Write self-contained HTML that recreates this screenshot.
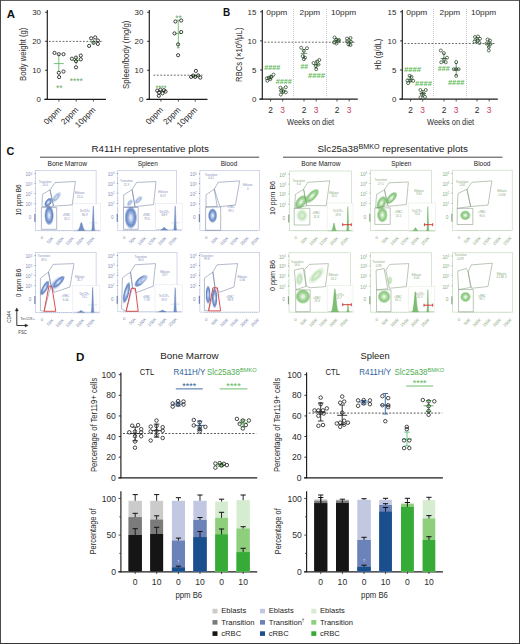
<!DOCTYPE html><html><head><meta charset="utf-8"><style>html,body{margin:0;padding:0;background:#fff;}body{width:520px;height:644px;overflow:hidden;}svg{display:block;font-family:"Liberation Sans", sans-serif;}</style></head><body>
<svg width="520" height="644" viewBox="0 0 520 644">
<defs>
<radialGradient id="gb"><stop offset="0" stop-color="#eef3fb"/><stop offset="0.35" stop-color="#aec2e6"/><stop offset="0.7" stop-color="#6a8bc9"/><stop offset="0.88" stop-color="#b5c7e7" stop-opacity="0.7"/><stop offset="1" stop-color="#ffffff" stop-opacity="0"/></radialGradient>
<radialGradient id="gbl"><stop offset="0" stop-color="#dbe5f4"/><stop offset="0.5" stop-color="#a5bce2"/><stop offset="1" stop-color="#ffffff" stop-opacity="0"/></radialGradient>
<radialGradient id="gg"><stop offset="0" stop-color="#f2faf0"/><stop offset="0.35" stop-color="#c4e4bc"/><stop offset="0.7" stop-color="#8ccb82"/><stop offset="0.88" stop-color="#c6e6bf" stop-opacity="0.7"/><stop offset="1" stop-color="#ffffff" stop-opacity="0"/></radialGradient>
<radialGradient id="ggl"><stop offset="0" stop-color="#e3f2df"/><stop offset="0.5" stop-color="#c4e5bc"/><stop offset="1" stop-color="#ffffff" stop-opacity="0"/></radialGradient>
</defs>
<rect x="0" y="0" width="520" height="644" fill="#ffffff"/>
<text x="6.7" y="17.8" font-size="11.2" fill="#111" font-weight="bold" textLength="8.3" lengthAdjust="spacingAndGlyphs">A</text>
<line x1="47.3" y1="10" x2="47.3" y2="99.8" stroke="#1c1c1c" stroke-width="1.15" />
<line x1="45.1" y1="12.3" x2="47.3" y2="12.3" stroke="#1c1c1c" stroke-width="0.9" />
<text x="41" y="15.14" font-size="7.9" fill="#2b2b2b" text-anchor="end">30</text>
<line x1="45.1" y1="41.3" x2="47.3" y2="41.3" stroke="#1c1c1c" stroke-width="0.9" />
<text x="41" y="44.14" font-size="7.9" fill="#2b2b2b" text-anchor="end">20</text>
<line x1="45.1" y1="70.3" x2="47.3" y2="70.3" stroke="#1c1c1c" stroke-width="0.9" />
<text x="41" y="73.14" font-size="7.9" fill="#2b2b2b" text-anchor="end">10</text>
<line x1="45.1" y1="99.3" x2="47.3" y2="99.3" stroke="#1c1c1c" stroke-width="0.9" />
<text x="41" y="102.14" font-size="7.9" fill="#2b2b2b" text-anchor="end">0</text>
<line x1="44.3" y1="99.3" x2="106" y2="99.3" stroke="#1c1c1c" stroke-width="1.15" />
<line x1="58.9" y1="99.3" x2="58.9" y2="101.6" stroke="#2b2b2b" stroke-width="0.8" />
<line x1="76.2" y1="99.3" x2="76.2" y2="101.6" stroke="#2b2b2b" stroke-width="0.8" />
<line x1="93.4" y1="99.3" x2="93.4" y2="101.6" stroke="#2b2b2b" stroke-width="0.8" />
<line x1="49" y1="41.4" x2="103.5" y2="41.4" stroke="#2b2b2b" stroke-width="0.7" stroke-dasharray="1.8,1.6"/>
<text x="61.5" y="110.5" font-size="8.2" fill="#2b2b2b" text-anchor="end" transform="rotate(-45 61.5 110.5)">0ppm</text>
<text x="78.8" y="110.5" font-size="8.2" fill="#2b2b2b" text-anchor="end" transform="rotate(-45 78.8 110.5)">2ppm</text>
<text x="96" y="110.5" font-size="8.2" fill="#2b2b2b" text-anchor="end" transform="rotate(-45 96 110.5)">10ppm</text>
<text x="26.3" y="54.3" font-size="8.8" fill="#2b2b2b" text-anchor="middle" textLength="53.3" lengthAdjust="spacingAndGlyphs" transform="rotate(-90 26.3 54.3)">Body weight (g)</text>
<line x1="53.8" y1="63.6" x2="63.8" y2="63.6" stroke="#4fae4f" stroke-width="0.75" />
<line x1="58.8" y1="54.2" x2="58.8" y2="71.7" stroke="#4fae4f" stroke-width="0.75" />
<line x1="58.8" y1="54.2" x2="58.8" y2="54.2" stroke="#4fae4f" stroke-width="0.75" />
<line x1="58.8" y1="71.7" x2="58.8" y2="71.7" stroke="#4fae4f" stroke-width="0.75" />
<line x1="72.7" y1="60.5" x2="79.7" y2="60.5" stroke="#4fae4f" stroke-width="0.75" />
<line x1="76.2" y1="57" x2="76.2" y2="64.5" stroke="#4fae4f" stroke-width="0.75" />
<line x1="76.2" y1="57" x2="76.2" y2="57" stroke="#4fae4f" stroke-width="0.75" />
<line x1="76.2" y1="64.5" x2="76.2" y2="64.5" stroke="#4fae4f" stroke-width="0.75" />
<line x1="90.1" y1="41.8" x2="97.1" y2="41.8" stroke="#4fae4f" stroke-width="0.75" />
<line x1="93.6" y1="39" x2="93.6" y2="44.5" stroke="#4fae4f" stroke-width="0.75" />
<line x1="93.6" y1="39" x2="93.6" y2="39" stroke="#4fae4f" stroke-width="0.75" />
<line x1="93.6" y1="44.5" x2="93.6" y2="44.5" stroke="#4fae4f" stroke-width="0.75" />
<circle cx="54.5" cy="52.9" r="1.6" fill="none" stroke="#1f1f1f" stroke-width="0.85"/>
<circle cx="58.8" cy="54.2" r="1.6" fill="none" stroke="#1f1f1f" stroke-width="0.85"/>
<circle cx="63.5" cy="54.2" r="1.6" fill="none" stroke="#1f1f1f" stroke-width="0.85"/>
<circle cx="58.8" cy="72.8" r="1.6" fill="none" stroke="#1f1f1f" stroke-width="0.85"/>
<circle cx="63.5" cy="71.5" r="1.6" fill="none" stroke="#1f1f1f" stroke-width="0.85"/>
<circle cx="59.1" cy="77.1" r="1.6" fill="none" stroke="#1f1f1f" stroke-width="0.85"/>
<circle cx="71.9" cy="58.7" r="1.6" fill="none" stroke="#1f1f1f" stroke-width="0.85"/>
<circle cx="76" cy="57.6" r="1.6" fill="none" stroke="#1f1f1f" stroke-width="0.85"/>
<circle cx="80.8" cy="55.6" r="1.6" fill="none" stroke="#1f1f1f" stroke-width="0.85"/>
<circle cx="80.8" cy="59.3" r="1.6" fill="none" stroke="#1f1f1f" stroke-width="0.85"/>
<circle cx="76" cy="61.2" r="1.6" fill="none" stroke="#1f1f1f" stroke-width="0.85"/>
<circle cx="76" cy="67.3" r="1.6" fill="none" stroke="#1f1f1f" stroke-width="0.85"/>
<circle cx="91.1" cy="38.3" r="1.6" fill="none" stroke="#1f1f1f" stroke-width="0.85"/>
<circle cx="95.2" cy="37.4" r="1.6" fill="none" stroke="#1f1f1f" stroke-width="0.85"/>
<circle cx="97.9" cy="40.5" r="1.6" fill="none" stroke="#1f1f1f" stroke-width="0.85"/>
<circle cx="89.1" cy="45.9" r="1.6" fill="none" stroke="#1f1f1f" stroke-width="0.85"/>
<circle cx="93.6" cy="42.8" r="1.6" fill="none" stroke="#1f1f1f" stroke-width="0.85"/>
<circle cx="97.9" cy="43.9" r="1.6" fill="none" stroke="#1f1f1f" stroke-width="0.85"/>
<text x="59.2" y="91" font-size="8.4" fill="#68a863" text-anchor="middle">**</text>
<text x="76.2" y="84.1" font-size="8.4" fill="#68a863" text-anchor="middle" textLength="13" lengthAdjust="spacingAndGlyphs">****</text>
<line x1="149.3" y1="10" x2="149.3" y2="99.8" stroke="#1c1c1c" stroke-width="1.15" />
<line x1="147.1" y1="12.3" x2="149.3" y2="12.3" stroke="#1c1c1c" stroke-width="0.9" />
<text x="143.3" y="15.14" font-size="7.9" fill="#2b2b2b" text-anchor="end">30</text>
<line x1="147.1" y1="41.3" x2="149.3" y2="41.3" stroke="#1c1c1c" stroke-width="0.9" />
<text x="143.3" y="44.14" font-size="7.9" fill="#2b2b2b" text-anchor="end">20</text>
<line x1="147.1" y1="70.3" x2="149.3" y2="70.3" stroke="#1c1c1c" stroke-width="0.9" />
<text x="143.3" y="73.14" font-size="7.9" fill="#2b2b2b" text-anchor="end">10</text>
<line x1="147.1" y1="99.3" x2="149.3" y2="99.3" stroke="#1c1c1c" stroke-width="0.9" />
<text x="143.3" y="102.14" font-size="7.9" fill="#2b2b2b" text-anchor="end">0</text>
<line x1="146.3" y1="99.3" x2="207.5" y2="99.3" stroke="#1c1c1c" stroke-width="1.15" />
<line x1="160.9" y1="99.3" x2="160.9" y2="101.6" stroke="#2b2b2b" stroke-width="0.8" />
<line x1="178.4" y1="99.3" x2="178.4" y2="101.6" stroke="#2b2b2b" stroke-width="0.8" />
<line x1="195.2" y1="99.3" x2="195.2" y2="101.6" stroke="#2b2b2b" stroke-width="0.8" />
<line x1="153.5" y1="75.2" x2="202.5" y2="75.2" stroke="#2b2b2b" stroke-width="0.7" stroke-dasharray="1.8,1.6"/>
<text x="163.5" y="110.5" font-size="8.2" fill="#2b2b2b" text-anchor="end" transform="rotate(-45 163.5 110.5)">0ppm</text>
<text x="181" y="110.5" font-size="8.2" fill="#2b2b2b" text-anchor="end" transform="rotate(-45 181 110.5)">2ppm</text>
<text x="197.8" y="110.5" font-size="8.2" fill="#2b2b2b" text-anchor="end" transform="rotate(-45 197.8 110.5)">10ppm</text>
<text x="128.6" y="54.7" font-size="8.8" fill="#2b2b2b" text-anchor="middle" textLength="68.4" lengthAdjust="spacingAndGlyphs" transform="rotate(-90 128.6 54.7)">Spleen/body (mg/g)</text>
<line x1="157.5" y1="91.5" x2="164.5" y2="91.5" stroke="#4fae4f" stroke-width="0.75" />
<line x1="161" y1="89.5" x2="161" y2="93.5" stroke="#4fae4f" stroke-width="0.75" />
<line x1="161" y1="89.5" x2="161" y2="89.5" stroke="#4fae4f" stroke-width="0.75" />
<line x1="161" y1="93.5" x2="161" y2="93.5" stroke="#4fae4f" stroke-width="0.75" />
<line x1="174.8" y1="33.6" x2="181.8" y2="33.6" stroke="#4fae4f" stroke-width="0.75" />
<line x1="178.3" y1="20.2" x2="178.3" y2="47.8" stroke="#4fae4f" stroke-width="0.75" />
<line x1="176.8" y1="20.2" x2="179.8" y2="20.2" stroke="#4fae4f" stroke-width="0.75" />
<line x1="176.8" y1="47.8" x2="179.8" y2="47.8" stroke="#4fae4f" stroke-width="0.75" />
<line x1="191.7" y1="75.8" x2="198.7" y2="75.8" stroke="#4fae4f" stroke-width="0.75" />
<line x1="195.2" y1="74.5" x2="195.2" y2="77.3" stroke="#4fae4f" stroke-width="0.75" />
<line x1="195.2" y1="74.5" x2="195.2" y2="74.5" stroke="#4fae4f" stroke-width="0.75" />
<line x1="195.2" y1="77.3" x2="195.2" y2="77.3" stroke="#4fae4f" stroke-width="0.75" />
<circle cx="157.2" cy="90.6" r="1.6" fill="none" stroke="#1f1f1f" stroke-width="0.85"/>
<circle cx="160.5" cy="89.6" r="1.6" fill="none" stroke="#1f1f1f" stroke-width="0.85"/>
<circle cx="164" cy="90.2" r="1.6" fill="none" stroke="#1f1f1f" stroke-width="0.85"/>
<circle cx="165.5" cy="91.5" r="1.6" fill="none" stroke="#1f1f1f" stroke-width="0.85"/>
<circle cx="159" cy="92.6" r="1.6" fill="none" stroke="#1f1f1f" stroke-width="0.85"/>
<circle cx="158.8" cy="95.8" r="1.6" fill="none" stroke="#1f1f1f" stroke-width="0.85"/>
<circle cx="162.5" cy="93.3" r="1.6" fill="none" stroke="#1f1f1f" stroke-width="0.85"/>
<circle cx="175.4" cy="21.5" r="1.6" fill="none" stroke="#1f1f1f" stroke-width="0.85"/>
<circle cx="181.2" cy="20.5" r="1.6" fill="none" stroke="#1f1f1f" stroke-width="0.85"/>
<circle cx="174.5" cy="33.4" r="1.6" fill="none" stroke="#1f1f1f" stroke-width="0.85"/>
<circle cx="181.2" cy="32" r="1.6" fill="none" stroke="#1f1f1f" stroke-width="0.85"/>
<circle cx="178.1" cy="44.4" r="1.6" fill="none" stroke="#1f1f1f" stroke-width="0.85"/>
<circle cx="178.1" cy="55.2" r="1.6" fill="none" stroke="#1f1f1f" stroke-width="0.85"/>
<circle cx="195.9" cy="70.9" r="1.6" fill="none" stroke="#1f1f1f" stroke-width="0.85"/>
<circle cx="191.1" cy="76.9" r="1.6" fill="none" stroke="#1f1f1f" stroke-width="0.85"/>
<circle cx="195.2" cy="76.9" r="1.6" fill="none" stroke="#1f1f1f" stroke-width="0.85"/>
<circle cx="200.3" cy="77.6" r="1.6" fill="none" stroke="#1f1f1f" stroke-width="0.85"/>
<circle cx="193.2" cy="75.6" r="1.6" fill="none" stroke="#1f1f1f" stroke-width="0.85"/>
<circle cx="198.2" cy="75.4" r="1.6" fill="none" stroke="#1f1f1f" stroke-width="0.85"/>
<text x="161" y="90.5" font-size="8.4" fill="#68a863" text-anchor="middle" textLength="11" lengthAdjust="spacingAndGlyphs">****</text>
<text x="178.4" y="21.2" font-size="8.4" fill="#68a863" text-anchor="middle">**</text>
<text x="223" y="15.9" font-size="11.2" fill="#111" font-weight="bold" textLength="7.2" lengthAdjust="spacingAndGlyphs">B</text>
<line x1="262.3" y1="10" x2="262.3" y2="99.6" stroke="#1c1c1c" stroke-width="1.15" />
<line x1="260.1" y1="11.8" x2="262.3" y2="11.8" stroke="#1c1c1c" stroke-width="0.9" />
<text x="256.3" y="14.64" font-size="7.9" fill="#2b2b2b" text-anchor="end">15</text>
<line x1="260.1" y1="40.9" x2="262.3" y2="40.9" stroke="#1c1c1c" stroke-width="0.9" />
<text x="256.3" y="43.74" font-size="7.9" fill="#2b2b2b" text-anchor="end">10</text>
<line x1="260.1" y1="70" x2="262.3" y2="70" stroke="#1c1c1c" stroke-width="0.9" />
<text x="256.3" y="72.84" font-size="7.9" fill="#2b2b2b" text-anchor="end">5</text>
<line x1="260.1" y1="99.1" x2="262.3" y2="99.1" stroke="#1c1c1c" stroke-width="0.9" />
<text x="256.3" y="101.94" font-size="7.9" fill="#2b2b2b" text-anchor="end">0</text>
<line x1="259.3" y1="99.1" x2="357.8" y2="99.1" stroke="#1c1c1c" stroke-width="1.15" />
<line x1="293.5" y1="9" x2="293.5" y2="97.5" stroke="#9a9a9a" stroke-width="0.6" stroke-dasharray="0.9,1.1"/>
<line x1="326.5" y1="9" x2="326.5" y2="97.5" stroke="#9a9a9a" stroke-width="0.6" stroke-dasharray="0.9,1.1"/>
<line x1="264.3" y1="42.2" x2="355" y2="42.2" stroke="#2b2b2b" stroke-width="0.7" stroke-dasharray="1.8,1.6"/>
<text x="266.3" y="14.6" font-size="8" fill="#2b2b2b" textLength="21" lengthAdjust="spacingAndGlyphs">0ppm</text>
<text x="299.6" y="14.6" font-size="8" fill="#2b2b2b" textLength="20.6" lengthAdjust="spacingAndGlyphs">2ppm</text>
<text x="330.9" y="14.6" font-size="8" fill="#2b2b2b" textLength="25.3" lengthAdjust="spacingAndGlyphs">10ppm</text>
<line x1="270.6" y1="99.1" x2="270.6" y2="101.5" stroke="#2b2b2b" stroke-width="0.8" />
<text x="270.6" y="112.6" font-size="8.4" fill="#2b2b2b" text-anchor="middle">2</text>
<line x1="282.7" y1="99.1" x2="282.7" y2="101.5" stroke="#2b2b2b" stroke-width="0.8" />
<text x="282.7" y="112.6" font-size="8.4" fill="#c63a5e" text-anchor="middle">3</text>
<line x1="304" y1="99.1" x2="304" y2="101.5" stroke="#2b2b2b" stroke-width="0.8" />
<text x="304" y="112.6" font-size="8.4" fill="#2b2b2b" text-anchor="middle">2</text>
<line x1="316.2" y1="99.1" x2="316.2" y2="101.5" stroke="#2b2b2b" stroke-width="0.8" />
<text x="316.2" y="112.6" font-size="8.4" fill="#c63a5e" text-anchor="middle">3</text>
<line x1="337" y1="99.1" x2="337" y2="101.5" stroke="#2b2b2b" stroke-width="0.8" />
<text x="337" y="112.6" font-size="8.4" fill="#2b2b2b" text-anchor="middle">2</text>
<line x1="349.2" y1="99.1" x2="349.2" y2="101.5" stroke="#2b2b2b" stroke-width="0.8" />
<text x="349.2" y="112.6" font-size="8.4" fill="#c63a5e" text-anchor="middle">3</text>
<text x="310.6" y="125.1" font-size="9.7" fill="#2b2b2b" text-anchor="middle" textLength="47" lengthAdjust="spacingAndGlyphs">Weeks on diet</text>
<text x="0" y="0" font-size="8.8" fill="#2b2b2b" text-anchor="middle" transform="translate(241.6 54.8) rotate(-90) scale(0.8812 1)">RBCs (×10<tspan font-size="6" dy="-3">6</tspan><tspan dy="3">/µL)</tspan></text>
<line x1="267.35" y1="77" x2="273.85" y2="77" stroke="#2f6b2f" stroke-width="0.7" />
<line x1="270.6" y1="75.2" x2="270.6" y2="79" stroke="#2f6b2f" stroke-width="0.7" />
<line x1="269.4" y1="75.2" x2="271.8" y2="75.2" stroke="#2f6b2f" stroke-width="0.7" />
<line x1="269.4" y1="79" x2="271.8" y2="79" stroke="#2f6b2f" stroke-width="0.7" />
<circle cx="267.3" cy="80.8" r="1.5" fill="none" stroke="#1e3a1e" stroke-width="0.7"/>
<circle cx="268.8" cy="77.7" r="1.5" fill="none" stroke="#1e3a1e" stroke-width="0.7"/>
<circle cx="271.2" cy="77" r="1.5" fill="none" stroke="#1e3a1e" stroke-width="0.7"/>
<circle cx="273.5" cy="74.6" r="1.5" fill="none" stroke="#1e3a1e" stroke-width="0.7"/>
<circle cx="270.3" cy="79.2" r="1.5" fill="none" stroke="#1e3a1e" stroke-width="0.7"/>
<circle cx="266.9" cy="78.3" r="1.5" fill="none" stroke="#1e3a1e" stroke-width="0.7"/>
<line x1="279.45" y1="91" x2="285.95" y2="91" stroke="#2f6b2f" stroke-width="0.7" />
<line x1="282.7" y1="88" x2="282.7" y2="93.5" stroke="#2f6b2f" stroke-width="0.7" />
<line x1="281.5" y1="88" x2="283.9" y2="88" stroke="#2f6b2f" stroke-width="0.7" />
<line x1="281.5" y1="93.5" x2="283.9" y2="93.5" stroke="#2f6b2f" stroke-width="0.7" />
<circle cx="280.4" cy="87.7" r="1.5" fill="none" stroke="#1e3a1e" stroke-width="0.7"/>
<circle cx="285.8" cy="87.2" r="1.5" fill="none" stroke="#1e3a1e" stroke-width="0.7"/>
<circle cx="281.2" cy="90.8" r="1.5" fill="none" stroke="#1e3a1e" stroke-width="0.7"/>
<circle cx="285.8" cy="92.3" r="1.5" fill="none" stroke="#1e3a1e" stroke-width="0.7"/>
<circle cx="280.8" cy="94.6" r="1.5" fill="none" stroke="#1e3a1e" stroke-width="0.7"/>
<circle cx="283.5" cy="91.2" r="1.5" fill="none" stroke="#1e3a1e" stroke-width="0.7"/>
<line x1="300.65" y1="53.4" x2="307.15" y2="53.4" stroke="#2f6b2f" stroke-width="0.7" />
<line x1="303.9" y1="49.5" x2="303.9" y2="57.5" stroke="#2f6b2f" stroke-width="0.7" />
<line x1="302.7" y1="49.5" x2="305.1" y2="49.5" stroke="#2f6b2f" stroke-width="0.7" />
<line x1="302.7" y1="57.5" x2="305.1" y2="57.5" stroke="#2f6b2f" stroke-width="0.7" />
<circle cx="301.2" cy="47.7" r="1.5" fill="none" stroke="#1e3a1e" stroke-width="0.7"/>
<circle cx="307" cy="48.2" r="1.5" fill="none" stroke="#1e3a1e" stroke-width="0.7"/>
<circle cx="303.9" cy="50.8" r="1.5" fill="none" stroke="#1e3a1e" stroke-width="0.7"/>
<circle cx="302.7" cy="56.2" r="1.5" fill="none" stroke="#1e3a1e" stroke-width="0.7"/>
<circle cx="305" cy="57.7" r="1.5" fill="none" stroke="#1e3a1e" stroke-width="0.7"/>
<circle cx="303.9" cy="59.2" r="1.5" fill="none" stroke="#1e3a1e" stroke-width="0.7"/>
<line x1="312.95" y1="64.5" x2="319.45" y2="64.5" stroke="#2f6b2f" stroke-width="0.7" />
<line x1="316.2" y1="61" x2="316.2" y2="68" stroke="#2f6b2f" stroke-width="0.7" />
<line x1="315" y1="61" x2="317.4" y2="61" stroke="#2f6b2f" stroke-width="0.7" />
<line x1="315" y1="68" x2="317.4" y2="68" stroke="#2f6b2f" stroke-width="0.7" />
<circle cx="313.5" cy="63" r="1.5" fill="none" stroke="#1e3a1e" stroke-width="0.7"/>
<circle cx="317.3" cy="61.5" r="1.5" fill="none" stroke="#1e3a1e" stroke-width="0.7"/>
<circle cx="319.3" cy="60" r="1.5" fill="none" stroke="#1e3a1e" stroke-width="0.7"/>
<circle cx="315.8" cy="66.2" r="1.5" fill="none" stroke="#1e3a1e" stroke-width="0.7"/>
<circle cx="316.2" cy="69.2" r="1.5" fill="none" stroke="#1e3a1e" stroke-width="0.7"/>
<circle cx="318.5" cy="64.5" r="1.5" fill="none" stroke="#1e3a1e" stroke-width="0.7"/>
<line x1="332.95" y1="40.8" x2="339.45" y2="40.8" stroke="#2f6b2f" stroke-width="0.7" />
<line x1="336.2" y1="38.5" x2="336.2" y2="43" stroke="#2f6b2f" stroke-width="0.7" />
<line x1="335" y1="38.5" x2="337.4" y2="38.5" stroke="#2f6b2f" stroke-width="0.7" />
<line x1="335" y1="43" x2="337.4" y2="43" stroke="#2f6b2f" stroke-width="0.7" />
<circle cx="334.5" cy="37.5" r="1.5" fill="none" stroke="#1e3a1e" stroke-width="0.7"/>
<circle cx="336.2" cy="39.5" r="1.5" fill="none" stroke="#1e3a1e" stroke-width="0.7"/>
<circle cx="338.5" cy="41" r="1.5" fill="none" stroke="#1e3a1e" stroke-width="0.7"/>
<circle cx="334" cy="42.5" r="1.5" fill="none" stroke="#1e3a1e" stroke-width="0.7"/>
<circle cx="336.5" cy="43.5" r="1.5" fill="none" stroke="#1e3a1e" stroke-width="0.7"/>
<circle cx="339" cy="40" r="1.5" fill="none" stroke="#1e3a1e" stroke-width="0.7"/>
<line x1="345.95" y1="42" x2="352.45" y2="42" stroke="#2f6b2f" stroke-width="0.7" />
<line x1="349.2" y1="38.5" x2="349.2" y2="45.5" stroke="#2f6b2f" stroke-width="0.7" />
<line x1="348" y1="38.5" x2="350.4" y2="38.5" stroke="#2f6b2f" stroke-width="0.7" />
<line x1="348" y1="45.5" x2="350.4" y2="45.5" stroke="#2f6b2f" stroke-width="0.7" />
<circle cx="347" cy="38.5" r="1.5" fill="none" stroke="#1e3a1e" stroke-width="0.7"/>
<circle cx="350.5" cy="38" r="1.5" fill="none" stroke="#1e3a1e" stroke-width="0.7"/>
<circle cx="347" cy="41.5" r="1.5" fill="none" stroke="#1e3a1e" stroke-width="0.7"/>
<circle cx="351" cy="41.8" r="1.5" fill="none" stroke="#1e3a1e" stroke-width="0.7"/>
<circle cx="348.5" cy="44.5" r="1.5" fill="none" stroke="#1e3a1e" stroke-width="0.7"/>
<circle cx="350.5" cy="45" r="1.5" fill="none" stroke="#1e3a1e" stroke-width="0.7"/>
<text x="272.3" y="70" font-size="7" fill="#5cb852" text-anchor="middle" font-weight="bold" textLength="16.2" lengthAdjust="spacingAndGlyphs">####</text>
<text x="283.85" y="83.8" font-size="7" fill="#5cb852" text-anchor="middle" font-weight="bold" textLength="16.1" lengthAdjust="spacingAndGlyphs">####</text>
<text x="304.2" y="68.8" font-size="7" fill="#5cb852" text-anchor="middle" font-weight="bold" textLength="7.6" lengthAdjust="spacingAndGlyphs">##</text>
<text x="316.5" y="78.4" font-size="7" fill="#5cb852" text-anchor="middle" font-weight="bold" textLength="17" lengthAdjust="spacingAndGlyphs">####</text>
<line x1="402.3" y1="10" x2="402.3" y2="99.6" stroke="#1c1c1c" stroke-width="1.15" />
<line x1="400.1" y1="11.8" x2="402.3" y2="11.8" stroke="#1c1c1c" stroke-width="0.9" />
<text x="396.3" y="14.64" font-size="7.9" fill="#2b2b2b" text-anchor="end">15</text>
<line x1="400.1" y1="40.9" x2="402.3" y2="40.9" stroke="#1c1c1c" stroke-width="0.9" />
<text x="396.3" y="43.74" font-size="7.9" fill="#2b2b2b" text-anchor="end">10</text>
<line x1="400.1" y1="70" x2="402.3" y2="70" stroke="#1c1c1c" stroke-width="0.9" />
<text x="396.3" y="72.84" font-size="7.9" fill="#2b2b2b" text-anchor="end">5</text>
<line x1="400.1" y1="99.1" x2="402.3" y2="99.1" stroke="#1c1c1c" stroke-width="0.9" />
<text x="396.3" y="101.94" font-size="7.9" fill="#2b2b2b" text-anchor="end">0</text>
<line x1="399.3" y1="99.1" x2="497.8" y2="99.1" stroke="#1c1c1c" stroke-width="1.15" />
<line x1="433.5" y1="9" x2="433.5" y2="97.5" stroke="#9a9a9a" stroke-width="0.6" stroke-dasharray="0.9,1.1"/>
<line x1="466.5" y1="9" x2="466.5" y2="97.5" stroke="#9a9a9a" stroke-width="0.6" stroke-dasharray="0.9,1.1"/>
<line x1="404.3" y1="43.5" x2="495" y2="43.5" stroke="#2b2b2b" stroke-width="0.7" stroke-dasharray="1.8,1.6"/>
<text x="406.3" y="14.6" font-size="8" fill="#2b2b2b" textLength="21" lengthAdjust="spacingAndGlyphs">0ppm</text>
<text x="439.6" y="14.6" font-size="8" fill="#2b2b2b" textLength="20.6" lengthAdjust="spacingAndGlyphs">2ppm</text>
<text x="470.9" y="14.6" font-size="8" fill="#2b2b2b" textLength="25.3" lengthAdjust="spacingAndGlyphs">10ppm</text>
<line x1="410.6" y1="99.1" x2="410.6" y2="101.5" stroke="#2b2b2b" stroke-width="0.8" />
<text x="410.6" y="112.6" font-size="8.4" fill="#2b2b2b" text-anchor="middle">2</text>
<line x1="422.7" y1="99.1" x2="422.7" y2="101.5" stroke="#2b2b2b" stroke-width="0.8" />
<text x="422.7" y="112.6" font-size="8.4" fill="#c63a5e" text-anchor="middle">3</text>
<line x1="444" y1="99.1" x2="444" y2="101.5" stroke="#2b2b2b" stroke-width="0.8" />
<text x="444" y="112.6" font-size="8.4" fill="#2b2b2b" text-anchor="middle">2</text>
<line x1="456.2" y1="99.1" x2="456.2" y2="101.5" stroke="#2b2b2b" stroke-width="0.8" />
<text x="456.2" y="112.6" font-size="8.4" fill="#c63a5e" text-anchor="middle">3</text>
<line x1="477" y1="99.1" x2="477" y2="101.5" stroke="#2b2b2b" stroke-width="0.8" />
<text x="477" y="112.6" font-size="8.4" fill="#2b2b2b" text-anchor="middle">2</text>
<line x1="489.2" y1="99.1" x2="489.2" y2="101.5" stroke="#2b2b2b" stroke-width="0.8" />
<text x="489.2" y="112.6" font-size="8.4" fill="#c63a5e" text-anchor="middle">3</text>
<text x="450.6" y="125.1" font-size="9.7" fill="#2b2b2b" text-anchor="middle" textLength="47" lengthAdjust="spacingAndGlyphs">Weeks on diet</text>
<text x="0" y="0" font-size="8.8" fill="#2b2b2b" text-anchor="middle" transform="translate(381.2 54.2) rotate(-90) scale(0.8479 1)">Hb (g/dL)</text>
<line x1="407.15" y1="79.2" x2="413.65" y2="79.2" stroke="#2f6b2f" stroke-width="0.7" />
<line x1="410.4" y1="76.5" x2="410.4" y2="81.5" stroke="#2f6b2f" stroke-width="0.7" />
<line x1="409.2" y1="76.5" x2="411.6" y2="76.5" stroke="#2f6b2f" stroke-width="0.7" />
<line x1="409.2" y1="81.5" x2="411.6" y2="81.5" stroke="#2f6b2f" stroke-width="0.7" />
<circle cx="409.6" cy="75.8" r="1.5" fill="none" stroke="#1e3a1e" stroke-width="0.7"/>
<circle cx="410.4" cy="80.8" r="1.5" fill="none" stroke="#1e3a1e" stroke-width="0.7"/>
<circle cx="408.1" cy="83.1" r="1.5" fill="none" stroke="#1e3a1e" stroke-width="0.7"/>
<circle cx="413.2" cy="80.8" r="1.5" fill="none" stroke="#1e3a1e" stroke-width="0.7"/>
<circle cx="411.5" cy="76.8" r="1.5" fill="none" stroke="#1e3a1e" stroke-width="0.7"/>
<circle cx="407.5" cy="80.5" r="1.5" fill="none" stroke="#1e3a1e" stroke-width="0.7"/>
<line x1="419.45" y1="93.5" x2="425.95" y2="93.5" stroke="#2f6b2f" stroke-width="0.7" />
<line x1="422.7" y1="90.5" x2="422.7" y2="96.5" stroke="#2f6b2f" stroke-width="0.7" />
<line x1="421.5" y1="90.5" x2="423.9" y2="90.5" stroke="#2f6b2f" stroke-width="0.7" />
<line x1="421.5" y1="96.5" x2="423.9" y2="96.5" stroke="#2f6b2f" stroke-width="0.7" />
<circle cx="420.4" cy="90" r="1.5" fill="none" stroke="#1e3a1e" stroke-width="0.7"/>
<circle cx="425.8" cy="90" r="1.5" fill="none" stroke="#1e3a1e" stroke-width="0.7"/>
<circle cx="421.9" cy="93.8" r="1.5" fill="none" stroke="#1e3a1e" stroke-width="0.7"/>
<circle cx="425" cy="96.9" r="1.5" fill="none" stroke="#1e3a1e" stroke-width="0.7"/>
<circle cx="420.5" cy="97.3" r="1.5" fill="none" stroke="#1e3a1e" stroke-width="0.7"/>
<circle cx="423.5" cy="93.5" r="1.5" fill="none" stroke="#1e3a1e" stroke-width="0.7"/>
<line x1="440.65" y1="58.5" x2="447.15" y2="58.5" stroke="#2f6b2f" stroke-width="0.7" />
<line x1="443.9" y1="54" x2="443.9" y2="62.5" stroke="#2f6b2f" stroke-width="0.7" />
<line x1="442.7" y1="54" x2="445.1" y2="54" stroke="#2f6b2f" stroke-width="0.7" />
<line x1="442.7" y1="62.5" x2="445.1" y2="62.5" stroke="#2f6b2f" stroke-width="0.7" />
<circle cx="440.8" cy="50.5" r="1.5" fill="none" stroke="#1e3a1e" stroke-width="0.7"/>
<circle cx="443.9" cy="53.1" r="1.5" fill="none" stroke="#1e3a1e" stroke-width="0.7"/>
<circle cx="447" cy="57.7" r="1.5" fill="none" stroke="#1e3a1e" stroke-width="0.7"/>
<circle cx="441.2" cy="62.3" r="1.5" fill="none" stroke="#1e3a1e" stroke-width="0.7"/>
<circle cx="445.8" cy="62.3" r="1.5" fill="none" stroke="#1e3a1e" stroke-width="0.7"/>
<circle cx="443.9" cy="59.5" r="1.5" fill="none" stroke="#1e3a1e" stroke-width="0.7"/>
<line x1="452.95" y1="69.2" x2="459.45" y2="69.2" stroke="#2f6b2f" stroke-width="0.7" />
<line x1="456.2" y1="63.5" x2="456.2" y2="75" stroke="#2f6b2f" stroke-width="0.7" />
<line x1="455" y1="63.5" x2="457.4" y2="63.5" stroke="#2f6b2f" stroke-width="0.7" />
<line x1="455" y1="75" x2="457.4" y2="75" stroke="#2f6b2f" stroke-width="0.7" />
<circle cx="456.2" cy="62" r="1.5" fill="none" stroke="#1e3a1e" stroke-width="0.7"/>
<circle cx="456.2" cy="69.2" r="1.5" fill="none" stroke="#1e3a1e" stroke-width="0.7"/>
<circle cx="456.2" cy="75.8" r="1.5" fill="none" stroke="#1e3a1e" stroke-width="0.7"/>
<circle cx="453.8" cy="69.2" r="1.5" fill="none" stroke="#1e3a1e" stroke-width="0.7"/>
<circle cx="458.6" cy="69.2" r="1.5" fill="none" stroke="#1e3a1e" stroke-width="0.7"/>
<line x1="473.45" y1="40" x2="479.95" y2="40" stroke="#2f6b2f" stroke-width="0.7" />
<line x1="476.7" y1="37.5" x2="476.7" y2="42.5" stroke="#2f6b2f" stroke-width="0.7" />
<line x1="475.5" y1="37.5" x2="477.9" y2="37.5" stroke="#2f6b2f" stroke-width="0.7" />
<line x1="475.5" y1="42.5" x2="477.9" y2="42.5" stroke="#2f6b2f" stroke-width="0.7" />
<circle cx="475" cy="37" r="1.5" fill="none" stroke="#1e3a1e" stroke-width="0.7"/>
<circle cx="478" cy="36.5" r="1.5" fill="none" stroke="#1e3a1e" stroke-width="0.7"/>
<circle cx="480" cy="38.8" r="1.5" fill="none" stroke="#1e3a1e" stroke-width="0.7"/>
<circle cx="474.5" cy="41.5" r="1.5" fill="none" stroke="#1e3a1e" stroke-width="0.7"/>
<circle cx="477.5" cy="40.5" r="1.5" fill="none" stroke="#1e3a1e" stroke-width="0.7"/>
<circle cx="479.5" cy="43" r="1.5" fill="none" stroke="#1e3a1e" stroke-width="0.7"/>
<line x1="485.55" y1="44" x2="492.05" y2="44" stroke="#2f6b2f" stroke-width="0.7" />
<line x1="488.8" y1="41" x2="488.8" y2="47" stroke="#2f6b2f" stroke-width="0.7" />
<line x1="487.6" y1="41" x2="490" y2="41" stroke="#2f6b2f" stroke-width="0.7" />
<line x1="487.6" y1="47" x2="490" y2="47" stroke="#2f6b2f" stroke-width="0.7" />
<circle cx="487.5" cy="39.5" r="1.5" fill="none" stroke="#1e3a1e" stroke-width="0.7"/>
<circle cx="490" cy="40.5" r="1.5" fill="none" stroke="#1e3a1e" stroke-width="0.7"/>
<circle cx="486.5" cy="43.5" r="1.5" fill="none" stroke="#1e3a1e" stroke-width="0.7"/>
<circle cx="490.5" cy="44" r="1.5" fill="none" stroke="#1e3a1e" stroke-width="0.7"/>
<circle cx="488.8" cy="47" r="1.5" fill="none" stroke="#1e3a1e" stroke-width="0.7"/>
<circle cx="488.8" cy="50.5" r="1.5" fill="none" stroke="#1e3a1e" stroke-width="0.7"/>
<text x="412.55" y="71.8" font-size="7" fill="#5cb852" text-anchor="middle" font-weight="bold" textLength="17.3" lengthAdjust="spacingAndGlyphs">####</text>
<text x="423.45" y="86.4" font-size="7" fill="#5cb852" text-anchor="middle" font-weight="bold" textLength="16.9" lengthAdjust="spacingAndGlyphs">####</text>
<text x="443.7" y="71.4" font-size="7" fill="#5cb852" text-anchor="middle" font-weight="bold" textLength="11.8" lengthAdjust="spacingAndGlyphs">###</text>
<text x="456.25" y="85.4" font-size="7" fill="#5cb852" text-anchor="middle" font-weight="bold" textLength="16.5" lengthAdjust="spacingAndGlyphs">####</text>
<text x="6.4" y="154.7" font-size="11.2" fill="#111" font-weight="bold" textLength="7.8" lengthAdjust="spacingAndGlyphs">C</text>
<text x="91.5" y="151.8" font-size="9.6" fill="#1a1a1a" textLength="117.3" lengthAdjust="spacingAndGlyphs">R411H representative plots</text>
<line x1="40" y1="157.2" x2="259.2" y2="157.2" stroke="#333" stroke-width="0.9" />
<text x="317.5" y="151.8" font-size="9.6" fill="#1a1a1a" textLength="150.5" lengthAdjust="spacingAndGlyphs">Slc25a38<tspan font-size="7" dy="-3.2">BMKO</tspan><tspan dy="3.2"> representative plots</tspan></text>
<line x1="283" y1="157.2" x2="502.5" y2="157.2" stroke="#333" stroke-width="0.9" />
<text x="67.25" y="165.8" font-size="6.6" fill="#222" text-anchor="middle" textLength="39.5" lengthAdjust="spacingAndGlyphs">Bone Marrow</text>
<text x="147.75" y="165.8" font-size="6.6" fill="#222" text-anchor="middle" textLength="20.1" lengthAdjust="spacingAndGlyphs">Spleen</text>
<text x="229.05" y="165.8" font-size="6.6" fill="#222" text-anchor="middle" textLength="16.5" lengthAdjust="spacingAndGlyphs">Blood</text>
<text x="320.9" y="165.8" font-size="6.6" fill="#222" text-anchor="middle" textLength="39.2" lengthAdjust="spacingAndGlyphs">Bone Marrow</text>
<text x="401.3" y="165.8" font-size="6.6" fill="#222" text-anchor="middle" textLength="20" lengthAdjust="spacingAndGlyphs">Spleen</text>
<text x="482.15" y="165.8" font-size="6.6" fill="#222" text-anchor="middle" textLength="16.7" lengthAdjust="spacingAndGlyphs">Blood</text>
<text x="21" y="200" font-size="7.2" fill="#222" text-anchor="middle" textLength="31" lengthAdjust="spacingAndGlyphs" transform="rotate(-90 21 200)">10 ppm B6</text>
<text x="21" y="282.9" font-size="7.2" fill="#222" text-anchor="middle" textLength="28.5" lengthAdjust="spacingAndGlyphs" transform="rotate(-90 21 282.9)">0 ppm B6</text>
<text x="275.2" y="198" font-size="7.2" fill="#222" text-anchor="middle" textLength="34" lengthAdjust="spacingAndGlyphs" transform="rotate(-90 275.2 198)">10 ppm B6</text>
<text x="275.2" y="275.5" font-size="7.2" fill="#222" text-anchor="middle" textLength="31" lengthAdjust="spacingAndGlyphs" transform="rotate(-90 275.2 275.5)">0 ppm B6</text>
<line x1="16.8" y1="310" x2="16.8" y2="325.5" stroke="#222" stroke-width="0.9" />
<line x1="16.8" y1="325.5" x2="26" y2="325.5" stroke="#222" stroke-width="0.9" />
<polygon points="16.8,307.8 15.2,311 18.4,311" fill="#222" stroke="#222" stroke-width="0.3" stroke-linejoin="round" />
<polygon points="28.2,325.5 25,323.9 25,327.1" fill="#222" stroke="#222" stroke-width="0.3" stroke-linejoin="round" />
<text x="11.2" y="316.8" font-size="5.4" fill="#333" text-anchor="middle" textLength="12" lengthAdjust="spacingAndGlyphs" transform="rotate(-90 11.2 316.8)">CD44</text>
<text x="20.2" y="320.4" font-size="4.2" fill="#555" textLength="14.6" lengthAdjust="spacingAndGlyphs">Ter119+</text>
<text x="22.6" y="334.3" font-size="5.4" fill="#333" text-anchor="middle" textLength="8.5" lengthAdjust="spacingAndGlyphs">FSC</text>
<rect x="35.5" y="170.5" width="60.6" height="60.1" fill="none" stroke="#b4bfdb" stroke-width="0.6"/>
<text x="32.2" y="176.2" font-size="4.7" fill="#7f8fb8" text-anchor="end">10<tspan font-size="2.8" dy="-1.6">4</tspan></text>
<line x1="34.5" y1="173.7" x2="35.5" y2="173.7" stroke="#4b5f95" stroke-width="0.7" />
<text x="32.2" y="186.1" font-size="4.7" fill="#7f8fb8" text-anchor="end">10<tspan font-size="2.8" dy="-1.6">3</tspan></text>
<line x1="34.5" y1="183.6" x2="35.5" y2="183.6" stroke="#4b5f95" stroke-width="0.7" />
<text x="32.2" y="195.9" font-size="4.7" fill="#7f8fb8" text-anchor="end">10<tspan font-size="2.8" dy="-1.6">2</tspan></text>
<line x1="34.5" y1="193.4" x2="35.5" y2="193.4" stroke="#4b5f95" stroke-width="0.7" />
<text x="32.2" y="206.2" font-size="4.7" fill="#7f8fb8" text-anchor="end">10<tspan font-size="2.8" dy="-1.6">1</tspan></text>
<line x1="34.5" y1="203.7" x2="35.5" y2="203.7" stroke="#4b5f95" stroke-width="0.7" />
<text x="31.3" y="219.1" font-size="4.7" fill="#7f8fb8" text-anchor="end">0</text>
<line x1="34.9" y1="178.5" x2="35.5" y2="178.5" stroke="#4b5f95" stroke-width="0.4" />
<line x1="34.9" y1="181" x2="35.5" y2="181" stroke="#4b5f95" stroke-width="0.4" />
<line x1="34.9" y1="188.5" x2="35.5" y2="188.5" stroke="#4b5f95" stroke-width="0.4" />
<line x1="34.9" y1="191" x2="35.5" y2="191" stroke="#4b5f95" stroke-width="0.4" />
<line x1="34.9" y1="198.5" x2="35.5" y2="198.5" stroke="#4b5f95" stroke-width="0.4" />
<line x1="34.9" y1="201" x2="35.5" y2="201" stroke="#4b5f95" stroke-width="0.4" />
<line x1="34.9" y1="208.5" x2="35.5" y2="208.5" stroke="#4b5f95" stroke-width="0.4" />
<line x1="34.9" y1="211" x2="35.5" y2="211" stroke="#4b5f95" stroke-width="0.4" />
<line x1="34.9" y1="214" x2="34.9" y2="222" stroke="#4b5f95" stroke-width="0.9" />
<text x="41.9" y="239" font-size="4.3" fill="#7383ae" text-anchor="middle">0</text>
<text x="53.9" y="238.5" font-size="4.3" fill="#7383ae" text-anchor="end" transform="rotate(-45 53.9 238.5)">50K</text>
<text x="64.3" y="238.5" font-size="4.3" fill="#7383ae" text-anchor="end" transform="rotate(-45 64.3 238.5)">100K</text>
<text x="74.3" y="238.5" font-size="4.3" fill="#7383ae" text-anchor="end" transform="rotate(-45 74.3 238.5)">150K</text>
<text x="84.6" y="238.5" font-size="4.3" fill="#7383ae" text-anchor="end" transform="rotate(-45 84.6 238.5)">200K</text>
<text x="95.1" y="238.5" font-size="4.3" fill="#7383ae" text-anchor="end" transform="rotate(-45 95.1 238.5)">250K</text>
<line x1="41.05" y1="230.6" x2="41.05" y2="231.2" stroke="#4b5f95" stroke-width="0.35" />
<line x1="43.1" y1="230.6" x2="43.1" y2="231.2" stroke="#4b5f95" stroke-width="0.35" />
<line x1="45.15" y1="230.6" x2="45.15" y2="231.2" stroke="#4b5f95" stroke-width="0.35" />
<line x1="47.2" y1="230.6" x2="47.2" y2="231.2" stroke="#4b5f95" stroke-width="0.35" />
<line x1="49.25" y1="230.6" x2="49.25" y2="231.2" stroke="#4b5f95" stroke-width="0.35" />
<line x1="51.3" y1="230.6" x2="51.3" y2="231.2" stroke="#4b5f95" stroke-width="0.35" />
<line x1="53.35" y1="230.6" x2="53.35" y2="231.2" stroke="#4b5f95" stroke-width="0.35" />
<line x1="55.4" y1="230.6" x2="55.4" y2="231.2" stroke="#4b5f95" stroke-width="0.35" />
<line x1="57.45" y1="230.6" x2="57.45" y2="231.2" stroke="#4b5f95" stroke-width="0.35" />
<line x1="59.5" y1="230.6" x2="59.5" y2="231.2" stroke="#4b5f95" stroke-width="0.35" />
<line x1="61.55" y1="230.6" x2="61.55" y2="231.2" stroke="#4b5f95" stroke-width="0.35" />
<line x1="63.6" y1="230.6" x2="63.6" y2="231.2" stroke="#4b5f95" stroke-width="0.35" />
<line x1="65.65" y1="230.6" x2="65.65" y2="231.2" stroke="#4b5f95" stroke-width="0.35" />
<line x1="67.7" y1="230.6" x2="67.7" y2="231.2" stroke="#4b5f95" stroke-width="0.35" />
<line x1="69.75" y1="230.6" x2="69.75" y2="231.2" stroke="#4b5f95" stroke-width="0.35" />
<line x1="71.8" y1="230.6" x2="71.8" y2="231.2" stroke="#4b5f95" stroke-width="0.35" />
<line x1="73.85" y1="230.6" x2="73.85" y2="231.2" stroke="#4b5f95" stroke-width="0.35" />
<line x1="75.9" y1="230.6" x2="75.9" y2="231.2" stroke="#4b5f95" stroke-width="0.35" />
<line x1="77.95" y1="230.6" x2="77.95" y2="231.2" stroke="#4b5f95" stroke-width="0.35" />
<line x1="80" y1="230.6" x2="80" y2="231.2" stroke="#4b5f95" stroke-width="0.35" />
<line x1="82.05" y1="230.6" x2="82.05" y2="231.2" stroke="#4b5f95" stroke-width="0.35" />
<line x1="84.1" y1="230.6" x2="84.1" y2="231.2" stroke="#4b5f95" stroke-width="0.35" />
<line x1="86.15" y1="230.6" x2="86.15" y2="231.2" stroke="#4b5f95" stroke-width="0.35" />
<line x1="88.2" y1="230.6" x2="88.2" y2="231.2" stroke="#4b5f95" stroke-width="0.35" />
<line x1="90.25" y1="230.6" x2="90.25" y2="231.2" stroke="#4b5f95" stroke-width="0.35" />
<line x1="92.3" y1="230.6" x2="92.3" y2="231.2" stroke="#4b5f95" stroke-width="0.35" />
<g transform="rotate(0 49.1 215.4)">
<ellipse cx="49.1" cy="215.4" rx="5" ry="10.6" fill="url(#gb)"/>
<ellipse cx="49.1" cy="215.4" rx="4.1" ry="8.69" fill="none" stroke="#4d72b5" stroke-opacity="0.5" stroke-width="0.4"/>
<ellipse cx="49.1" cy="215.4" rx="3.1" ry="6.57" fill="none" stroke="#4d72b5" stroke-opacity="0.5" stroke-width="0.4"/>
<ellipse cx="49.1" cy="215.4" rx="2.1" ry="4.45" fill="none" stroke="#4d72b5" stroke-opacity="0.5" stroke-width="0.4"/>
</g>
<g transform="rotate(35 48.3 202.4)">
<ellipse cx="48.3" cy="202.4" rx="3.3" ry="5.6" fill="url(#gb)"/>
<ellipse cx="48.3" cy="202.4" rx="2.71" ry="4.59" fill="none" stroke="#4d72b5" stroke-opacity="0.5" stroke-width="0.4"/>
<ellipse cx="48.3" cy="202.4" rx="2.05" ry="3.47" fill="none" stroke="#4d72b5" stroke-opacity="0.5" stroke-width="0.4"/>
<ellipse cx="48.3" cy="202.4" rx="1.39" ry="2.35" fill="none" stroke="#4d72b5" stroke-opacity="0.5" stroke-width="0.4"/>
</g>
<g transform="rotate(40 56.3 197.3)">
<ellipse cx="56.3" cy="197.3" rx="3.2" ry="7.8" fill="url(#gbl)"/>
<ellipse cx="56.3" cy="197.3" rx="2.62" ry="6.4" fill="none" stroke="#7f9bcf" stroke-opacity="0.3" stroke-width="0.4"/>
<ellipse cx="56.3" cy="197.3" rx="1.98" ry="4.84" fill="none" stroke="#7f9bcf" stroke-opacity="0.3" stroke-width="0.4"/>
<ellipse cx="56.3" cy="197.3" rx="1.34" ry="3.28" fill="none" stroke="#7f9bcf" stroke-opacity="0.3" stroke-width="0.4"/>
</g>
<rect x="72.8" y="203.4" width="27.6" height="27.8" fill="#ffffff" fill-opacity="0.88" stroke="#dde2ec" stroke-width="0.5"/>
<path d="M77.55 230.4 C79.71 230.4 80.48 222.4 81.4 222.4 C82.32 222.4 83.09 230.4 85.25 230.4 Z" fill="#7290c6" stroke="#4f6fae" stroke-width="0.35"/>
<path d="M91.6 230.4 C92.55 230.4 92.89 205.9 93.3 205.9 C93.71 205.9 94.05 230.4 95 230.4 Z" fill="#7290c6" stroke="#4f6fae" stroke-width="0.35"/>
<line x1="73.3" y1="230.4" x2="99.9" y2="230.4" stroke="#4f6fae" stroke-width="0.4" />
<line x1="89" y1="222.8" x2="97.6" y2="222.8" stroke="#8fa5d2" stroke-width="0.5" stroke-dasharray="0.6,0.4"/>
<polygon points="42.4,194.4 50,189.8 53.3,206.4 42,206.6" fill="none" stroke="#65759b" stroke-width="0.5" stroke-linejoin="round" />
<polygon points="50,189.8 55,182.6 75.4,181.4 72.2,204.9 53.7,206.2" fill="none" stroke="#65759b" stroke-width="0.5" stroke-linejoin="round" />
<polygon points="41.4,207.6 56.7,207.6 56.7,229.3 41.4,229.3" fill="none" stroke="#65759b" stroke-width="0.5" stroke-linejoin="round" />
<text x="45" y="182.6" font-size="2.9" fill="#7f8fb8" text-anchor="middle">Transition</text>
<text x="45" y="186.2" font-size="2.9" fill="#7f8fb8" text-anchor="middle">24.0</text>
<text x="79.7" y="194" font-size="2.9" fill="#7f8fb8" text-anchor="middle">Eblasts</text>
<text x="79.7" y="197.6" font-size="2.9" fill="#7f8fb8" text-anchor="middle">25.4</text>
<text x="66.7" y="216" font-size="2.9" fill="#7f8fb8" text-anchor="middle">cRBC</text>
<text x="66.7" y="219.6" font-size="2.9" fill="#7f8fb8" text-anchor="middle">32.2</text>
<text x="84.8" y="212.3" font-size="2.9" fill="#7f8fb8" text-anchor="middle">Ter119+</text>
<text x="84.8" y="215.9" font-size="2.9" fill="#7f8fb8" text-anchor="middle">86.9</text>
<rect x="117.8" y="170.3" width="58.5" height="60.2" fill="none" stroke="#b4bfdb" stroke-width="0.6"/>
<text x="114.5" y="176" font-size="4.7" fill="#7f8fb8" text-anchor="end">10<tspan font-size="2.8" dy="-1.6">4</tspan></text>
<line x1="116.8" y1="173.5" x2="117.8" y2="173.5" stroke="#4b5f95" stroke-width="0.7" />
<text x="114.5" y="185.9" font-size="4.7" fill="#7f8fb8" text-anchor="end">10<tspan font-size="2.8" dy="-1.6">3</tspan></text>
<line x1="116.8" y1="183.4" x2="117.8" y2="183.4" stroke="#4b5f95" stroke-width="0.7" />
<text x="114.5" y="195.7" font-size="4.7" fill="#7f8fb8" text-anchor="end">10<tspan font-size="2.8" dy="-1.6">2</tspan></text>
<line x1="116.8" y1="193.2" x2="117.8" y2="193.2" stroke="#4b5f95" stroke-width="0.7" />
<text x="114.5" y="206" font-size="4.7" fill="#7f8fb8" text-anchor="end">10<tspan font-size="2.8" dy="-1.6">1</tspan></text>
<line x1="116.8" y1="203.5" x2="117.8" y2="203.5" stroke="#4b5f95" stroke-width="0.7" />
<text x="113.6" y="218.9" font-size="4.7" fill="#7f8fb8" text-anchor="end">0</text>
<line x1="117.2" y1="178.3" x2="117.8" y2="178.3" stroke="#4b5f95" stroke-width="0.4" />
<line x1="117.2" y1="180.8" x2="117.8" y2="180.8" stroke="#4b5f95" stroke-width="0.4" />
<line x1="117.2" y1="188.3" x2="117.8" y2="188.3" stroke="#4b5f95" stroke-width="0.4" />
<line x1="117.2" y1="190.8" x2="117.8" y2="190.8" stroke="#4b5f95" stroke-width="0.4" />
<line x1="117.2" y1="198.3" x2="117.8" y2="198.3" stroke="#4b5f95" stroke-width="0.4" />
<line x1="117.2" y1="200.8" x2="117.8" y2="200.8" stroke="#4b5f95" stroke-width="0.4" />
<line x1="117.2" y1="208.3" x2="117.8" y2="208.3" stroke="#4b5f95" stroke-width="0.4" />
<line x1="117.2" y1="210.8" x2="117.8" y2="210.8" stroke="#4b5f95" stroke-width="0.4" />
<line x1="117.2" y1="213.8" x2="117.2" y2="221.8" stroke="#4b5f95" stroke-width="0.9" />
<text x="124.2" y="238.9" font-size="4.3" fill="#7383ae" text-anchor="middle">0</text>
<text x="136.2" y="238.4" font-size="4.3" fill="#7383ae" text-anchor="end" transform="rotate(-45 136.2 238.4)">50K</text>
<text x="146.6" y="238.4" font-size="4.3" fill="#7383ae" text-anchor="end" transform="rotate(-45 146.6 238.4)">100K</text>
<text x="156.6" y="238.4" font-size="4.3" fill="#7383ae" text-anchor="end" transform="rotate(-45 156.6 238.4)">150K</text>
<text x="166.9" y="238.4" font-size="4.3" fill="#7383ae" text-anchor="end" transform="rotate(-45 166.9 238.4)">200K</text>
<text x="177.4" y="238.4" font-size="4.3" fill="#7383ae" text-anchor="end" transform="rotate(-45 177.4 238.4)">250K</text>
<line x1="123.35" y1="230.5" x2="123.35" y2="231.1" stroke="#4b5f95" stroke-width="0.35" />
<line x1="125.4" y1="230.5" x2="125.4" y2="231.1" stroke="#4b5f95" stroke-width="0.35" />
<line x1="127.45" y1="230.5" x2="127.45" y2="231.1" stroke="#4b5f95" stroke-width="0.35" />
<line x1="129.5" y1="230.5" x2="129.5" y2="231.1" stroke="#4b5f95" stroke-width="0.35" />
<line x1="131.55" y1="230.5" x2="131.55" y2="231.1" stroke="#4b5f95" stroke-width="0.35" />
<line x1="133.6" y1="230.5" x2="133.6" y2="231.1" stroke="#4b5f95" stroke-width="0.35" />
<line x1="135.65" y1="230.5" x2="135.65" y2="231.1" stroke="#4b5f95" stroke-width="0.35" />
<line x1="137.7" y1="230.5" x2="137.7" y2="231.1" stroke="#4b5f95" stroke-width="0.35" />
<line x1="139.75" y1="230.5" x2="139.75" y2="231.1" stroke="#4b5f95" stroke-width="0.35" />
<line x1="141.8" y1="230.5" x2="141.8" y2="231.1" stroke="#4b5f95" stroke-width="0.35" />
<line x1="143.85" y1="230.5" x2="143.85" y2="231.1" stroke="#4b5f95" stroke-width="0.35" />
<line x1="145.9" y1="230.5" x2="145.9" y2="231.1" stroke="#4b5f95" stroke-width="0.35" />
<line x1="147.95" y1="230.5" x2="147.95" y2="231.1" stroke="#4b5f95" stroke-width="0.35" />
<line x1="150" y1="230.5" x2="150" y2="231.1" stroke="#4b5f95" stroke-width="0.35" />
<line x1="152.05" y1="230.5" x2="152.05" y2="231.1" stroke="#4b5f95" stroke-width="0.35" />
<line x1="154.1" y1="230.5" x2="154.1" y2="231.1" stroke="#4b5f95" stroke-width="0.35" />
<line x1="156.15" y1="230.5" x2="156.15" y2="231.1" stroke="#4b5f95" stroke-width="0.35" />
<line x1="158.2" y1="230.5" x2="158.2" y2="231.1" stroke="#4b5f95" stroke-width="0.35" />
<line x1="160.25" y1="230.5" x2="160.25" y2="231.1" stroke="#4b5f95" stroke-width="0.35" />
<line x1="162.3" y1="230.5" x2="162.3" y2="231.1" stroke="#4b5f95" stroke-width="0.35" />
<line x1="164.35" y1="230.5" x2="164.35" y2="231.1" stroke="#4b5f95" stroke-width="0.35" />
<line x1="166.4" y1="230.5" x2="166.4" y2="231.1" stroke="#4b5f95" stroke-width="0.35" />
<line x1="168.45" y1="230.5" x2="168.45" y2="231.1" stroke="#4b5f95" stroke-width="0.35" />
<line x1="170.5" y1="230.5" x2="170.5" y2="231.1" stroke="#4b5f95" stroke-width="0.35" />
<line x1="172.55" y1="230.5" x2="172.55" y2="231.1" stroke="#4b5f95" stroke-width="0.35" />
<line x1="174.6" y1="230.5" x2="174.6" y2="231.1" stroke="#4b5f95" stroke-width="0.35" />
<g transform="rotate(0 130.8 217.6)">
<ellipse cx="130.8" cy="217.6" rx="6.6" ry="12" fill="url(#gb)"/>
<ellipse cx="130.8" cy="217.6" rx="5.41" ry="9.84" fill="none" stroke="#4d72b5" stroke-opacity="0.5" stroke-width="0.4"/>
<ellipse cx="130.8" cy="217.6" rx="4.09" ry="7.44" fill="none" stroke="#4d72b5" stroke-opacity="0.5" stroke-width="0.4"/>
<ellipse cx="130.8" cy="217.6" rx="2.77" ry="5.04" fill="none" stroke="#4d72b5" stroke-opacity="0.5" stroke-width="0.4"/>
</g>
<g transform="rotate(40 129.8 202.8)">
<ellipse cx="129.8" cy="202.8" rx="2.4" ry="4.6" fill="url(#gbl)"/>
<ellipse cx="129.8" cy="202.8" rx="1.97" ry="3.77" fill="none" stroke="#7f9bcf" stroke-opacity="0.3" stroke-width="0.4"/>
<ellipse cx="129.8" cy="202.8" rx="1.49" ry="2.85" fill="none" stroke="#7f9bcf" stroke-opacity="0.3" stroke-width="0.4"/>
<ellipse cx="129.8" cy="202.8" rx="1.01" ry="1.93" fill="none" stroke="#7f9bcf" stroke-opacity="0.3" stroke-width="0.4"/>
</g>
<g transform="rotate(45 138.5 200)">
<ellipse cx="138.5" cy="200" rx="2.8" ry="6" fill="url(#gbl)"/>
<ellipse cx="138.5" cy="200" rx="2.3" ry="4.92" fill="none" stroke="#7f9bcf" stroke-opacity="0.3" stroke-width="0.4"/>
<ellipse cx="138.5" cy="200" rx="1.74" ry="3.72" fill="none" stroke="#7f9bcf" stroke-opacity="0.3" stroke-width="0.4"/>
<ellipse cx="138.5" cy="200" rx="1.18" ry="2.52" fill="none" stroke="#7f9bcf" stroke-opacity="0.3" stroke-width="0.4"/>
</g>
<rect x="155.4" y="203.4" width="26.8" height="27.3" fill="#ffffff" fill-opacity="0.88" stroke="#dde2ec" stroke-width="0.5"/>
<path d="M160.7 229.9 C162.66 229.9 163.36 227.3 164.2 227.3 C165.04 227.3 165.74 229.9 167.7 229.9 Z" fill="#7290c6" stroke="#4f6fae" stroke-width="0.35"/>
<path d="M173.7 229.9 C174.54 229.9 174.84 205.9 175.2 205.9 C175.56 205.9 175.86 229.9 176.7 229.9 Z" fill="#7290c6" stroke="#4f6fae" stroke-width="0.35"/>
<line x1="155.9" y1="229.9" x2="181.7" y2="229.9" stroke="#4f6fae" stroke-width="0.4" />
<line x1="170.9" y1="222.8" x2="179.5" y2="222.8" stroke="#8fa5d2" stroke-width="0.5" stroke-dasharray="0.6,0.4"/>
<polygon points="123.7,194.9 132.1,189.7 135,206.7 123.7,207" fill="none" stroke="#65759b" stroke-width="0.5" stroke-linejoin="round" />
<polygon points="132.1,189.7 136.6,182.4 156,181.6 153.5,204.6 135,206.7" fill="none" stroke="#65759b" stroke-width="0.5" stroke-linejoin="round" />
<polygon points="123.5,207.5 138.2,207.5 138.2,229.3 123.5,229.3" fill="none" stroke="#65759b" stroke-width="0.5" stroke-linejoin="round" />
<text x="126.4" y="182.4" font-size="2.9" fill="#7f8fb8" text-anchor="middle">Transition</text>
<text x="126.4" y="186" font-size="2.9" fill="#7f8fb8" text-anchor="middle">11.9</text>
<text x="163.1" y="193.4" font-size="2.9" fill="#7f8fb8" text-anchor="middle">Eblasts</text>
<text x="163.1" y="197" font-size="2.9" fill="#7f8fb8" text-anchor="middle">8.07</text>
<text x="146.7" y="216.4" font-size="2.9" fill="#7f8fb8" text-anchor="middle">cRBC</text>
<text x="146.7" y="220" font-size="2.9" fill="#7f8fb8" text-anchor="middle">79.6</text>
<text x="164.4" y="212.6" font-size="2.9" fill="#7f8fb8" text-anchor="middle">Ter119+</text>
<text x="164.4" y="216.2" font-size="2.9" fill="#7f8fb8" text-anchor="middle">68.9</text>
<rect x="199.9" y="170.6" width="59.4" height="60" fill="none" stroke="#b4bfdb" stroke-width="0.6"/>
<text x="196.6" y="176.3" font-size="4.7" fill="#7f8fb8" text-anchor="end">10<tspan font-size="2.8" dy="-1.6">4</tspan></text>
<line x1="198.9" y1="173.8" x2="199.9" y2="173.8" stroke="#4b5f95" stroke-width="0.7" />
<text x="196.6" y="186.2" font-size="4.7" fill="#7f8fb8" text-anchor="end">10<tspan font-size="2.8" dy="-1.6">3</tspan></text>
<line x1="198.9" y1="183.7" x2="199.9" y2="183.7" stroke="#4b5f95" stroke-width="0.7" />
<text x="196.6" y="196" font-size="4.7" fill="#7f8fb8" text-anchor="end">10<tspan font-size="2.8" dy="-1.6">2</tspan></text>
<line x1="198.9" y1="193.5" x2="199.9" y2="193.5" stroke="#4b5f95" stroke-width="0.7" />
<text x="196.6" y="206.3" font-size="4.7" fill="#7f8fb8" text-anchor="end">10<tspan font-size="2.8" dy="-1.6">1</tspan></text>
<line x1="198.9" y1="203.8" x2="199.9" y2="203.8" stroke="#4b5f95" stroke-width="0.7" />
<text x="195.7" y="219.2" font-size="4.7" fill="#7f8fb8" text-anchor="end">0</text>
<line x1="199.3" y1="178.6" x2="199.9" y2="178.6" stroke="#4b5f95" stroke-width="0.4" />
<line x1="199.3" y1="181.1" x2="199.9" y2="181.1" stroke="#4b5f95" stroke-width="0.4" />
<line x1="199.3" y1="188.6" x2="199.9" y2="188.6" stroke="#4b5f95" stroke-width="0.4" />
<line x1="199.3" y1="191.1" x2="199.9" y2="191.1" stroke="#4b5f95" stroke-width="0.4" />
<line x1="199.3" y1="198.6" x2="199.9" y2="198.6" stroke="#4b5f95" stroke-width="0.4" />
<line x1="199.3" y1="201.1" x2="199.9" y2="201.1" stroke="#4b5f95" stroke-width="0.4" />
<line x1="199.3" y1="208.6" x2="199.9" y2="208.6" stroke="#4b5f95" stroke-width="0.4" />
<line x1="199.3" y1="211.1" x2="199.9" y2="211.1" stroke="#4b5f95" stroke-width="0.4" />
<line x1="199.3" y1="214.1" x2="199.3" y2="222.1" stroke="#4b5f95" stroke-width="0.9" />
<text x="206.3" y="239" font-size="4.3" fill="#7383ae" text-anchor="middle">0</text>
<text x="218.3" y="238.5" font-size="4.3" fill="#7383ae" text-anchor="end" transform="rotate(-45 218.3 238.5)">50K</text>
<text x="228.7" y="238.5" font-size="4.3" fill="#7383ae" text-anchor="end" transform="rotate(-45 228.7 238.5)">100K</text>
<text x="238.7" y="238.5" font-size="4.3" fill="#7383ae" text-anchor="end" transform="rotate(-45 238.7 238.5)">150K</text>
<text x="249" y="238.5" font-size="4.3" fill="#7383ae" text-anchor="end" transform="rotate(-45 249 238.5)">200K</text>
<text x="259.5" y="238.5" font-size="4.3" fill="#7383ae" text-anchor="end" transform="rotate(-45 259.5 238.5)">250K</text>
<line x1="205.45" y1="230.6" x2="205.45" y2="231.2" stroke="#4b5f95" stroke-width="0.35" />
<line x1="207.5" y1="230.6" x2="207.5" y2="231.2" stroke="#4b5f95" stroke-width="0.35" />
<line x1="209.55" y1="230.6" x2="209.55" y2="231.2" stroke="#4b5f95" stroke-width="0.35" />
<line x1="211.6" y1="230.6" x2="211.6" y2="231.2" stroke="#4b5f95" stroke-width="0.35" />
<line x1="213.65" y1="230.6" x2="213.65" y2="231.2" stroke="#4b5f95" stroke-width="0.35" />
<line x1="215.7" y1="230.6" x2="215.7" y2="231.2" stroke="#4b5f95" stroke-width="0.35" />
<line x1="217.75" y1="230.6" x2="217.75" y2="231.2" stroke="#4b5f95" stroke-width="0.35" />
<line x1="219.8" y1="230.6" x2="219.8" y2="231.2" stroke="#4b5f95" stroke-width="0.35" />
<line x1="221.85" y1="230.6" x2="221.85" y2="231.2" stroke="#4b5f95" stroke-width="0.35" />
<line x1="223.9" y1="230.6" x2="223.9" y2="231.2" stroke="#4b5f95" stroke-width="0.35" />
<line x1="225.95" y1="230.6" x2="225.95" y2="231.2" stroke="#4b5f95" stroke-width="0.35" />
<line x1="228" y1="230.6" x2="228" y2="231.2" stroke="#4b5f95" stroke-width="0.35" />
<line x1="230.05" y1="230.6" x2="230.05" y2="231.2" stroke="#4b5f95" stroke-width="0.35" />
<line x1="232.1" y1="230.6" x2="232.1" y2="231.2" stroke="#4b5f95" stroke-width="0.35" />
<line x1="234.15" y1="230.6" x2="234.15" y2="231.2" stroke="#4b5f95" stroke-width="0.35" />
<line x1="236.2" y1="230.6" x2="236.2" y2="231.2" stroke="#4b5f95" stroke-width="0.35" />
<line x1="238.25" y1="230.6" x2="238.25" y2="231.2" stroke="#4b5f95" stroke-width="0.35" />
<line x1="240.3" y1="230.6" x2="240.3" y2="231.2" stroke="#4b5f95" stroke-width="0.35" />
<line x1="242.35" y1="230.6" x2="242.35" y2="231.2" stroke="#4b5f95" stroke-width="0.35" />
<line x1="244.4" y1="230.6" x2="244.4" y2="231.2" stroke="#4b5f95" stroke-width="0.35" />
<line x1="246.45" y1="230.6" x2="246.45" y2="231.2" stroke="#4b5f95" stroke-width="0.35" />
<line x1="248.5" y1="230.6" x2="248.5" y2="231.2" stroke="#4b5f95" stroke-width="0.35" />
<line x1="250.55" y1="230.6" x2="250.55" y2="231.2" stroke="#4b5f95" stroke-width="0.35" />
<line x1="252.6" y1="230.6" x2="252.6" y2="231.2" stroke="#4b5f95" stroke-width="0.35" />
<line x1="254.65" y1="230.6" x2="254.65" y2="231.2" stroke="#4b5f95" stroke-width="0.35" />
<line x1="256.7" y1="230.6" x2="256.7" y2="231.2" stroke="#4b5f95" stroke-width="0.35" />
<g transform="rotate(0 212.6 215.6)">
<ellipse cx="212.6" cy="215.6" rx="4.8" ry="7.8" fill="url(#gb)"/>
<ellipse cx="212.6" cy="215.6" rx="3.94" ry="6.4" fill="none" stroke="#4d72b5" stroke-opacity="0.5" stroke-width="0.4"/>
<ellipse cx="212.6" cy="215.6" rx="2.98" ry="4.84" fill="none" stroke="#4d72b5" stroke-opacity="0.5" stroke-width="0.4"/>
<ellipse cx="212.6" cy="215.6" rx="2.02" ry="3.28" fill="none" stroke="#4d72b5" stroke-opacity="0.5" stroke-width="0.4"/>
</g>
<polygon points="206,194.8 214.3,189.2 217.2,206.5 206,206.9" fill="none" stroke="#65759b" stroke-width="0.5" stroke-linejoin="round" />
<polygon points="214.3,189.2 218.1,182.3 239.7,180.9 235.4,205.1 219.8,206.5" fill="none" stroke="#65759b" stroke-width="0.5" stroke-linejoin="round" />
<polygon points="205.6,207 220.7,207 220.7,230.3 205.6,230.3" fill="none" stroke="#65759b" stroke-width="0.5" stroke-linejoin="round" />
<text x="211" y="175.8" font-size="2.9" fill="#7f8fb8" text-anchor="middle">Transition</text>
<text x="211" y="179.4" font-size="2.9" fill="#7f8fb8" text-anchor="middle">0.01</text>
<text x="247.8" y="186.2" font-size="2.9" fill="#7f8fb8" text-anchor="middle">Eblasts</text>
<text x="247.8" y="189.8" font-size="2.9" fill="#7f8fb8" text-anchor="middle">0</text>
<text x="231" y="208.4" font-size="2.9" fill="#7f8fb8" text-anchor="middle">cRBC</text>
<text x="231" y="212" font-size="2.9" fill="#7f8fb8" text-anchor="middle">99.1</text>
<rect x="35.5" y="252.5" width="60.6" height="60.1" fill="none" stroke="#b4bfdb" stroke-width="0.6"/>
<text x="32.2" y="258.2" font-size="4.7" fill="#7f8fb8" text-anchor="end">10<tspan font-size="2.8" dy="-1.6">4</tspan></text>
<line x1="34.5" y1="255.7" x2="35.5" y2="255.7" stroke="#4b5f95" stroke-width="0.7" />
<text x="32.2" y="268.1" font-size="4.7" fill="#7f8fb8" text-anchor="end">10<tspan font-size="2.8" dy="-1.6">3</tspan></text>
<line x1="34.5" y1="265.6" x2="35.5" y2="265.6" stroke="#4b5f95" stroke-width="0.7" />
<text x="32.2" y="277.9" font-size="4.7" fill="#7f8fb8" text-anchor="end">10<tspan font-size="2.8" dy="-1.6">2</tspan></text>
<line x1="34.5" y1="275.4" x2="35.5" y2="275.4" stroke="#4b5f95" stroke-width="0.7" />
<text x="32.2" y="288.2" font-size="4.7" fill="#7f8fb8" text-anchor="end">10<tspan font-size="2.8" dy="-1.6">1</tspan></text>
<line x1="34.5" y1="285.7" x2="35.5" y2="285.7" stroke="#4b5f95" stroke-width="0.7" />
<text x="31.3" y="301.1" font-size="4.7" fill="#7f8fb8" text-anchor="end">0</text>
<line x1="34.9" y1="260.5" x2="35.5" y2="260.5" stroke="#4b5f95" stroke-width="0.4" />
<line x1="34.9" y1="263" x2="35.5" y2="263" stroke="#4b5f95" stroke-width="0.4" />
<line x1="34.9" y1="270.5" x2="35.5" y2="270.5" stroke="#4b5f95" stroke-width="0.4" />
<line x1="34.9" y1="273" x2="35.5" y2="273" stroke="#4b5f95" stroke-width="0.4" />
<line x1="34.9" y1="280.5" x2="35.5" y2="280.5" stroke="#4b5f95" stroke-width="0.4" />
<line x1="34.9" y1="283" x2="35.5" y2="283" stroke="#4b5f95" stroke-width="0.4" />
<line x1="34.9" y1="290.5" x2="35.5" y2="290.5" stroke="#4b5f95" stroke-width="0.4" />
<line x1="34.9" y1="293" x2="35.5" y2="293" stroke="#4b5f95" stroke-width="0.4" />
<line x1="34.9" y1="296" x2="34.9" y2="304" stroke="#4b5f95" stroke-width="0.9" />
<text x="41.9" y="321" font-size="4.3" fill="#7383ae" text-anchor="middle">0</text>
<text x="53.9" y="320.5" font-size="4.3" fill="#7383ae" text-anchor="end" transform="rotate(-45 53.9 320.5)">50K</text>
<text x="64.3" y="320.5" font-size="4.3" fill="#7383ae" text-anchor="end" transform="rotate(-45 64.3 320.5)">100K</text>
<text x="74.3" y="320.5" font-size="4.3" fill="#7383ae" text-anchor="end" transform="rotate(-45 74.3 320.5)">150K</text>
<text x="84.6" y="320.5" font-size="4.3" fill="#7383ae" text-anchor="end" transform="rotate(-45 84.6 320.5)">200K</text>
<text x="95.1" y="320.5" font-size="4.3" fill="#7383ae" text-anchor="end" transform="rotate(-45 95.1 320.5)">250K</text>
<line x1="41.05" y1="312.6" x2="41.05" y2="313.2" stroke="#4b5f95" stroke-width="0.35" />
<line x1="43.1" y1="312.6" x2="43.1" y2="313.2" stroke="#4b5f95" stroke-width="0.35" />
<line x1="45.15" y1="312.6" x2="45.15" y2="313.2" stroke="#4b5f95" stroke-width="0.35" />
<line x1="47.2" y1="312.6" x2="47.2" y2="313.2" stroke="#4b5f95" stroke-width="0.35" />
<line x1="49.25" y1="312.6" x2="49.25" y2="313.2" stroke="#4b5f95" stroke-width="0.35" />
<line x1="51.3" y1="312.6" x2="51.3" y2="313.2" stroke="#4b5f95" stroke-width="0.35" />
<line x1="53.35" y1="312.6" x2="53.35" y2="313.2" stroke="#4b5f95" stroke-width="0.35" />
<line x1="55.4" y1="312.6" x2="55.4" y2="313.2" stroke="#4b5f95" stroke-width="0.35" />
<line x1="57.45" y1="312.6" x2="57.45" y2="313.2" stroke="#4b5f95" stroke-width="0.35" />
<line x1="59.5" y1="312.6" x2="59.5" y2="313.2" stroke="#4b5f95" stroke-width="0.35" />
<line x1="61.55" y1="312.6" x2="61.55" y2="313.2" stroke="#4b5f95" stroke-width="0.35" />
<line x1="63.6" y1="312.6" x2="63.6" y2="313.2" stroke="#4b5f95" stroke-width="0.35" />
<line x1="65.65" y1="312.6" x2="65.65" y2="313.2" stroke="#4b5f95" stroke-width="0.35" />
<line x1="67.7" y1="312.6" x2="67.7" y2="313.2" stroke="#4b5f95" stroke-width="0.35" />
<line x1="69.75" y1="312.6" x2="69.75" y2="313.2" stroke="#4b5f95" stroke-width="0.35" />
<line x1="71.8" y1="312.6" x2="71.8" y2="313.2" stroke="#4b5f95" stroke-width="0.35" />
<line x1="73.85" y1="312.6" x2="73.85" y2="313.2" stroke="#4b5f95" stroke-width="0.35" />
<line x1="75.9" y1="312.6" x2="75.9" y2="313.2" stroke="#4b5f95" stroke-width="0.35" />
<line x1="77.95" y1="312.6" x2="77.95" y2="313.2" stroke="#4b5f95" stroke-width="0.35" />
<line x1="80" y1="312.6" x2="80" y2="313.2" stroke="#4b5f95" stroke-width="0.35" />
<line x1="82.05" y1="312.6" x2="82.05" y2="313.2" stroke="#4b5f95" stroke-width="0.35" />
<line x1="84.1" y1="312.6" x2="84.1" y2="313.2" stroke="#4b5f95" stroke-width="0.35" />
<line x1="86.15" y1="312.6" x2="86.15" y2="313.2" stroke="#4b5f95" stroke-width="0.35" />
<line x1="88.2" y1="312.6" x2="88.2" y2="313.2" stroke="#4b5f95" stroke-width="0.35" />
<line x1="90.25" y1="312.6" x2="90.25" y2="313.2" stroke="#4b5f95" stroke-width="0.35" />
<line x1="92.3" y1="312.6" x2="92.3" y2="313.2" stroke="#4b5f95" stroke-width="0.35" />
<g transform="rotate(28 44.8 288)">
<ellipse cx="44.8" cy="288" rx="3" ry="9" fill="url(#gb)"/>
<ellipse cx="44.8" cy="288" rx="2.46" ry="7.38" fill="none" stroke="#4d72b5" stroke-opacity="0.5" stroke-width="0.4"/>
<ellipse cx="44.8" cy="288" rx="1.86" ry="5.58" fill="none" stroke="#4d72b5" stroke-opacity="0.5" stroke-width="0.4"/>
<ellipse cx="44.8" cy="288" rx="1.26" ry="3.78" fill="none" stroke="#4d72b5" stroke-opacity="0.5" stroke-width="0.4"/>
</g>
<g transform="rotate(45 56.5 283.5)">
<ellipse cx="56.5" cy="283.5" rx="5" ry="10.5" fill="url(#gbl)"/>
<ellipse cx="56.5" cy="283.5" rx="4.1" ry="8.61" fill="none" stroke="#7f9bcf" stroke-opacity="0.3" stroke-width="0.4"/>
<ellipse cx="56.5" cy="283.5" rx="3.1" ry="6.51" fill="none" stroke="#7f9bcf" stroke-opacity="0.3" stroke-width="0.4"/>
<ellipse cx="56.5" cy="283.5" rx="2.1" ry="4.41" fill="none" stroke="#7f9bcf" stroke-opacity="0.3" stroke-width="0.4"/>
</g>
<g transform="rotate(45 58.5 282)">
<ellipse cx="58.5" cy="282" rx="3.2" ry="9" fill="url(#gb)"/>
<ellipse cx="58.5" cy="282" rx="2.62" ry="7.38" fill="none" stroke="#4d72b5" stroke-opacity="0.5" stroke-width="0.4"/>
<ellipse cx="58.5" cy="282" rx="1.98" ry="5.58" fill="none" stroke="#4d72b5" stroke-opacity="0.5" stroke-width="0.4"/>
<ellipse cx="58.5" cy="282" rx="1.34" ry="3.78" fill="none" stroke="#4d72b5" stroke-opacity="0.5" stroke-width="0.4"/>
</g>
<rect x="72.8" y="285.6" width="27.1" height="27.5" fill="#ffffff" fill-opacity="0.88" stroke="#dde2ec" stroke-width="0.5"/>
<path d="M77.5 312.3 C79.46 312.3 80.16 310.5 81 310.5 C81.84 310.5 82.54 312.3 84.5 312.3 Z" fill="#7290c6" stroke="#4f6fae" stroke-width="0.35"/>
<path d="M91.2 312.3 C92.04 312.3 92.34 287.3 92.7 287.3 C93.06 287.3 93.36 312.3 94.2 312.3 Z" fill="#7290c6" stroke="#4f6fae" stroke-width="0.35"/>
<line x1="73.3" y1="312.3" x2="99.4" y2="312.3" stroke="#4f6fae" stroke-width="0.4" />
<line x1="88.4" y1="305" x2="97" y2="305" stroke="#8fa5d2" stroke-width="0.5" stroke-dasharray="0.6,0.4"/>
<polygon points="40.4,278.2 48.5,272.1 51,285.5 44.1,311.3 40.4,310.5" fill="none" stroke="#65759b" stroke-width="0.5" stroke-linejoin="round" />
<polygon points="48.5,272.1 53,264.4 74,263.6 69.9,287 54.2,292.3 51,285.5" fill="none" stroke="#65759b" stroke-width="0.5" stroke-linejoin="round" />
<polygon points="44.1,311.3 48.9,286.2 51.8,286.2 55.8,311.3" fill="none" stroke="#d8383a" stroke-width="0.9" stroke-linejoin="round" />
<text x="43.8" y="257.3" font-size="2.9" fill="#7f8fb8" text-anchor="middle">Transition</text>
<text x="43.8" y="260.9" font-size="2.9" fill="#7f8fb8" text-anchor="middle">39.5</text>
<text x="79.7" y="277.6" font-size="2.9" fill="#7f8fb8" text-anchor="middle">Eblasts</text>
<text x="79.7" y="281.2" font-size="2.9" fill="#7f8fb8" text-anchor="middle">35.7</text>
<text x="65.6" y="297.1" font-size="2.9" fill="#7f8fb8" text-anchor="middle">cRBC</text>
<text x="65.6" y="300.7" font-size="2.9" fill="#7f8fb8" text-anchor="middle">6.04</text>
<text x="84.4" y="294.6" font-size="2.9" fill="#7f8fb8" text-anchor="middle">Ter119+</text>
<text x="84.4" y="298.2" font-size="2.9" fill="#7f8fb8" text-anchor="middle">70.1</text>
<rect x="117.8" y="252.3" width="59.2" height="59.5" fill="none" stroke="#b4bfdb" stroke-width="0.6"/>
<text x="114.5" y="258" font-size="4.7" fill="#7f8fb8" text-anchor="end">10<tspan font-size="2.8" dy="-1.6">4</tspan></text>
<line x1="116.8" y1="255.5" x2="117.8" y2="255.5" stroke="#4b5f95" stroke-width="0.7" />
<text x="114.5" y="267.9" font-size="4.7" fill="#7f8fb8" text-anchor="end">10<tspan font-size="2.8" dy="-1.6">3</tspan></text>
<line x1="116.8" y1="265.4" x2="117.8" y2="265.4" stroke="#4b5f95" stroke-width="0.7" />
<text x="114.5" y="277.7" font-size="4.7" fill="#7f8fb8" text-anchor="end">10<tspan font-size="2.8" dy="-1.6">2</tspan></text>
<line x1="116.8" y1="275.2" x2="117.8" y2="275.2" stroke="#4b5f95" stroke-width="0.7" />
<text x="114.5" y="288" font-size="4.7" fill="#7f8fb8" text-anchor="end">10<tspan font-size="2.8" dy="-1.6">1</tspan></text>
<line x1="116.8" y1="285.5" x2="117.8" y2="285.5" stroke="#4b5f95" stroke-width="0.7" />
<text x="113.6" y="300.9" font-size="4.7" fill="#7f8fb8" text-anchor="end">0</text>
<line x1="117.2" y1="260.3" x2="117.8" y2="260.3" stroke="#4b5f95" stroke-width="0.4" />
<line x1="117.2" y1="262.8" x2="117.8" y2="262.8" stroke="#4b5f95" stroke-width="0.4" />
<line x1="117.2" y1="270.3" x2="117.8" y2="270.3" stroke="#4b5f95" stroke-width="0.4" />
<line x1="117.2" y1="272.8" x2="117.8" y2="272.8" stroke="#4b5f95" stroke-width="0.4" />
<line x1="117.2" y1="280.3" x2="117.8" y2="280.3" stroke="#4b5f95" stroke-width="0.4" />
<line x1="117.2" y1="282.8" x2="117.8" y2="282.8" stroke="#4b5f95" stroke-width="0.4" />
<line x1="117.2" y1="290.3" x2="117.8" y2="290.3" stroke="#4b5f95" stroke-width="0.4" />
<line x1="117.2" y1="292.8" x2="117.8" y2="292.8" stroke="#4b5f95" stroke-width="0.4" />
<line x1="117.2" y1="295.8" x2="117.2" y2="303.8" stroke="#4b5f95" stroke-width="0.9" />
<text x="124.2" y="320.2" font-size="4.3" fill="#7383ae" text-anchor="middle">0</text>
<text x="136.2" y="319.7" font-size="4.3" fill="#7383ae" text-anchor="end" transform="rotate(-45 136.2 319.7)">50K</text>
<text x="146.6" y="319.7" font-size="4.3" fill="#7383ae" text-anchor="end" transform="rotate(-45 146.6 319.7)">100K</text>
<text x="156.6" y="319.7" font-size="4.3" fill="#7383ae" text-anchor="end" transform="rotate(-45 156.6 319.7)">150K</text>
<text x="166.9" y="319.7" font-size="4.3" fill="#7383ae" text-anchor="end" transform="rotate(-45 166.9 319.7)">200K</text>
<text x="177.4" y="319.7" font-size="4.3" fill="#7383ae" text-anchor="end" transform="rotate(-45 177.4 319.7)">250K</text>
<line x1="123.35" y1="311.8" x2="123.35" y2="312.4" stroke="#4b5f95" stroke-width="0.35" />
<line x1="125.4" y1="311.8" x2="125.4" y2="312.4" stroke="#4b5f95" stroke-width="0.35" />
<line x1="127.45" y1="311.8" x2="127.45" y2="312.4" stroke="#4b5f95" stroke-width="0.35" />
<line x1="129.5" y1="311.8" x2="129.5" y2="312.4" stroke="#4b5f95" stroke-width="0.35" />
<line x1="131.55" y1="311.8" x2="131.55" y2="312.4" stroke="#4b5f95" stroke-width="0.35" />
<line x1="133.6" y1="311.8" x2="133.6" y2="312.4" stroke="#4b5f95" stroke-width="0.35" />
<line x1="135.65" y1="311.8" x2="135.65" y2="312.4" stroke="#4b5f95" stroke-width="0.35" />
<line x1="137.7" y1="311.8" x2="137.7" y2="312.4" stroke="#4b5f95" stroke-width="0.35" />
<line x1="139.75" y1="311.8" x2="139.75" y2="312.4" stroke="#4b5f95" stroke-width="0.35" />
<line x1="141.8" y1="311.8" x2="141.8" y2="312.4" stroke="#4b5f95" stroke-width="0.35" />
<line x1="143.85" y1="311.8" x2="143.85" y2="312.4" stroke="#4b5f95" stroke-width="0.35" />
<line x1="145.9" y1="311.8" x2="145.9" y2="312.4" stroke="#4b5f95" stroke-width="0.35" />
<line x1="147.95" y1="311.8" x2="147.95" y2="312.4" stroke="#4b5f95" stroke-width="0.35" />
<line x1="150" y1="311.8" x2="150" y2="312.4" stroke="#4b5f95" stroke-width="0.35" />
<line x1="152.05" y1="311.8" x2="152.05" y2="312.4" stroke="#4b5f95" stroke-width="0.35" />
<line x1="154.1" y1="311.8" x2="154.1" y2="312.4" stroke="#4b5f95" stroke-width="0.35" />
<line x1="156.15" y1="311.8" x2="156.15" y2="312.4" stroke="#4b5f95" stroke-width="0.35" />
<line x1="158.2" y1="311.8" x2="158.2" y2="312.4" stroke="#4b5f95" stroke-width="0.35" />
<line x1="160.25" y1="311.8" x2="160.25" y2="312.4" stroke="#4b5f95" stroke-width="0.35" />
<line x1="162.3" y1="311.8" x2="162.3" y2="312.4" stroke="#4b5f95" stroke-width="0.35" />
<line x1="164.35" y1="311.8" x2="164.35" y2="312.4" stroke="#4b5f95" stroke-width="0.35" />
<line x1="166.4" y1="311.8" x2="166.4" y2="312.4" stroke="#4b5f95" stroke-width="0.35" />
<line x1="168.45" y1="311.8" x2="168.45" y2="312.4" stroke="#4b5f95" stroke-width="0.35" />
<line x1="170.5" y1="311.8" x2="170.5" y2="312.4" stroke="#4b5f95" stroke-width="0.35" />
<line x1="172.55" y1="311.8" x2="172.55" y2="312.4" stroke="#4b5f95" stroke-width="0.35" />
<line x1="174.6" y1="311.8" x2="174.6" y2="312.4" stroke="#4b5f95" stroke-width="0.35" />
<g transform="rotate(14 126.5 292.7)">
<ellipse cx="126.5" cy="292.7" rx="3" ry="12" fill="url(#gb)"/>
<ellipse cx="126.5" cy="292.7" rx="2.46" ry="9.84" fill="none" stroke="#4d72b5" stroke-opacity="0.5" stroke-width="0.4"/>
<ellipse cx="126.5" cy="292.7" rx="1.86" ry="7.44" fill="none" stroke="#4d72b5" stroke-opacity="0.5" stroke-width="0.4"/>
<ellipse cx="126.5" cy="292.7" rx="1.26" ry="5.04" fill="none" stroke="#4d72b5" stroke-opacity="0.5" stroke-width="0.4"/>
</g>
<g transform="rotate(47 140.6 281)">
<ellipse cx="140.6" cy="281" rx="3.8" ry="8.5" fill="url(#gb)"/>
<ellipse cx="140.6" cy="281" rx="3.12" ry="6.97" fill="none" stroke="#4d72b5" stroke-opacity="0.5" stroke-width="0.4"/>
<ellipse cx="140.6" cy="281" rx="2.36" ry="5.27" fill="none" stroke="#4d72b5" stroke-opacity="0.5" stroke-width="0.4"/>
<ellipse cx="140.6" cy="281" rx="1.6" ry="3.57" fill="none" stroke="#4d72b5" stroke-opacity="0.5" stroke-width="0.4"/>
</g>
<g transform="rotate(47 143.5 279.5)">
<ellipse cx="143.5" cy="279.5" rx="2.8" ry="7" fill="url(#gbl)"/>
<ellipse cx="143.5" cy="279.5" rx="2.3" ry="5.74" fill="none" stroke="#7f9bcf" stroke-opacity="0.3" stroke-width="0.4"/>
<ellipse cx="143.5" cy="279.5" rx="1.74" ry="4.34" fill="none" stroke="#7f9bcf" stroke-opacity="0.3" stroke-width="0.4"/>
<ellipse cx="143.5" cy="279.5" rx="1.18" ry="2.94" fill="none" stroke="#7f9bcf" stroke-opacity="0.3" stroke-width="0.4"/>
</g>
<rect x="155" y="284.8" width="27.2" height="27.7" fill="#ffffff" fill-opacity="0.88" stroke="#dde2ec" stroke-width="0.5"/>
<path d="M159 311.7 C160.96 311.7 161.66 310.1 162.5 310.1 C163.34 310.1 164.04 311.7 166 311.7 Z" fill="#7290c6" stroke="#4f6fae" stroke-width="0.35"/>
<path d="M173.7 311.7 C174.54 311.7 174.84 287.7 175.2 287.7 C175.56 287.7 175.86 311.7 176.7 311.7 Z" fill="#7290c6" stroke="#4f6fae" stroke-width="0.35"/>
<line x1="155.5" y1="311.7" x2="181.7" y2="311.7" stroke="#4f6fae" stroke-width="0.4" />
<line x1="170.9" y1="304.2" x2="179.5" y2="304.2" stroke="#8fa5d2" stroke-width="0.5" stroke-dasharray="0.6,0.4"/>
<polygon points="122.4,277.8 130.5,272.1 132.5,287 126.1,311.3 121.6,308.8" fill="none" stroke="#65759b" stroke-width="0.5" stroke-linejoin="round" />
<polygon points="130.5,272.1 135,264.8 155.6,263.6 153.1,286.2 136.2,292.7 132.5,287" fill="none" stroke="#65759b" stroke-width="0.5" stroke-linejoin="round" />
<polygon points="126.1,311.3 131.3,288.3 135.4,288.3 138.2,311.3" fill="none" stroke="#d8383a" stroke-width="0.9" stroke-linejoin="round" />
<text x="140.7" y="257.6" font-size="2.9" fill="#7f8fb8" text-anchor="middle">Transition</text>
<text x="140.7" y="261.2" font-size="2.9" fill="#7f8fb8" text-anchor="middle">36.6</text>
<text x="164.9" y="272.6" font-size="2.9" fill="#7f8fb8" text-anchor="middle">Eblasts</text>
<text x="164.9" y="276.2" font-size="2.9" fill="#7f8fb8" text-anchor="middle">33.7</text>
<text x="146.7" y="297.8" font-size="2.9" fill="#7f8fb8" text-anchor="middle">cRBC</text>
<text x="146.7" y="301.4" font-size="2.9" fill="#7f8fb8" text-anchor="middle">7.18</text>
<text x="164" y="297.4" font-size="2.9" fill="#7f8fb8" text-anchor="middle">Ter119+</text>
<text x="164" y="301" font-size="2.9" fill="#7f8fb8" text-anchor="middle">59.9</text>
<rect x="199.9" y="252.3" width="59.7" height="59.8" fill="none" stroke="#b4bfdb" stroke-width="0.6"/>
<text x="196.6" y="258" font-size="4.7" fill="#7f8fb8" text-anchor="end">10<tspan font-size="2.8" dy="-1.6">4</tspan></text>
<line x1="198.9" y1="255.5" x2="199.9" y2="255.5" stroke="#4b5f95" stroke-width="0.7" />
<text x="196.6" y="267.9" font-size="4.7" fill="#7f8fb8" text-anchor="end">10<tspan font-size="2.8" dy="-1.6">3</tspan></text>
<line x1="198.9" y1="265.4" x2="199.9" y2="265.4" stroke="#4b5f95" stroke-width="0.7" />
<text x="196.6" y="277.7" font-size="4.7" fill="#7f8fb8" text-anchor="end">10<tspan font-size="2.8" dy="-1.6">2</tspan></text>
<line x1="198.9" y1="275.2" x2="199.9" y2="275.2" stroke="#4b5f95" stroke-width="0.7" />
<text x="196.6" y="288" font-size="4.7" fill="#7f8fb8" text-anchor="end">10<tspan font-size="2.8" dy="-1.6">1</tspan></text>
<line x1="198.9" y1="285.5" x2="199.9" y2="285.5" stroke="#4b5f95" stroke-width="0.7" />
<text x="195.7" y="300.9" font-size="4.7" fill="#7f8fb8" text-anchor="end">0</text>
<line x1="199.3" y1="260.3" x2="199.9" y2="260.3" stroke="#4b5f95" stroke-width="0.4" />
<line x1="199.3" y1="262.8" x2="199.9" y2="262.8" stroke="#4b5f95" stroke-width="0.4" />
<line x1="199.3" y1="270.3" x2="199.9" y2="270.3" stroke="#4b5f95" stroke-width="0.4" />
<line x1="199.3" y1="272.8" x2="199.9" y2="272.8" stroke="#4b5f95" stroke-width="0.4" />
<line x1="199.3" y1="280.3" x2="199.9" y2="280.3" stroke="#4b5f95" stroke-width="0.4" />
<line x1="199.3" y1="282.8" x2="199.9" y2="282.8" stroke="#4b5f95" stroke-width="0.4" />
<line x1="199.3" y1="290.3" x2="199.9" y2="290.3" stroke="#4b5f95" stroke-width="0.4" />
<line x1="199.3" y1="292.8" x2="199.9" y2="292.8" stroke="#4b5f95" stroke-width="0.4" />
<line x1="199.3" y1="295.8" x2="199.3" y2="303.8" stroke="#4b5f95" stroke-width="0.9" />
<text x="206.3" y="320.5" font-size="4.3" fill="#7383ae" text-anchor="middle">0</text>
<text x="218.3" y="320" font-size="4.3" fill="#7383ae" text-anchor="end" transform="rotate(-45 218.3 320)">50K</text>
<text x="228.7" y="320" font-size="4.3" fill="#7383ae" text-anchor="end" transform="rotate(-45 228.7 320)">100K</text>
<text x="238.7" y="320" font-size="4.3" fill="#7383ae" text-anchor="end" transform="rotate(-45 238.7 320)">150K</text>
<text x="249" y="320" font-size="4.3" fill="#7383ae" text-anchor="end" transform="rotate(-45 249 320)">200K</text>
<text x="259.5" y="320" font-size="4.3" fill="#7383ae" text-anchor="end" transform="rotate(-45 259.5 320)">250K</text>
<line x1="205.45" y1="312.1" x2="205.45" y2="312.7" stroke="#4b5f95" stroke-width="0.35" />
<line x1="207.5" y1="312.1" x2="207.5" y2="312.7" stroke="#4b5f95" stroke-width="0.35" />
<line x1="209.55" y1="312.1" x2="209.55" y2="312.7" stroke="#4b5f95" stroke-width="0.35" />
<line x1="211.6" y1="312.1" x2="211.6" y2="312.7" stroke="#4b5f95" stroke-width="0.35" />
<line x1="213.65" y1="312.1" x2="213.65" y2="312.7" stroke="#4b5f95" stroke-width="0.35" />
<line x1="215.7" y1="312.1" x2="215.7" y2="312.7" stroke="#4b5f95" stroke-width="0.35" />
<line x1="217.75" y1="312.1" x2="217.75" y2="312.7" stroke="#4b5f95" stroke-width="0.35" />
<line x1="219.8" y1="312.1" x2="219.8" y2="312.7" stroke="#4b5f95" stroke-width="0.35" />
<line x1="221.85" y1="312.1" x2="221.85" y2="312.7" stroke="#4b5f95" stroke-width="0.35" />
<line x1="223.9" y1="312.1" x2="223.9" y2="312.7" stroke="#4b5f95" stroke-width="0.35" />
<line x1="225.95" y1="312.1" x2="225.95" y2="312.7" stroke="#4b5f95" stroke-width="0.35" />
<line x1="228" y1="312.1" x2="228" y2="312.7" stroke="#4b5f95" stroke-width="0.35" />
<line x1="230.05" y1="312.1" x2="230.05" y2="312.7" stroke="#4b5f95" stroke-width="0.35" />
<line x1="232.1" y1="312.1" x2="232.1" y2="312.7" stroke="#4b5f95" stroke-width="0.35" />
<line x1="234.15" y1="312.1" x2="234.15" y2="312.7" stroke="#4b5f95" stroke-width="0.35" />
<line x1="236.2" y1="312.1" x2="236.2" y2="312.7" stroke="#4b5f95" stroke-width="0.35" />
<line x1="238.25" y1="312.1" x2="238.25" y2="312.7" stroke="#4b5f95" stroke-width="0.35" />
<line x1="240.3" y1="312.1" x2="240.3" y2="312.7" stroke="#4b5f95" stroke-width="0.35" />
<line x1="242.35" y1="312.1" x2="242.35" y2="312.7" stroke="#4b5f95" stroke-width="0.35" />
<line x1="244.4" y1="312.1" x2="244.4" y2="312.7" stroke="#4b5f95" stroke-width="0.35" />
<line x1="246.45" y1="312.1" x2="246.45" y2="312.7" stroke="#4b5f95" stroke-width="0.35" />
<line x1="248.5" y1="312.1" x2="248.5" y2="312.7" stroke="#4b5f95" stroke-width="0.35" />
<line x1="250.55" y1="312.1" x2="250.55" y2="312.7" stroke="#4b5f95" stroke-width="0.35" />
<line x1="252.6" y1="312.1" x2="252.6" y2="312.7" stroke="#4b5f95" stroke-width="0.35" />
<line x1="254.65" y1="312.1" x2="254.65" y2="312.7" stroke="#4b5f95" stroke-width="0.35" />
<line x1="256.7" y1="312.1" x2="256.7" y2="312.7" stroke="#4b5f95" stroke-width="0.35" />
<g transform="rotate(0 208.1 294.7)">
<ellipse cx="208.1" cy="294.7" rx="2.6" ry="10" fill="url(#gb)"/>
<ellipse cx="208.1" cy="294.7" rx="2.13" ry="8.2" fill="none" stroke="#4d72b5" stroke-opacity="0.5" stroke-width="0.4"/>
<ellipse cx="208.1" cy="294.7" rx="1.61" ry="6.2" fill="none" stroke="#4d72b5" stroke-opacity="0.5" stroke-width="0.4"/>
<ellipse cx="208.1" cy="294.7" rx="1.09" ry="4.2" fill="none" stroke="#4d72b5" stroke-opacity="0.5" stroke-width="0.4"/>
</g>
<g transform="rotate(0 214.6 298)">
<ellipse cx="214.6" cy="298" rx="3" ry="11" fill="url(#gb)"/>
<ellipse cx="214.6" cy="298" rx="2.46" ry="9.02" fill="none" stroke="#4d72b5" stroke-opacity="0.5" stroke-width="0.4"/>
<ellipse cx="214.6" cy="298" rx="1.86" ry="6.82" fill="none" stroke="#4d72b5" stroke-opacity="0.5" stroke-width="0.4"/>
<ellipse cx="214.6" cy="298" rx="1.26" ry="4.62" fill="none" stroke="#4d72b5" stroke-opacity="0.5" stroke-width="0.4"/>
</g>
<polygon points="204.4,278.2 212.9,272.1 214.9,287 208.5,310.9 204.4,310.5" fill="none" stroke="#65759b" stroke-width="0.5" stroke-linejoin="round" />
<polygon points="212.9,272.1 217,264.8 237.6,263.6 233.9,287 219.4,292.3 214.9,287" fill="none" stroke="#65759b" stroke-width="0.5" stroke-linejoin="round" />
<polygon points="208.5,310.9 212.9,287.8 217.4,287.8 220.6,310.9" fill="none" stroke="#d8383a" stroke-width="0.9" stroke-linejoin="round" />
<text x="206.8" y="256.5" font-size="2.9" fill="#7f8fb8" text-anchor="middle">Transition</text>
<text x="206.8" y="260.1" font-size="2.9" fill="#7f8fb8" text-anchor="middle">99.8</text>
<text x="242.3" y="277.8" font-size="2.9" fill="#7f8fb8" text-anchor="middle">Eblasts</text>
<text x="242.3" y="281.4" font-size="2.9" fill="#7f8fb8" text-anchor="middle">0.06</text>
<text x="230.2" y="297.8" font-size="2.9" fill="#7f8fb8" text-anchor="middle">cRBC</text>
<text x="230.2" y="301.4" font-size="2.9" fill="#7f8fb8" text-anchor="middle">98.8</text>
<rect x="289.4" y="171" width="61.9" height="59.7" fill="none" stroke="#bcd6b4" stroke-width="0.6"/>
<text x="286.1" y="176.7" font-size="4.7" fill="#8aab80" text-anchor="end">10<tspan font-size="2.8" dy="-1.6">4</tspan></text>
<line x1="288.4" y1="174.2" x2="289.4" y2="174.2" stroke="#6a8a63" stroke-width="0.7" />
<text x="286.1" y="186.6" font-size="4.7" fill="#8aab80" text-anchor="end">10<tspan font-size="2.8" dy="-1.6">3</tspan></text>
<line x1="288.4" y1="184.1" x2="289.4" y2="184.1" stroke="#6a8a63" stroke-width="0.7" />
<text x="286.1" y="196.4" font-size="4.7" fill="#8aab80" text-anchor="end">10<tspan font-size="2.8" dy="-1.6">2</tspan></text>
<line x1="288.4" y1="193.9" x2="289.4" y2="193.9" stroke="#6a8a63" stroke-width="0.7" />
<text x="286.1" y="206.7" font-size="4.7" fill="#8aab80" text-anchor="end">10<tspan font-size="2.8" dy="-1.6">1</tspan></text>
<line x1="288.4" y1="204.2" x2="289.4" y2="204.2" stroke="#6a8a63" stroke-width="0.7" />
<text x="285.2" y="219.6" font-size="4.7" fill="#8aab80" text-anchor="end">0</text>
<line x1="288.8" y1="179" x2="289.4" y2="179" stroke="#6a8a63" stroke-width="0.4" />
<line x1="288.8" y1="181.5" x2="289.4" y2="181.5" stroke="#6a8a63" stroke-width="0.4" />
<line x1="288.8" y1="189" x2="289.4" y2="189" stroke="#6a8a63" stroke-width="0.4" />
<line x1="288.8" y1="191.5" x2="289.4" y2="191.5" stroke="#6a8a63" stroke-width="0.4" />
<line x1="288.8" y1="199" x2="289.4" y2="199" stroke="#6a8a63" stroke-width="0.4" />
<line x1="288.8" y1="201.5" x2="289.4" y2="201.5" stroke="#6a8a63" stroke-width="0.4" />
<line x1="288.8" y1="209" x2="289.4" y2="209" stroke="#6a8a63" stroke-width="0.4" />
<line x1="288.8" y1="211.5" x2="289.4" y2="211.5" stroke="#6a8a63" stroke-width="0.4" />
<line x1="288.8" y1="214.5" x2="288.8" y2="222.5" stroke="#6a8a63" stroke-width="0.9" />
<text x="295.8" y="239.1" font-size="4.3" fill="#7f9f75" text-anchor="middle">0</text>
<text x="307.8" y="238.6" font-size="4.3" fill="#7f9f75" text-anchor="end" transform="rotate(-45 307.8 238.6)">50K</text>
<text x="318.2" y="238.6" font-size="4.3" fill="#7f9f75" text-anchor="end" transform="rotate(-45 318.2 238.6)">100K</text>
<text x="328.2" y="238.6" font-size="4.3" fill="#7f9f75" text-anchor="end" transform="rotate(-45 328.2 238.6)">150K</text>
<text x="338.5" y="238.6" font-size="4.3" fill="#7f9f75" text-anchor="end" transform="rotate(-45 338.5 238.6)">200K</text>
<text x="349" y="238.6" font-size="4.3" fill="#7f9f75" text-anchor="end" transform="rotate(-45 349 238.6)">250K</text>
<line x1="294.95" y1="230.7" x2="294.95" y2="231.3" stroke="#6a8a63" stroke-width="0.35" />
<line x1="297" y1="230.7" x2="297" y2="231.3" stroke="#6a8a63" stroke-width="0.35" />
<line x1="299.05" y1="230.7" x2="299.05" y2="231.3" stroke="#6a8a63" stroke-width="0.35" />
<line x1="301.1" y1="230.7" x2="301.1" y2="231.3" stroke="#6a8a63" stroke-width="0.35" />
<line x1="303.15" y1="230.7" x2="303.15" y2="231.3" stroke="#6a8a63" stroke-width="0.35" />
<line x1="305.2" y1="230.7" x2="305.2" y2="231.3" stroke="#6a8a63" stroke-width="0.35" />
<line x1="307.25" y1="230.7" x2="307.25" y2="231.3" stroke="#6a8a63" stroke-width="0.35" />
<line x1="309.3" y1="230.7" x2="309.3" y2="231.3" stroke="#6a8a63" stroke-width="0.35" />
<line x1="311.35" y1="230.7" x2="311.35" y2="231.3" stroke="#6a8a63" stroke-width="0.35" />
<line x1="313.4" y1="230.7" x2="313.4" y2="231.3" stroke="#6a8a63" stroke-width="0.35" />
<line x1="315.45" y1="230.7" x2="315.45" y2="231.3" stroke="#6a8a63" stroke-width="0.35" />
<line x1="317.5" y1="230.7" x2="317.5" y2="231.3" stroke="#6a8a63" stroke-width="0.35" />
<line x1="319.55" y1="230.7" x2="319.55" y2="231.3" stroke="#6a8a63" stroke-width="0.35" />
<line x1="321.6" y1="230.7" x2="321.6" y2="231.3" stroke="#6a8a63" stroke-width="0.35" />
<line x1="323.65" y1="230.7" x2="323.65" y2="231.3" stroke="#6a8a63" stroke-width="0.35" />
<line x1="325.7" y1="230.7" x2="325.7" y2="231.3" stroke="#6a8a63" stroke-width="0.35" />
<line x1="327.75" y1="230.7" x2="327.75" y2="231.3" stroke="#6a8a63" stroke-width="0.35" />
<line x1="329.8" y1="230.7" x2="329.8" y2="231.3" stroke="#6a8a63" stroke-width="0.35" />
<line x1="331.85" y1="230.7" x2="331.85" y2="231.3" stroke="#6a8a63" stroke-width="0.35" />
<line x1="333.9" y1="230.7" x2="333.9" y2="231.3" stroke="#6a8a63" stroke-width="0.35" />
<line x1="335.95" y1="230.7" x2="335.95" y2="231.3" stroke="#6a8a63" stroke-width="0.35" />
<line x1="338" y1="230.7" x2="338" y2="231.3" stroke="#6a8a63" stroke-width="0.35" />
<line x1="340.05" y1="230.7" x2="340.05" y2="231.3" stroke="#6a8a63" stroke-width="0.35" />
<line x1="342.1" y1="230.7" x2="342.1" y2="231.3" stroke="#6a8a63" stroke-width="0.35" />
<line x1="344.15" y1="230.7" x2="344.15" y2="231.3" stroke="#6a8a63" stroke-width="0.35" />
<line x1="346.2" y1="230.7" x2="346.2" y2="231.3" stroke="#6a8a63" stroke-width="0.35" />
<g transform="rotate(38 301 202)">
<ellipse cx="301" cy="202" rx="5.2" ry="8.5" fill="url(#gg)"/>
<ellipse cx="301" cy="202" rx="4.26" ry="6.97" fill="none" stroke="#5aa84f" stroke-opacity="0.45" stroke-width="0.4"/>
<ellipse cx="301" cy="202" rx="3.22" ry="5.27" fill="none" stroke="#5aa84f" stroke-opacity="0.45" stroke-width="0.4"/>
<ellipse cx="301" cy="202" rx="2.18" ry="3.57" fill="none" stroke="#5aa84f" stroke-opacity="0.45" stroke-width="0.4"/>
</g>
<g transform="rotate(45 312 196)">
<ellipse cx="312" cy="196" rx="4.4" ry="10" fill="url(#gg)"/>
<ellipse cx="312" cy="196" rx="3.61" ry="8.2" fill="none" stroke="#5aa84f" stroke-opacity="0.45" stroke-width="0.4"/>
<ellipse cx="312" cy="196" rx="2.73" ry="6.2" fill="none" stroke="#5aa84f" stroke-opacity="0.45" stroke-width="0.4"/>
<ellipse cx="312" cy="196" rx="1.85" ry="4.2" fill="none" stroke="#5aa84f" stroke-opacity="0.45" stroke-width="0.4"/>
</g>
<g transform="rotate(0 302 215.5)">
<ellipse cx="302" cy="215.5" rx="6.5" ry="7.5" fill="url(#ggl)"/>
<ellipse cx="302" cy="215.5" rx="5.33" ry="6.15" fill="none" stroke="#8cc483" stroke-opacity="0.28" stroke-width="0.4"/>
<ellipse cx="302" cy="215.5" rx="4.03" ry="4.65" fill="none" stroke="#8cc483" stroke-opacity="0.28" stroke-width="0.4"/>
<ellipse cx="302" cy="215.5" rx="2.73" ry="3.15" fill="none" stroke="#8cc483" stroke-opacity="0.28" stroke-width="0.4"/>
</g>
<rect x="327.1" y="203" width="25.9" height="28.4" fill="#ffffff" fill-opacity="0.88" stroke="#dde8d9" stroke-width="0.5"/>
<path d="M331.5 230.6 C332.9 230.6 333.4 223.1 334 223.1 C334.6 223.1 335.1 230.6 336.5 230.6 Z" fill="#7cbf72" stroke="#5aa451" stroke-width="0.35"/>
<path d="M346.6 230.6 C347.33 230.6 347.59 206.6 347.9 206.6 C348.21 206.6 348.47 230.6 349.2 230.6 Z" fill="#7cbf72" stroke="#5aa451" stroke-width="0.35"/>
<line x1="327.6" y1="230.6" x2="352.5" y2="230.6" stroke="#5aa451" stroke-width="0.4" />
<line x1="342.7" y1="224.7" x2="351.3" y2="224.7" stroke="#d42a2a" stroke-width="0.9" />
<line x1="342.7" y1="223.2" x2="342.7" y2="226.2" stroke="#d42a2a" stroke-width="0.9" />
<line x1="351.3" y1="223.2" x2="351.3" y2="226.2" stroke="#d42a2a" stroke-width="0.9" />
<polygon points="295.4,194.3 303.6,189.3 306.7,205.6 294.7,208.3" fill="none" stroke="#76916f" stroke-width="0.5" stroke-linejoin="round" />
<polygon points="303.6,189.3 307.7,182.3 329.7,180.9 326.2,205.7 306.7,205.6" fill="none" stroke="#76916f" stroke-width="0.5" stroke-linejoin="round" />
<polygon points="294.2,208.3 309.8,208.3 309.8,225 294.2,225" fill="none" stroke="#76916f" stroke-width="0.5" stroke-linejoin="round" />
<text x="298.8" y="181.6" font-size="2.9" fill="#8aab80" text-anchor="middle">Transition</text>
<text x="298.8" y="185.2" font-size="2.9" fill="#8aab80" text-anchor="middle">6.4</text>
<text x="334" y="193.6" font-size="2.9" fill="#8aab80" text-anchor="middle">Eblasts</text>
<text x="334" y="197.2" font-size="2.9" fill="#8aab80" text-anchor="middle">16.6</text>
<text x="316.3" y="214.4" font-size="2.9" fill="#8aab80" text-anchor="middle">cRBC</text>
<text x="316.3" y="218" font-size="2.9" fill="#8aab80" text-anchor="middle">31.8</text>
<text x="338" y="212.4" font-size="2.9" fill="#8aab80" text-anchor="middle">Ter119+</text>
<text x="338" y="216" font-size="2.9" fill="#8aab80" text-anchor="middle">18.8</text>
<rect x="370.4" y="170.2" width="60.9" height="60.2" fill="none" stroke="#bcd6b4" stroke-width="0.6"/>
<text x="367.1" y="175.9" font-size="4.7" fill="#8aab80" text-anchor="end">10<tspan font-size="2.8" dy="-1.6">4</tspan></text>
<line x1="369.4" y1="173.4" x2="370.4" y2="173.4" stroke="#6a8a63" stroke-width="0.7" />
<text x="367.1" y="185.8" font-size="4.7" fill="#8aab80" text-anchor="end">10<tspan font-size="2.8" dy="-1.6">3</tspan></text>
<line x1="369.4" y1="183.3" x2="370.4" y2="183.3" stroke="#6a8a63" stroke-width="0.7" />
<text x="367.1" y="195.6" font-size="4.7" fill="#8aab80" text-anchor="end">10<tspan font-size="2.8" dy="-1.6">2</tspan></text>
<line x1="369.4" y1="193.1" x2="370.4" y2="193.1" stroke="#6a8a63" stroke-width="0.7" />
<text x="367.1" y="205.9" font-size="4.7" fill="#8aab80" text-anchor="end">10<tspan font-size="2.8" dy="-1.6">1</tspan></text>
<line x1="369.4" y1="203.4" x2="370.4" y2="203.4" stroke="#6a8a63" stroke-width="0.7" />
<text x="366.2" y="218.8" font-size="4.7" fill="#8aab80" text-anchor="end">0</text>
<line x1="369.8" y1="178.2" x2="370.4" y2="178.2" stroke="#6a8a63" stroke-width="0.4" />
<line x1="369.8" y1="180.7" x2="370.4" y2="180.7" stroke="#6a8a63" stroke-width="0.4" />
<line x1="369.8" y1="188.2" x2="370.4" y2="188.2" stroke="#6a8a63" stroke-width="0.4" />
<line x1="369.8" y1="190.7" x2="370.4" y2="190.7" stroke="#6a8a63" stroke-width="0.4" />
<line x1="369.8" y1="198.2" x2="370.4" y2="198.2" stroke="#6a8a63" stroke-width="0.4" />
<line x1="369.8" y1="200.7" x2="370.4" y2="200.7" stroke="#6a8a63" stroke-width="0.4" />
<line x1="369.8" y1="208.2" x2="370.4" y2="208.2" stroke="#6a8a63" stroke-width="0.4" />
<line x1="369.8" y1="210.7" x2="370.4" y2="210.7" stroke="#6a8a63" stroke-width="0.4" />
<line x1="369.8" y1="213.7" x2="369.8" y2="221.7" stroke="#6a8a63" stroke-width="0.9" />
<text x="376.8" y="238.8" font-size="4.3" fill="#7f9f75" text-anchor="middle">0</text>
<text x="388.8" y="238.3" font-size="4.3" fill="#7f9f75" text-anchor="end" transform="rotate(-45 388.8 238.3)">50K</text>
<text x="399.2" y="238.3" font-size="4.3" fill="#7f9f75" text-anchor="end" transform="rotate(-45 399.2 238.3)">100K</text>
<text x="409.2" y="238.3" font-size="4.3" fill="#7f9f75" text-anchor="end" transform="rotate(-45 409.2 238.3)">150K</text>
<text x="419.5" y="238.3" font-size="4.3" fill="#7f9f75" text-anchor="end" transform="rotate(-45 419.5 238.3)">200K</text>
<text x="430" y="238.3" font-size="4.3" fill="#7f9f75" text-anchor="end" transform="rotate(-45 430 238.3)">250K</text>
<line x1="375.95" y1="230.4" x2="375.95" y2="231" stroke="#6a8a63" stroke-width="0.35" />
<line x1="378" y1="230.4" x2="378" y2="231" stroke="#6a8a63" stroke-width="0.35" />
<line x1="380.05" y1="230.4" x2="380.05" y2="231" stroke="#6a8a63" stroke-width="0.35" />
<line x1="382.1" y1="230.4" x2="382.1" y2="231" stroke="#6a8a63" stroke-width="0.35" />
<line x1="384.15" y1="230.4" x2="384.15" y2="231" stroke="#6a8a63" stroke-width="0.35" />
<line x1="386.2" y1="230.4" x2="386.2" y2="231" stroke="#6a8a63" stroke-width="0.35" />
<line x1="388.25" y1="230.4" x2="388.25" y2="231" stroke="#6a8a63" stroke-width="0.35" />
<line x1="390.3" y1="230.4" x2="390.3" y2="231" stroke="#6a8a63" stroke-width="0.35" />
<line x1="392.35" y1="230.4" x2="392.35" y2="231" stroke="#6a8a63" stroke-width="0.35" />
<line x1="394.4" y1="230.4" x2="394.4" y2="231" stroke="#6a8a63" stroke-width="0.35" />
<line x1="396.45" y1="230.4" x2="396.45" y2="231" stroke="#6a8a63" stroke-width="0.35" />
<line x1="398.5" y1="230.4" x2="398.5" y2="231" stroke="#6a8a63" stroke-width="0.35" />
<line x1="400.55" y1="230.4" x2="400.55" y2="231" stroke="#6a8a63" stroke-width="0.35" />
<line x1="402.6" y1="230.4" x2="402.6" y2="231" stroke="#6a8a63" stroke-width="0.35" />
<line x1="404.65" y1="230.4" x2="404.65" y2="231" stroke="#6a8a63" stroke-width="0.35" />
<line x1="406.7" y1="230.4" x2="406.7" y2="231" stroke="#6a8a63" stroke-width="0.35" />
<line x1="408.75" y1="230.4" x2="408.75" y2="231" stroke="#6a8a63" stroke-width="0.35" />
<line x1="410.8" y1="230.4" x2="410.8" y2="231" stroke="#6a8a63" stroke-width="0.35" />
<line x1="412.85" y1="230.4" x2="412.85" y2="231" stroke="#6a8a63" stroke-width="0.35" />
<line x1="414.9" y1="230.4" x2="414.9" y2="231" stroke="#6a8a63" stroke-width="0.35" />
<line x1="416.95" y1="230.4" x2="416.95" y2="231" stroke="#6a8a63" stroke-width="0.35" />
<line x1="419" y1="230.4" x2="419" y2="231" stroke="#6a8a63" stroke-width="0.35" />
<line x1="421.05" y1="230.4" x2="421.05" y2="231" stroke="#6a8a63" stroke-width="0.35" />
<line x1="423.1" y1="230.4" x2="423.1" y2="231" stroke="#6a8a63" stroke-width="0.35" />
<line x1="425.15" y1="230.4" x2="425.15" y2="231" stroke="#6a8a63" stroke-width="0.35" />
<line x1="427.2" y1="230.4" x2="427.2" y2="231" stroke="#6a8a63" stroke-width="0.35" />
<g transform="rotate(25 381.5 203)">
<ellipse cx="381.5" cy="203" rx="4.6" ry="8" fill="url(#gg)"/>
<ellipse cx="381.5" cy="203" rx="3.77" ry="6.56" fill="none" stroke="#5aa84f" stroke-opacity="0.45" stroke-width="0.4"/>
<ellipse cx="381.5" cy="203" rx="2.85" ry="4.96" fill="none" stroke="#5aa84f" stroke-opacity="0.45" stroke-width="0.4"/>
<ellipse cx="381.5" cy="203" rx="1.93" ry="3.36" fill="none" stroke="#5aa84f" stroke-opacity="0.45" stroke-width="0.4"/>
</g>
<g transform="rotate(42 391.5 198)">
<ellipse cx="391.5" cy="198" rx="4" ry="8" fill="url(#gg)"/>
<ellipse cx="391.5" cy="198" rx="3.28" ry="6.56" fill="none" stroke="#5aa84f" stroke-opacity="0.45" stroke-width="0.4"/>
<ellipse cx="391.5" cy="198" rx="2.48" ry="4.96" fill="none" stroke="#5aa84f" stroke-opacity="0.45" stroke-width="0.4"/>
<ellipse cx="391.5" cy="198" rx="1.68" ry="3.36" fill="none" stroke="#5aa84f" stroke-opacity="0.45" stroke-width="0.4"/>
</g>
<g transform="rotate(0 382.3 215)">
<ellipse cx="382.3" cy="215" rx="5.6" ry="8" fill="url(#gg)"/>
<ellipse cx="382.3" cy="215" rx="4.59" ry="6.56" fill="none" stroke="#5aa84f" stroke-opacity="0.45" stroke-width="0.4"/>
<ellipse cx="382.3" cy="215" rx="3.47" ry="4.96" fill="none" stroke="#5aa84f" stroke-opacity="0.45" stroke-width="0.4"/>
<ellipse cx="382.3" cy="215" rx="2.35" ry="3.36" fill="none" stroke="#5aa84f" stroke-opacity="0.45" stroke-width="0.4"/>
</g>
<rect x="408.8" y="203" width="26.8" height="28.4" fill="#ffffff" fill-opacity="0.88" stroke="#dde8d9" stroke-width="0.5"/>
<path d="M413 230.6 C414.4 230.6 414.9 227.6 415.5 227.6 C416.1 227.6 416.6 230.6 418 230.6 Z" fill="#7cbf72" stroke="#5aa451" stroke-width="0.35"/>
<path d="M426.7 230.6 C427.37 230.6 427.61 206.6 427.9 206.6 C428.19 206.6 428.43 230.6 429.1 230.6 Z" fill="#7cbf72" stroke="#5aa451" stroke-width="0.35"/>
<line x1="409.3" y1="230.6" x2="435.1" y2="230.6" stroke="#5aa451" stroke-width="0.4" />
<line x1="424.4" y1="224.7" x2="432.7" y2="224.7" stroke="#d42a2a" stroke-width="0.9" />
<line x1="424.4" y1="223.2" x2="424.4" y2="226.2" stroke="#d42a2a" stroke-width="0.9" />
<line x1="432.7" y1="223.2" x2="432.7" y2="226.2" stroke="#d42a2a" stroke-width="0.9" />
<polygon points="376.5,194.5 384.5,189.7 387.4,205.8 375.7,207.9" fill="none" stroke="#76916f" stroke-width="0.5" stroke-linejoin="round" />
<polygon points="384.5,189.7 389,182.8 408.4,182 406.3,204.6 388.2,206.3" fill="none" stroke="#76916f" stroke-width="0.5" stroke-linejoin="round" />
<polygon points="374.8,207.9 390.2,207.9 390.2,224.4 374.8,224.4" fill="none" stroke="#76916f" stroke-width="0.5" stroke-linejoin="round" />
<text x="380.8" y="181.2" font-size="2.9" fill="#8aab80" text-anchor="middle">Transition</text>
<text x="380.8" y="184.8" font-size="2.9" fill="#8aab80" text-anchor="middle">27.5</text>
<text x="419" y="191.8" font-size="2.9" fill="#8aab80" text-anchor="middle">Eblasts</text>
<text x="419" y="195.4" font-size="2.9" fill="#8aab80" text-anchor="middle">9.65</text>
<text x="398.5" y="213.4" font-size="2.9" fill="#8aab80" text-anchor="middle">cRBC</text>
<text x="398.5" y="217" font-size="2.9" fill="#8aab80" text-anchor="middle">55.5</text>
<text x="417" y="211.8" font-size="2.9" fill="#8aab80" text-anchor="middle">Ter119+</text>
<text x="417" y="215.4" font-size="2.9" fill="#8aab80" text-anchor="middle">73.4</text>
<rect x="452.5" y="170.2" width="59.7" height="60.2" fill="none" stroke="#bcd6b4" stroke-width="0.6"/>
<text x="449.2" y="175.9" font-size="4.7" fill="#8aab80" text-anchor="end">10<tspan font-size="2.8" dy="-1.6">4</tspan></text>
<line x1="451.5" y1="173.4" x2="452.5" y2="173.4" stroke="#6a8a63" stroke-width="0.7" />
<text x="449.2" y="185.8" font-size="4.7" fill="#8aab80" text-anchor="end">10<tspan font-size="2.8" dy="-1.6">3</tspan></text>
<line x1="451.5" y1="183.3" x2="452.5" y2="183.3" stroke="#6a8a63" stroke-width="0.7" />
<text x="449.2" y="195.6" font-size="4.7" fill="#8aab80" text-anchor="end">10<tspan font-size="2.8" dy="-1.6">2</tspan></text>
<line x1="451.5" y1="193.1" x2="452.5" y2="193.1" stroke="#6a8a63" stroke-width="0.7" />
<text x="449.2" y="205.9" font-size="4.7" fill="#8aab80" text-anchor="end">10<tspan font-size="2.8" dy="-1.6">1</tspan></text>
<line x1="451.5" y1="203.4" x2="452.5" y2="203.4" stroke="#6a8a63" stroke-width="0.7" />
<text x="448.3" y="218.8" font-size="4.7" fill="#8aab80" text-anchor="end">0</text>
<line x1="451.9" y1="178.2" x2="452.5" y2="178.2" stroke="#6a8a63" stroke-width="0.4" />
<line x1="451.9" y1="180.7" x2="452.5" y2="180.7" stroke="#6a8a63" stroke-width="0.4" />
<line x1="451.9" y1="188.2" x2="452.5" y2="188.2" stroke="#6a8a63" stroke-width="0.4" />
<line x1="451.9" y1="190.7" x2="452.5" y2="190.7" stroke="#6a8a63" stroke-width="0.4" />
<line x1="451.9" y1="198.2" x2="452.5" y2="198.2" stroke="#6a8a63" stroke-width="0.4" />
<line x1="451.9" y1="200.7" x2="452.5" y2="200.7" stroke="#6a8a63" stroke-width="0.4" />
<line x1="451.9" y1="208.2" x2="452.5" y2="208.2" stroke="#6a8a63" stroke-width="0.4" />
<line x1="451.9" y1="210.7" x2="452.5" y2="210.7" stroke="#6a8a63" stroke-width="0.4" />
<line x1="451.9" y1="213.7" x2="451.9" y2="221.7" stroke="#6a8a63" stroke-width="0.9" />
<text x="458.9" y="238.8" font-size="4.3" fill="#7f9f75" text-anchor="middle">0</text>
<text x="470.9" y="238.3" font-size="4.3" fill="#7f9f75" text-anchor="end" transform="rotate(-45 470.9 238.3)">50K</text>
<text x="481.3" y="238.3" font-size="4.3" fill="#7f9f75" text-anchor="end" transform="rotate(-45 481.3 238.3)">100K</text>
<text x="491.3" y="238.3" font-size="4.3" fill="#7f9f75" text-anchor="end" transform="rotate(-45 491.3 238.3)">150K</text>
<text x="501.6" y="238.3" font-size="4.3" fill="#7f9f75" text-anchor="end" transform="rotate(-45 501.6 238.3)">200K</text>
<text x="512.1" y="238.3" font-size="4.3" fill="#7f9f75" text-anchor="end" transform="rotate(-45 512.1 238.3)">250K</text>
<line x1="458.05" y1="230.4" x2="458.05" y2="231" stroke="#6a8a63" stroke-width="0.35" />
<line x1="460.1" y1="230.4" x2="460.1" y2="231" stroke="#6a8a63" stroke-width="0.35" />
<line x1="462.15" y1="230.4" x2="462.15" y2="231" stroke="#6a8a63" stroke-width="0.35" />
<line x1="464.2" y1="230.4" x2="464.2" y2="231" stroke="#6a8a63" stroke-width="0.35" />
<line x1="466.25" y1="230.4" x2="466.25" y2="231" stroke="#6a8a63" stroke-width="0.35" />
<line x1="468.3" y1="230.4" x2="468.3" y2="231" stroke="#6a8a63" stroke-width="0.35" />
<line x1="470.35" y1="230.4" x2="470.35" y2="231" stroke="#6a8a63" stroke-width="0.35" />
<line x1="472.4" y1="230.4" x2="472.4" y2="231" stroke="#6a8a63" stroke-width="0.35" />
<line x1="474.45" y1="230.4" x2="474.45" y2="231" stroke="#6a8a63" stroke-width="0.35" />
<line x1="476.5" y1="230.4" x2="476.5" y2="231" stroke="#6a8a63" stroke-width="0.35" />
<line x1="478.55" y1="230.4" x2="478.55" y2="231" stroke="#6a8a63" stroke-width="0.35" />
<line x1="480.6" y1="230.4" x2="480.6" y2="231" stroke="#6a8a63" stroke-width="0.35" />
<line x1="482.65" y1="230.4" x2="482.65" y2="231" stroke="#6a8a63" stroke-width="0.35" />
<line x1="484.7" y1="230.4" x2="484.7" y2="231" stroke="#6a8a63" stroke-width="0.35" />
<line x1="486.75" y1="230.4" x2="486.75" y2="231" stroke="#6a8a63" stroke-width="0.35" />
<line x1="488.8" y1="230.4" x2="488.8" y2="231" stroke="#6a8a63" stroke-width="0.35" />
<line x1="490.85" y1="230.4" x2="490.85" y2="231" stroke="#6a8a63" stroke-width="0.35" />
<line x1="492.9" y1="230.4" x2="492.9" y2="231" stroke="#6a8a63" stroke-width="0.35" />
<line x1="494.95" y1="230.4" x2="494.95" y2="231" stroke="#6a8a63" stroke-width="0.35" />
<line x1="497" y1="230.4" x2="497" y2="231" stroke="#6a8a63" stroke-width="0.35" />
<line x1="499.05" y1="230.4" x2="499.05" y2="231" stroke="#6a8a63" stroke-width="0.35" />
<line x1="501.1" y1="230.4" x2="501.1" y2="231" stroke="#6a8a63" stroke-width="0.35" />
<line x1="503.15" y1="230.4" x2="503.15" y2="231" stroke="#6a8a63" stroke-width="0.35" />
<line x1="505.2" y1="230.4" x2="505.2" y2="231" stroke="#6a8a63" stroke-width="0.35" />
<line x1="507.25" y1="230.4" x2="507.25" y2="231" stroke="#6a8a63" stroke-width="0.35" />
<line x1="509.3" y1="230.4" x2="509.3" y2="231" stroke="#6a8a63" stroke-width="0.35" />
<g transform="rotate(0 465.3 215.3)">
<ellipse cx="465.3" cy="215.3" rx="5.6" ry="5.2" fill="url(#gg)"/>
<ellipse cx="465.3" cy="215.3" rx="4.59" ry="4.26" fill="none" stroke="#5aa84f" stroke-opacity="0.45" stroke-width="0.4"/>
<ellipse cx="465.3" cy="215.3" rx="3.47" ry="3.22" fill="none" stroke="#5aa84f" stroke-opacity="0.45" stroke-width="0.4"/>
<ellipse cx="465.3" cy="215.3" rx="2.35" ry="2.18" fill="none" stroke="#5aa84f" stroke-opacity="0.45" stroke-width="0.4"/>
</g>
<polygon points="458,193.5 466.9,189.2 470.7,206.5 457.3,208.3" fill="none" stroke="#76916f" stroke-width="0.5" stroke-linejoin="round" />
<polygon points="466.9,189.2 471.9,182.3 491.9,180.9 488,205.1 470.7,206.5" fill="none" stroke="#76916f" stroke-width="0.5" stroke-linejoin="round" />
<polygon points="457.2,208.4 472.8,208.4 472.8,224.5 457.2,224.5" fill="none" stroke="#76916f" stroke-width="0.5" stroke-linejoin="round" />
<text x="462" y="182.8" font-size="2.9" fill="#8aab80" text-anchor="middle">Transition</text>
<text x="462" y="186.4" font-size="2.9" fill="#8aab80" text-anchor="middle">1.84</text>
<text x="502" y="192.4" font-size="2.9" fill="#8aab80" text-anchor="middle">Eblasts</text>
<text x="502" y="196" font-size="2.9" fill="#8aab80" text-anchor="middle">0.056</text>
<text x="482" y="213.4" font-size="2.9" fill="#8aab80" text-anchor="middle">cRBC</text>
<text x="482" y="217" font-size="2.9" fill="#8aab80" text-anchor="middle">93.6</text>
<rect x="289" y="252.8" width="61.4" height="59.3" fill="none" stroke="#bcd6b4" stroke-width="0.6"/>
<text x="285.7" y="258.5" font-size="4.7" fill="#8aab80" text-anchor="end">10<tspan font-size="2.8" dy="-1.6">4</tspan></text>
<line x1="288" y1="256" x2="289" y2="256" stroke="#6a8a63" stroke-width="0.7" />
<text x="285.7" y="268.4" font-size="4.7" fill="#8aab80" text-anchor="end">10<tspan font-size="2.8" dy="-1.6">3</tspan></text>
<line x1="288" y1="265.9" x2="289" y2="265.9" stroke="#6a8a63" stroke-width="0.7" />
<text x="285.7" y="278.2" font-size="4.7" fill="#8aab80" text-anchor="end">10<tspan font-size="2.8" dy="-1.6">2</tspan></text>
<line x1="288" y1="275.7" x2="289" y2="275.7" stroke="#6a8a63" stroke-width="0.7" />
<text x="285.7" y="288.5" font-size="4.7" fill="#8aab80" text-anchor="end">10<tspan font-size="2.8" dy="-1.6">1</tspan></text>
<line x1="288" y1="286" x2="289" y2="286" stroke="#6a8a63" stroke-width="0.7" />
<text x="284.8" y="301.4" font-size="4.7" fill="#8aab80" text-anchor="end">0</text>
<line x1="288.4" y1="260.8" x2="289" y2="260.8" stroke="#6a8a63" stroke-width="0.4" />
<line x1="288.4" y1="263.3" x2="289" y2="263.3" stroke="#6a8a63" stroke-width="0.4" />
<line x1="288.4" y1="270.8" x2="289" y2="270.8" stroke="#6a8a63" stroke-width="0.4" />
<line x1="288.4" y1="273.3" x2="289" y2="273.3" stroke="#6a8a63" stroke-width="0.4" />
<line x1="288.4" y1="280.8" x2="289" y2="280.8" stroke="#6a8a63" stroke-width="0.4" />
<line x1="288.4" y1="283.3" x2="289" y2="283.3" stroke="#6a8a63" stroke-width="0.4" />
<line x1="288.4" y1="290.8" x2="289" y2="290.8" stroke="#6a8a63" stroke-width="0.4" />
<line x1="288.4" y1="293.3" x2="289" y2="293.3" stroke="#6a8a63" stroke-width="0.4" />
<line x1="288.4" y1="296.3" x2="288.4" y2="304.3" stroke="#6a8a63" stroke-width="0.9" />
<text x="295.4" y="320.5" font-size="4.3" fill="#7f9f75" text-anchor="middle">0</text>
<text x="307.4" y="320" font-size="4.3" fill="#7f9f75" text-anchor="end" transform="rotate(-45 307.4 320)">50K</text>
<text x="317.8" y="320" font-size="4.3" fill="#7f9f75" text-anchor="end" transform="rotate(-45 317.8 320)">100K</text>
<text x="327.8" y="320" font-size="4.3" fill="#7f9f75" text-anchor="end" transform="rotate(-45 327.8 320)">150K</text>
<text x="338.1" y="320" font-size="4.3" fill="#7f9f75" text-anchor="end" transform="rotate(-45 338.1 320)">200K</text>
<text x="348.6" y="320" font-size="4.3" fill="#7f9f75" text-anchor="end" transform="rotate(-45 348.6 320)">250K</text>
<line x1="294.55" y1="312.1" x2="294.55" y2="312.7" stroke="#6a8a63" stroke-width="0.35" />
<line x1="296.6" y1="312.1" x2="296.6" y2="312.7" stroke="#6a8a63" stroke-width="0.35" />
<line x1="298.65" y1="312.1" x2="298.65" y2="312.7" stroke="#6a8a63" stroke-width="0.35" />
<line x1="300.7" y1="312.1" x2="300.7" y2="312.7" stroke="#6a8a63" stroke-width="0.35" />
<line x1="302.75" y1="312.1" x2="302.75" y2="312.7" stroke="#6a8a63" stroke-width="0.35" />
<line x1="304.8" y1="312.1" x2="304.8" y2="312.7" stroke="#6a8a63" stroke-width="0.35" />
<line x1="306.85" y1="312.1" x2="306.85" y2="312.7" stroke="#6a8a63" stroke-width="0.35" />
<line x1="308.9" y1="312.1" x2="308.9" y2="312.7" stroke="#6a8a63" stroke-width="0.35" />
<line x1="310.95" y1="312.1" x2="310.95" y2="312.7" stroke="#6a8a63" stroke-width="0.35" />
<line x1="313" y1="312.1" x2="313" y2="312.7" stroke="#6a8a63" stroke-width="0.35" />
<line x1="315.05" y1="312.1" x2="315.05" y2="312.7" stroke="#6a8a63" stroke-width="0.35" />
<line x1="317.1" y1="312.1" x2="317.1" y2="312.7" stroke="#6a8a63" stroke-width="0.35" />
<line x1="319.15" y1="312.1" x2="319.15" y2="312.7" stroke="#6a8a63" stroke-width="0.35" />
<line x1="321.2" y1="312.1" x2="321.2" y2="312.7" stroke="#6a8a63" stroke-width="0.35" />
<line x1="323.25" y1="312.1" x2="323.25" y2="312.7" stroke="#6a8a63" stroke-width="0.35" />
<line x1="325.3" y1="312.1" x2="325.3" y2="312.7" stroke="#6a8a63" stroke-width="0.35" />
<line x1="327.35" y1="312.1" x2="327.35" y2="312.7" stroke="#6a8a63" stroke-width="0.35" />
<line x1="329.4" y1="312.1" x2="329.4" y2="312.7" stroke="#6a8a63" stroke-width="0.35" />
<line x1="331.45" y1="312.1" x2="331.45" y2="312.7" stroke="#6a8a63" stroke-width="0.35" />
<line x1="333.5" y1="312.1" x2="333.5" y2="312.7" stroke="#6a8a63" stroke-width="0.35" />
<line x1="335.55" y1="312.1" x2="335.55" y2="312.7" stroke="#6a8a63" stroke-width="0.35" />
<line x1="337.6" y1="312.1" x2="337.6" y2="312.7" stroke="#6a8a63" stroke-width="0.35" />
<line x1="339.65" y1="312.1" x2="339.65" y2="312.7" stroke="#6a8a63" stroke-width="0.35" />
<line x1="341.7" y1="312.1" x2="341.7" y2="312.7" stroke="#6a8a63" stroke-width="0.35" />
<line x1="343.75" y1="312.1" x2="343.75" y2="312.7" stroke="#6a8a63" stroke-width="0.35" />
<line x1="345.8" y1="312.1" x2="345.8" y2="312.7" stroke="#6a8a63" stroke-width="0.35" />
<g transform="rotate(8 299.5 279)">
<ellipse cx="299.5" cy="279" rx="4" ry="8" fill="url(#ggl)"/>
<ellipse cx="299.5" cy="279" rx="3.28" ry="6.56" fill="none" stroke="#8cc483" stroke-opacity="0.28" stroke-width="0.4"/>
<ellipse cx="299.5" cy="279" rx="2.48" ry="4.96" fill="none" stroke="#8cc483" stroke-opacity="0.28" stroke-width="0.4"/>
<ellipse cx="299.5" cy="279" rx="1.68" ry="3.36" fill="none" stroke="#8cc483" stroke-opacity="0.28" stroke-width="0.4"/>
</g>
<g transform="rotate(0 302.9 296.5)">
<ellipse cx="302.9" cy="296.5" rx="7.8" ry="7.8" fill="url(#gg)"/>
<ellipse cx="302.9" cy="296.5" rx="6.4" ry="6.4" fill="none" stroke="#5aa84f" stroke-opacity="0.45" stroke-width="0.4"/>
<ellipse cx="302.9" cy="296.5" rx="4.84" ry="4.84" fill="none" stroke="#5aa84f" stroke-opacity="0.45" stroke-width="0.4"/>
<ellipse cx="302.9" cy="296.5" rx="3.28" ry="3.28" fill="none" stroke="#5aa84f" stroke-opacity="0.45" stroke-width="0.4"/>
</g>
<g transform="rotate(45 316.5 275.5)">
<ellipse cx="316.5" cy="275.5" rx="5" ry="12" fill="url(#ggl)"/>
<ellipse cx="316.5" cy="275.5" rx="4.1" ry="9.84" fill="none" stroke="#8cc483" stroke-opacity="0.28" stroke-width="0.4"/>
<ellipse cx="316.5" cy="275.5" rx="3.1" ry="7.44" fill="none" stroke="#8cc483" stroke-opacity="0.28" stroke-width="0.4"/>
<ellipse cx="316.5" cy="275.5" rx="2.1" ry="5.04" fill="none" stroke="#8cc483" stroke-opacity="0.28" stroke-width="0.4"/>
</g>
<rect x="327.1" y="285.7" width="25.9" height="26.8" fill="#ffffff" fill-opacity="0.88" stroke="#dde8d9" stroke-width="0.5"/>
<path d="M331.15 311.7 C333.25 311.7 334 288.7 334.9 288.7 C335.8 288.7 336.55 311.7 338.65 311.7 Z" fill="#7cbf72" stroke="#5aa451" stroke-width="0.35"/>
<path d="M346.8 311.7 C347.47 311.7 347.71 303.7 348 303.7 C348.29 303.7 348.53 311.7 349.2 311.7 Z" fill="#7cbf72" stroke="#5aa451" stroke-width="0.35"/>
<line x1="327.6" y1="311.7" x2="352.5" y2="311.7" stroke="#5aa451" stroke-width="0.4" />
<line x1="342.7" y1="304.7" x2="351.3" y2="304.7" stroke="#d42a2a" stroke-width="0.9" />
<line x1="342.7" y1="303.2" x2="342.7" y2="306.2" stroke="#d42a2a" stroke-width="0.9" />
<line x1="351.3" y1="303.2" x2="351.3" y2="306.2" stroke="#d42a2a" stroke-width="0.9" />
<polygon points="294.4,270.1 303.3,268.1 306.2,286.2 295.9,289.7" fill="none" stroke="#76916f" stroke-width="0.5" stroke-linejoin="round" />
<polygon points="304.5,269.7 309.4,264.4 328.4,263.6 325.5,286.6 310.2,287.8 306.2,286.2" fill="none" stroke="#76916f" stroke-width="0.5" stroke-linejoin="round" />
<polygon points="295.7,289.9 310.2,289.9 310.2,311.7 295.7,311.7" fill="none" stroke="#76916f" stroke-width="0.5" stroke-linejoin="round" />
<text x="297" y="262.8" font-size="2.9" fill="#8aab80" text-anchor="middle">Transition</text>
<text x="297" y="266.4" font-size="2.9" fill="#8aab80" text-anchor="middle">18.6</text>
<text x="333.5" y="276.1" font-size="2.9" fill="#8aab80" text-anchor="middle">Eblasts</text>
<text x="333.5" y="279.7" font-size="2.9" fill="#8aab80" text-anchor="middle">20.2</text>
<text x="317" y="298.8" font-size="2.9" fill="#8aab80" text-anchor="middle">cRBC</text>
<text x="317" y="302.4" font-size="2.9" fill="#8aab80" text-anchor="middle">29.4</text>
<text x="339" y="295.8" font-size="2.9" fill="#8aab80" text-anchor="middle">Ter119+</text>
<text x="339" y="299.4" font-size="2.9" fill="#8aab80" text-anchor="middle">13.7</text>
<rect x="370.4" y="252.8" width="61.3" height="59.3" fill="none" stroke="#bcd6b4" stroke-width="0.6"/>
<text x="367.1" y="258.5" font-size="4.7" fill="#8aab80" text-anchor="end">10<tspan font-size="2.8" dy="-1.6">4</tspan></text>
<line x1="369.4" y1="256" x2="370.4" y2="256" stroke="#6a8a63" stroke-width="0.7" />
<text x="367.1" y="268.4" font-size="4.7" fill="#8aab80" text-anchor="end">10<tspan font-size="2.8" dy="-1.6">3</tspan></text>
<line x1="369.4" y1="265.9" x2="370.4" y2="265.9" stroke="#6a8a63" stroke-width="0.7" />
<text x="367.1" y="278.2" font-size="4.7" fill="#8aab80" text-anchor="end">10<tspan font-size="2.8" dy="-1.6">2</tspan></text>
<line x1="369.4" y1="275.7" x2="370.4" y2="275.7" stroke="#6a8a63" stroke-width="0.7" />
<text x="367.1" y="288.5" font-size="4.7" fill="#8aab80" text-anchor="end">10<tspan font-size="2.8" dy="-1.6">1</tspan></text>
<line x1="369.4" y1="286" x2="370.4" y2="286" stroke="#6a8a63" stroke-width="0.7" />
<text x="366.2" y="301.4" font-size="4.7" fill="#8aab80" text-anchor="end">0</text>
<line x1="369.8" y1="260.8" x2="370.4" y2="260.8" stroke="#6a8a63" stroke-width="0.4" />
<line x1="369.8" y1="263.3" x2="370.4" y2="263.3" stroke="#6a8a63" stroke-width="0.4" />
<line x1="369.8" y1="270.8" x2="370.4" y2="270.8" stroke="#6a8a63" stroke-width="0.4" />
<line x1="369.8" y1="273.3" x2="370.4" y2="273.3" stroke="#6a8a63" stroke-width="0.4" />
<line x1="369.8" y1="280.8" x2="370.4" y2="280.8" stroke="#6a8a63" stroke-width="0.4" />
<line x1="369.8" y1="283.3" x2="370.4" y2="283.3" stroke="#6a8a63" stroke-width="0.4" />
<line x1="369.8" y1="290.8" x2="370.4" y2="290.8" stroke="#6a8a63" stroke-width="0.4" />
<line x1="369.8" y1="293.3" x2="370.4" y2="293.3" stroke="#6a8a63" stroke-width="0.4" />
<line x1="369.8" y1="296.3" x2="369.8" y2="304.3" stroke="#6a8a63" stroke-width="0.9" />
<text x="376.8" y="320.5" font-size="4.3" fill="#7f9f75" text-anchor="middle">0</text>
<text x="388.8" y="320" font-size="4.3" fill="#7f9f75" text-anchor="end" transform="rotate(-45 388.8 320)">50K</text>
<text x="399.2" y="320" font-size="4.3" fill="#7f9f75" text-anchor="end" transform="rotate(-45 399.2 320)">100K</text>
<text x="409.2" y="320" font-size="4.3" fill="#7f9f75" text-anchor="end" transform="rotate(-45 409.2 320)">150K</text>
<text x="419.5" y="320" font-size="4.3" fill="#7f9f75" text-anchor="end" transform="rotate(-45 419.5 320)">200K</text>
<text x="430" y="320" font-size="4.3" fill="#7f9f75" text-anchor="end" transform="rotate(-45 430 320)">250K</text>
<line x1="375.95" y1="312.1" x2="375.95" y2="312.7" stroke="#6a8a63" stroke-width="0.35" />
<line x1="378" y1="312.1" x2="378" y2="312.7" stroke="#6a8a63" stroke-width="0.35" />
<line x1="380.05" y1="312.1" x2="380.05" y2="312.7" stroke="#6a8a63" stroke-width="0.35" />
<line x1="382.1" y1="312.1" x2="382.1" y2="312.7" stroke="#6a8a63" stroke-width="0.35" />
<line x1="384.15" y1="312.1" x2="384.15" y2="312.7" stroke="#6a8a63" stroke-width="0.35" />
<line x1="386.2" y1="312.1" x2="386.2" y2="312.7" stroke="#6a8a63" stroke-width="0.35" />
<line x1="388.25" y1="312.1" x2="388.25" y2="312.7" stroke="#6a8a63" stroke-width="0.35" />
<line x1="390.3" y1="312.1" x2="390.3" y2="312.7" stroke="#6a8a63" stroke-width="0.35" />
<line x1="392.35" y1="312.1" x2="392.35" y2="312.7" stroke="#6a8a63" stroke-width="0.35" />
<line x1="394.4" y1="312.1" x2="394.4" y2="312.7" stroke="#6a8a63" stroke-width="0.35" />
<line x1="396.45" y1="312.1" x2="396.45" y2="312.7" stroke="#6a8a63" stroke-width="0.35" />
<line x1="398.5" y1="312.1" x2="398.5" y2="312.7" stroke="#6a8a63" stroke-width="0.35" />
<line x1="400.55" y1="312.1" x2="400.55" y2="312.7" stroke="#6a8a63" stroke-width="0.35" />
<line x1="402.6" y1="312.1" x2="402.6" y2="312.7" stroke="#6a8a63" stroke-width="0.35" />
<line x1="404.65" y1="312.1" x2="404.65" y2="312.7" stroke="#6a8a63" stroke-width="0.35" />
<line x1="406.7" y1="312.1" x2="406.7" y2="312.7" stroke="#6a8a63" stroke-width="0.35" />
<line x1="408.75" y1="312.1" x2="408.75" y2="312.7" stroke="#6a8a63" stroke-width="0.35" />
<line x1="410.8" y1="312.1" x2="410.8" y2="312.7" stroke="#6a8a63" stroke-width="0.35" />
<line x1="412.85" y1="312.1" x2="412.85" y2="312.7" stroke="#6a8a63" stroke-width="0.35" />
<line x1="414.9" y1="312.1" x2="414.9" y2="312.7" stroke="#6a8a63" stroke-width="0.35" />
<line x1="416.95" y1="312.1" x2="416.95" y2="312.7" stroke="#6a8a63" stroke-width="0.35" />
<line x1="419" y1="312.1" x2="419" y2="312.7" stroke="#6a8a63" stroke-width="0.35" />
<line x1="421.05" y1="312.1" x2="421.05" y2="312.7" stroke="#6a8a63" stroke-width="0.35" />
<line x1="423.1" y1="312.1" x2="423.1" y2="312.7" stroke="#6a8a63" stroke-width="0.35" />
<line x1="425.15" y1="312.1" x2="425.15" y2="312.7" stroke="#6a8a63" stroke-width="0.35" />
<line x1="427.2" y1="312.1" x2="427.2" y2="312.7" stroke="#6a8a63" stroke-width="0.35" />
<g transform="rotate(0 384.1 296.7)">
<ellipse cx="384.1" cy="296.7" rx="6.8" ry="6.8" fill="url(#gg)"/>
<ellipse cx="384.1" cy="296.7" rx="5.58" ry="5.58" fill="none" stroke="#5aa84f" stroke-opacity="0.45" stroke-width="0.4"/>
<ellipse cx="384.1" cy="296.7" rx="4.22" ry="4.22" fill="none" stroke="#5aa84f" stroke-opacity="0.45" stroke-width="0.4"/>
<ellipse cx="384.1" cy="296.7" rx="2.86" ry="2.86" fill="none" stroke="#5aa84f" stroke-opacity="0.45" stroke-width="0.4"/>
</g>
<g transform="rotate(0 390 280.4)">
<ellipse cx="390" cy="280.4" rx="2.6" ry="5" fill="url(#ggl)"/>
<ellipse cx="390" cy="280.4" rx="2.13" ry="4.1" fill="none" stroke="#8cc483" stroke-opacity="0.28" stroke-width="0.4"/>
<ellipse cx="390" cy="280.4" rx="1.61" ry="3.1" fill="none" stroke="#8cc483" stroke-opacity="0.28" stroke-width="0.4"/>
<ellipse cx="390" cy="280.4" rx="1.09" ry="2.1" fill="none" stroke="#8cc483" stroke-opacity="0.28" stroke-width="0.4"/>
</g>
<rect x="408.8" y="286.2" width="26" height="26.3" fill="#ffffff" fill-opacity="0.88" stroke="#dde8d9" stroke-width="0.5"/>
<path d="M412.15 311.7 C413.97 311.7 414.62 291.7 415.4 291.7 C416.18 291.7 416.83 311.7 418.65 311.7 Z" fill="#7cbf72" stroke="#5aa451" stroke-width="0.35"/>
<path d="M426.8 311.7 C427.42 311.7 427.64 289.7 427.9 289.7 C428.16 289.7 428.38 311.7 429 311.7 Z" fill="#7cbf72" stroke="#5aa451" stroke-width="0.35"/>
<line x1="409.3" y1="311.7" x2="434.3" y2="311.7" stroke="#5aa451" stroke-width="0.4" />
<line x1="424" y1="305.2" x2="432.7" y2="305.2" stroke="#d42a2a" stroke-width="0.9" />
<line x1="424" y1="303.7" x2="424" y2="306.7" stroke="#d42a2a" stroke-width="0.9" />
<line x1="432.7" y1="303.7" x2="432.7" y2="306.7" stroke="#d42a2a" stroke-width="0.9" />
<polygon points="376.1,270.1 384.1,268.5 387.8,288.7 376.5,289.9" fill="none" stroke="#76916f" stroke-width="0.5" stroke-linejoin="round" />
<polygon points="385.8,270.1 389.8,264.4 408.8,263.6 406.3,286.6 389.4,288.3" fill="none" stroke="#76916f" stroke-width="0.5" stroke-linejoin="round" />
<polygon points="376.5,289.9 391,289.9 391,311.7 376.5,311.7" fill="none" stroke="#76916f" stroke-width="0.5" stroke-linejoin="round" />
<text x="378.5" y="263" font-size="2.9" fill="#8aab80" text-anchor="middle">Transition</text>
<text x="378.5" y="266.6" font-size="2.9" fill="#8aab80" text-anchor="middle">0.98</text>
<text x="416.5" y="275.8" font-size="2.9" fill="#8aab80" text-anchor="middle">Eblasts</text>
<text x="416.5" y="279.4" font-size="2.9" fill="#8aab80" text-anchor="middle">6.44</text>
<text x="398" y="297.8" font-size="2.9" fill="#8aab80" text-anchor="middle">cRBC</text>
<text x="398" y="301.4" font-size="2.9" fill="#8aab80" text-anchor="middle">65.1</text>
<text x="419.5" y="294.6" font-size="2.9" fill="#8aab80" text-anchor="middle">Ter119+</text>
<text x="419.5" y="298.2" font-size="2.9" fill="#8aab80" text-anchor="middle">20.3</text>
<rect x="452.5" y="252.8" width="60.2" height="59.3" fill="none" stroke="#bcd6b4" stroke-width="0.6"/>
<text x="449.2" y="258.5" font-size="4.7" fill="#8aab80" text-anchor="end">10<tspan font-size="2.8" dy="-1.6">4</tspan></text>
<line x1="451.5" y1="256" x2="452.5" y2="256" stroke="#6a8a63" stroke-width="0.7" />
<text x="449.2" y="268.4" font-size="4.7" fill="#8aab80" text-anchor="end">10<tspan font-size="2.8" dy="-1.6">3</tspan></text>
<line x1="451.5" y1="265.9" x2="452.5" y2="265.9" stroke="#6a8a63" stroke-width="0.7" />
<text x="449.2" y="278.2" font-size="4.7" fill="#8aab80" text-anchor="end">10<tspan font-size="2.8" dy="-1.6">2</tspan></text>
<line x1="451.5" y1="275.7" x2="452.5" y2="275.7" stroke="#6a8a63" stroke-width="0.7" />
<text x="449.2" y="288.5" font-size="4.7" fill="#8aab80" text-anchor="end">10<tspan font-size="2.8" dy="-1.6">1</tspan></text>
<line x1="451.5" y1="286" x2="452.5" y2="286" stroke="#6a8a63" stroke-width="0.7" />
<text x="448.3" y="301.4" font-size="4.7" fill="#8aab80" text-anchor="end">0</text>
<line x1="451.9" y1="260.8" x2="452.5" y2="260.8" stroke="#6a8a63" stroke-width="0.4" />
<line x1="451.9" y1="263.3" x2="452.5" y2="263.3" stroke="#6a8a63" stroke-width="0.4" />
<line x1="451.9" y1="270.8" x2="452.5" y2="270.8" stroke="#6a8a63" stroke-width="0.4" />
<line x1="451.9" y1="273.3" x2="452.5" y2="273.3" stroke="#6a8a63" stroke-width="0.4" />
<line x1="451.9" y1="280.8" x2="452.5" y2="280.8" stroke="#6a8a63" stroke-width="0.4" />
<line x1="451.9" y1="283.3" x2="452.5" y2="283.3" stroke="#6a8a63" stroke-width="0.4" />
<line x1="451.9" y1="290.8" x2="452.5" y2="290.8" stroke="#6a8a63" stroke-width="0.4" />
<line x1="451.9" y1="293.3" x2="452.5" y2="293.3" stroke="#6a8a63" stroke-width="0.4" />
<line x1="451.9" y1="296.3" x2="451.9" y2="304.3" stroke="#6a8a63" stroke-width="0.9" />
<text x="458.9" y="320.5" font-size="4.3" fill="#7f9f75" text-anchor="middle">0</text>
<text x="470.9" y="320" font-size="4.3" fill="#7f9f75" text-anchor="end" transform="rotate(-45 470.9 320)">50K</text>
<text x="481.3" y="320" font-size="4.3" fill="#7f9f75" text-anchor="end" transform="rotate(-45 481.3 320)">100K</text>
<text x="491.3" y="320" font-size="4.3" fill="#7f9f75" text-anchor="end" transform="rotate(-45 491.3 320)">150K</text>
<text x="501.6" y="320" font-size="4.3" fill="#7f9f75" text-anchor="end" transform="rotate(-45 501.6 320)">200K</text>
<text x="512.1" y="320" font-size="4.3" fill="#7f9f75" text-anchor="end" transform="rotate(-45 512.1 320)">250K</text>
<line x1="458.05" y1="312.1" x2="458.05" y2="312.7" stroke="#6a8a63" stroke-width="0.35" />
<line x1="460.1" y1="312.1" x2="460.1" y2="312.7" stroke="#6a8a63" stroke-width="0.35" />
<line x1="462.15" y1="312.1" x2="462.15" y2="312.7" stroke="#6a8a63" stroke-width="0.35" />
<line x1="464.2" y1="312.1" x2="464.2" y2="312.7" stroke="#6a8a63" stroke-width="0.35" />
<line x1="466.25" y1="312.1" x2="466.25" y2="312.7" stroke="#6a8a63" stroke-width="0.35" />
<line x1="468.3" y1="312.1" x2="468.3" y2="312.7" stroke="#6a8a63" stroke-width="0.35" />
<line x1="470.35" y1="312.1" x2="470.35" y2="312.7" stroke="#6a8a63" stroke-width="0.35" />
<line x1="472.4" y1="312.1" x2="472.4" y2="312.7" stroke="#6a8a63" stroke-width="0.35" />
<line x1="474.45" y1="312.1" x2="474.45" y2="312.7" stroke="#6a8a63" stroke-width="0.35" />
<line x1="476.5" y1="312.1" x2="476.5" y2="312.7" stroke="#6a8a63" stroke-width="0.35" />
<line x1="478.55" y1="312.1" x2="478.55" y2="312.7" stroke="#6a8a63" stroke-width="0.35" />
<line x1="480.6" y1="312.1" x2="480.6" y2="312.7" stroke="#6a8a63" stroke-width="0.35" />
<line x1="482.65" y1="312.1" x2="482.65" y2="312.7" stroke="#6a8a63" stroke-width="0.35" />
<line x1="484.7" y1="312.1" x2="484.7" y2="312.7" stroke="#6a8a63" stroke-width="0.35" />
<line x1="486.75" y1="312.1" x2="486.75" y2="312.7" stroke="#6a8a63" stroke-width="0.35" />
<line x1="488.8" y1="312.1" x2="488.8" y2="312.7" stroke="#6a8a63" stroke-width="0.35" />
<line x1="490.85" y1="312.1" x2="490.85" y2="312.7" stroke="#6a8a63" stroke-width="0.35" />
<line x1="492.9" y1="312.1" x2="492.9" y2="312.7" stroke="#6a8a63" stroke-width="0.35" />
<line x1="494.95" y1="312.1" x2="494.95" y2="312.7" stroke="#6a8a63" stroke-width="0.35" />
<line x1="497" y1="312.1" x2="497" y2="312.7" stroke="#6a8a63" stroke-width="0.35" />
<line x1="499.05" y1="312.1" x2="499.05" y2="312.7" stroke="#6a8a63" stroke-width="0.35" />
<line x1="501.1" y1="312.1" x2="501.1" y2="312.7" stroke="#6a8a63" stroke-width="0.35" />
<line x1="503.15" y1="312.1" x2="503.15" y2="312.7" stroke="#6a8a63" stroke-width="0.35" />
<line x1="505.2" y1="312.1" x2="505.2" y2="312.7" stroke="#6a8a63" stroke-width="0.35" />
<line x1="507.25" y1="312.1" x2="507.25" y2="312.7" stroke="#6a8a63" stroke-width="0.35" />
<line x1="509.3" y1="312.1" x2="509.3" y2="312.7" stroke="#6a8a63" stroke-width="0.35" />
<g transform="rotate(0 465.5 296.9)">
<ellipse cx="465.5" cy="296.9" rx="5.6" ry="5.4" fill="url(#gg)"/>
<ellipse cx="465.5" cy="296.9" rx="4.59" ry="4.43" fill="none" stroke="#5aa84f" stroke-opacity="0.45" stroke-width="0.4"/>
<ellipse cx="465.5" cy="296.9" rx="3.47" ry="3.35" fill="none" stroke="#5aa84f" stroke-opacity="0.45" stroke-width="0.4"/>
<ellipse cx="465.5" cy="296.9" rx="2.35" ry="2.27" fill="none" stroke="#5aa84f" stroke-opacity="0.45" stroke-width="0.4"/>
</g>
<polygon points="457.7,271 466.3,268.4 468.1,271.8 470.7,287.4 458.5,289.6" fill="none" stroke="#76916f" stroke-width="0.5" stroke-linejoin="round" />
<polygon points="468.1,271.8 471.2,264.9 492.3,263.2 488,286.5 471.5,288.3" fill="none" stroke="#76916f" stroke-width="0.5" stroke-linejoin="round" />
<polygon points="458.5,289.6 473.3,289.6 473.3,311.8 458.5,311.8" fill="none" stroke="#76916f" stroke-width="0.5" stroke-linejoin="round" />
<text x="460.5" y="256.4" font-size="2.9" fill="#8aab80" text-anchor="middle">Transition</text>
<text x="460.5" y="260" font-size="2.9" fill="#8aab80" text-anchor="middle">0.097</text>
<text x="501.5" y="274.8" font-size="2.9" fill="#8aab80" text-anchor="middle">Eblasts</text>
<text x="501.5" y="278.4" font-size="2.9" fill="#8aab80" text-anchor="middle">4.13E-3</text>
<text x="482" y="296.8" font-size="2.9" fill="#8aab80" text-anchor="middle">cRBC</text>
<text x="482" y="300.4" font-size="2.9" fill="#8aab80" text-anchor="middle">90.7</text>
<text x="75.9" y="360.9" font-size="11.2" fill="#111" font-weight="bold" textLength="8.4" lengthAdjust="spacingAndGlyphs">D</text>
<line x1="120.9" y1="372.5" x2="120.9" y2="478.3" stroke="#1c1c1c" stroke-width="1.15" />
<line x1="118.7" y1="374.7" x2="120.9" y2="374.7" stroke="#1c1c1c" stroke-width="0.9" />
<text x="115.9" y="377.8" font-size="8.6" fill="#2b2b2b" text-anchor="end">100</text>
<line x1="118.7" y1="395.32" x2="120.9" y2="395.32" stroke="#1c1c1c" stroke-width="0.9" />
<text x="115.9" y="398.42" font-size="8.6" fill="#2b2b2b" text-anchor="end">80</text>
<line x1="118.7" y1="415.94" x2="120.9" y2="415.94" stroke="#1c1c1c" stroke-width="0.9" />
<text x="115.9" y="419.04" font-size="8.6" fill="#2b2b2b" text-anchor="end">60</text>
<line x1="118.7" y1="436.56" x2="120.9" y2="436.56" stroke="#1c1c1c" stroke-width="0.9" />
<text x="115.9" y="439.66" font-size="8.6" fill="#2b2b2b" text-anchor="end">40</text>
<line x1="118.7" y1="457.18" x2="120.9" y2="457.18" stroke="#1c1c1c" stroke-width="0.9" />
<text x="115.9" y="460.28" font-size="8.6" fill="#2b2b2b" text-anchor="end">20</text>
<line x1="118.7" y1="477.8" x2="120.9" y2="477.8" stroke="#1c1c1c" stroke-width="0.9" />
<text x="115.9" y="480.9" font-size="8.6" fill="#2b2b2b" text-anchor="end">0</text>
<line x1="118.4" y1="477.8" x2="257.2" y2="477.8" stroke="#1c1c1c" stroke-width="1.15" />
<text x="189.4" y="358.9" font-size="9.6" fill="#1a1a1a" text-anchor="middle" textLength="58.2" lengthAdjust="spacingAndGlyphs">Bone Marrow</text>
<text x="147" y="375.2" font-size="8.6" fill="#1a1a1a" text-anchor="middle" textLength="14.4" lengthAdjust="spacingAndGlyphs">CTL</text>
<text x="189.45" y="375.4" font-size="8.6" fill="#2f5f9e" text-anchor="middle" textLength="31.9" lengthAdjust="spacingAndGlyphs">R411H/Y</text>
<text x="207" y="375.4" font-size="8.6" fill="#4fae4f" textLength="49.6" lengthAdjust="spacingAndGlyphs">Slc25a38<tspan font-size="6.2" dy="-3">BMKO</tspan></text>
<text x="96.9" y="424.9" font-size="8.8" fill="#2b2b2b" text-anchor="middle" textLength="94.4" lengthAdjust="spacingAndGlyphs" transform="rotate(-90 96.9 424.9)">Percentage of Ter119+ cells</text>
<line x1="123" y1="433.5" x2="256.2" y2="433.5" stroke="#2b2b2b" stroke-width="0.8" stroke-dasharray="1.9,1.6"/>
<line x1="175.8" y1="388.9" x2="202.8" y2="388.9" stroke="#2f5f9e" stroke-width="0.9" />
<text x="189.3" y="388.7" font-size="8.6" fill="#2f5f9e" text-anchor="middle" textLength="14.04" lengthAdjust="spacingAndGlyphs">****</text>
<line x1="219.7" y1="388.9" x2="247.4" y2="388.9" stroke="#5cb85c" stroke-width="0.9" />
<text x="233.55" y="388.7" font-size="8.6" fill="#5cb85c" text-anchor="middle" textLength="14.4" lengthAdjust="spacingAndGlyphs">****</text>
<line x1="130.2" y1="433.6" x2="140.2" y2="433.6" stroke="#222" stroke-width="0.9" />
<line x1="135.2" y1="427.1" x2="135.2" y2="440.8" stroke="#222" stroke-width="0.9" />
<line x1="132.45" y1="427.1" x2="137.95" y2="427.1" stroke="#222" stroke-width="0.9" />
<line x1="132.45" y1="440.8" x2="137.95" y2="440.8" stroke="#222" stroke-width="0.9" />
<circle cx="132.2" cy="425.7" r="1.75" fill="none" stroke="#1e1e1e" stroke-width="0.8"/>
<circle cx="138.1" cy="425.1" r="1.75" fill="none" stroke="#1e1e1e" stroke-width="0.8"/>
<circle cx="141.2" cy="429.2" r="1.75" fill="none" stroke="#1e1e1e" stroke-width="0.8"/>
<circle cx="129.3" cy="432.3" r="1.75" fill="none" stroke="#1e1e1e" stroke-width="0.8"/>
<circle cx="135" cy="431.5" r="1.75" fill="none" stroke="#1e1e1e" stroke-width="0.8"/>
<circle cx="141.2" cy="432.3" r="1.75" fill="none" stroke="#1e1e1e" stroke-width="0.8"/>
<circle cx="135" cy="436.2" r="1.75" fill="none" stroke="#1e1e1e" stroke-width="0.8"/>
<circle cx="141.2" cy="436.2" r="1.75" fill="none" stroke="#1e1e1e" stroke-width="0.8"/>
<circle cx="135" cy="441.5" r="1.75" fill="none" stroke="#1e1e1e" stroke-width="0.8"/>
<circle cx="135" cy="447.7" r="1.75" fill="none" stroke="#1e1e1e" stroke-width="0.8"/>
<line x1="151.6" y1="430.6" x2="161.6" y2="430.6" stroke="#222" stroke-width="0.9" />
<line x1="156.6" y1="424.1" x2="156.6" y2="437.1" stroke="#222" stroke-width="0.9" />
<line x1="153.85" y1="424.1" x2="159.35" y2="424.1" stroke="#222" stroke-width="0.9" />
<line x1="153.85" y1="437.1" x2="159.35" y2="437.1" stroke="#222" stroke-width="0.9" />
<circle cx="156.5" cy="420.5" r="1.75" fill="none" stroke="#1e1e1e" stroke-width="0.8"/>
<circle cx="150.7" cy="426.6" r="1.75" fill="none" stroke="#1e1e1e" stroke-width="0.8"/>
<circle cx="162.7" cy="427.2" r="1.75" fill="none" stroke="#1e1e1e" stroke-width="0.8"/>
<circle cx="150.7" cy="431.5" r="1.75" fill="none" stroke="#1e1e1e" stroke-width="0.8"/>
<circle cx="156.5" cy="430.8" r="1.75" fill="none" stroke="#1e1e1e" stroke-width="0.8"/>
<circle cx="162.7" cy="430.8" r="1.75" fill="none" stroke="#1e1e1e" stroke-width="0.8"/>
<circle cx="156.5" cy="435.4" r="1.75" fill="none" stroke="#1e1e1e" stroke-width="0.8"/>
<circle cx="162.7" cy="438" r="1.75" fill="none" stroke="#1e1e1e" stroke-width="0.8"/>
<circle cx="150.7" cy="440.5" r="1.75" fill="none" stroke="#1e1e1e" stroke-width="0.8"/>
<circle cx="156.5" cy="426" r="1.75" fill="none" stroke="#1e1e1e" stroke-width="0.8"/>
<line x1="173.1" y1="404" x2="183.1" y2="404" stroke="#2f5f9e" stroke-width="0.9" />
<line x1="178.1" y1="402" x2="178.1" y2="406" stroke="#2f5f9e" stroke-width="0.9" />
<line x1="175.35" y1="402" x2="180.85" y2="402" stroke="#2f5f9e" stroke-width="0.9" />
<line x1="175.35" y1="406" x2="180.85" y2="406" stroke="#2f5f9e" stroke-width="0.9" />
<circle cx="172.7" cy="403.5" r="1.75" fill="none" stroke="#1e1e1e" stroke-width="0.8"/>
<circle cx="178.1" cy="401.1" r="1.75" fill="none" stroke="#1e1e1e" stroke-width="0.8"/>
<circle cx="183.5" cy="401.5" r="1.75" fill="none" stroke="#1e1e1e" stroke-width="0.8"/>
<circle cx="172.7" cy="406.6" r="1.75" fill="none" stroke="#1e1e1e" stroke-width="0.8"/>
<circle cx="178.1" cy="404.6" r="1.75" fill="none" stroke="#1e1e1e" stroke-width="0.8"/>
<circle cx="183.5" cy="404.6" r="1.75" fill="none" stroke="#1e1e1e" stroke-width="0.8"/>
<line x1="194.7" y1="425.4" x2="204.7" y2="425.4" stroke="#2f5f9e" stroke-width="0.9" />
<line x1="199.7" y1="421" x2="199.7" y2="430" stroke="#2f5f9e" stroke-width="0.9" />
<line x1="196.95" y1="421" x2="202.45" y2="421" stroke="#2f5f9e" stroke-width="0.9" />
<line x1="196.95" y1="430" x2="202.45" y2="430" stroke="#2f5f9e" stroke-width="0.9" />
<circle cx="193.8" cy="420" r="1.75" fill="none" stroke="#1e1e1e" stroke-width="0.8"/>
<circle cx="199.7" cy="422.3" r="1.75" fill="none" stroke="#1e1e1e" stroke-width="0.8"/>
<circle cx="193.8" cy="425.4" r="1.75" fill="none" stroke="#1e1e1e" stroke-width="0.8"/>
<circle cx="199.7" cy="426.9" r="1.75" fill="none" stroke="#1e1e1e" stroke-width="0.8"/>
<circle cx="205.4" cy="426.9" r="1.75" fill="none" stroke="#1e1e1e" stroke-width="0.8"/>
<circle cx="199.7" cy="429.2" r="1.75" fill="none" stroke="#1e1e1e" stroke-width="0.8"/>
<circle cx="199.7" cy="431.5" r="1.75" fill="none" stroke="#1e1e1e" stroke-width="0.8"/>
<line x1="215.8" y1="465" x2="225.8" y2="465" stroke="#4fae4f" stroke-width="0.9" />
<line x1="220.8" y1="463.5" x2="220.8" y2="466.5" stroke="#4fae4f" stroke-width="0.9" />
<line x1="218.05" y1="463.5" x2="223.55" y2="463.5" stroke="#4fae4f" stroke-width="0.9" />
<line x1="218.05" y1="466.5" x2="223.55" y2="466.5" stroke="#4fae4f" stroke-width="0.9" />
<circle cx="215.4" cy="463.5" r="1.75" fill="none" stroke="#1e1e1e" stroke-width="0.8"/>
<circle cx="219.7" cy="463.1" r="1.75" fill="none" stroke="#1e1e1e" stroke-width="0.8"/>
<circle cx="223.8" cy="463.8" r="1.75" fill="none" stroke="#1e1e1e" stroke-width="0.8"/>
<circle cx="226.9" cy="465.1" r="1.75" fill="none" stroke="#1e1e1e" stroke-width="0.8"/>
<circle cx="215.4" cy="467.7" r="1.75" fill="none" stroke="#1e1e1e" stroke-width="0.8"/>
<circle cx="221.5" cy="465.5" r="1.75" fill="none" stroke="#1e1e1e" stroke-width="0.8"/>
<line x1="238.1" y1="423" x2="248.1" y2="423" stroke="#4fae4f" stroke-width="0.9" />
<line x1="243.1" y1="420" x2="243.1" y2="426.5" stroke="#4fae4f" stroke-width="0.9" />
<line x1="240.35" y1="420" x2="245.85" y2="420" stroke="#4fae4f" stroke-width="0.9" />
<line x1="240.35" y1="426.5" x2="245.85" y2="426.5" stroke="#4fae4f" stroke-width="0.9" />
<circle cx="236.9" cy="418.9" r="1.75" fill="none" stroke="#1e1e1e" stroke-width="0.8"/>
<circle cx="242.8" cy="420.5" r="1.75" fill="none" stroke="#1e1e1e" stroke-width="0.8"/>
<circle cx="248.9" cy="420.5" r="1.75" fill="none" stroke="#1e1e1e" stroke-width="0.8"/>
<circle cx="239.7" cy="423.8" r="1.75" fill="none" stroke="#1e1e1e" stroke-width="0.8"/>
<circle cx="245.8" cy="425.1" r="1.75" fill="none" stroke="#1e1e1e" stroke-width="0.8"/>
<circle cx="242.8" cy="428.5" r="1.75" fill="none" stroke="#1e1e1e" stroke-width="0.8"/>
<line x1="306.6" y1="372.5" x2="306.6" y2="478.3" stroke="#1c1c1c" stroke-width="1.15" />
<line x1="304.4" y1="374.7" x2="306.6" y2="374.7" stroke="#1c1c1c" stroke-width="0.9" />
<text x="301.6" y="377.8" font-size="8.6" fill="#2b2b2b" text-anchor="end">100</text>
<line x1="304.4" y1="395.32" x2="306.6" y2="395.32" stroke="#1c1c1c" stroke-width="0.9" />
<text x="301.6" y="398.42" font-size="8.6" fill="#2b2b2b" text-anchor="end">80</text>
<line x1="304.4" y1="415.94" x2="306.6" y2="415.94" stroke="#1c1c1c" stroke-width="0.9" />
<text x="301.6" y="419.04" font-size="8.6" fill="#2b2b2b" text-anchor="end">60</text>
<line x1="304.4" y1="436.56" x2="306.6" y2="436.56" stroke="#1c1c1c" stroke-width="0.9" />
<text x="301.6" y="439.66" font-size="8.6" fill="#2b2b2b" text-anchor="end">40</text>
<line x1="304.4" y1="457.18" x2="306.6" y2="457.18" stroke="#1c1c1c" stroke-width="0.9" />
<text x="301.6" y="460.28" font-size="8.6" fill="#2b2b2b" text-anchor="end">20</text>
<line x1="304.4" y1="477.8" x2="306.6" y2="477.8" stroke="#1c1c1c" stroke-width="0.9" />
<text x="301.6" y="480.9" font-size="8.6" fill="#2b2b2b" text-anchor="end">0</text>
<line x1="304.1" y1="477.8" x2="442.9" y2="477.8" stroke="#1c1c1c" stroke-width="1.15" />
<text x="375.05" y="358.9" font-size="9.6" fill="#1a1a1a" text-anchor="middle" textLength="29.3" lengthAdjust="spacingAndGlyphs">Spleen</text>
<text x="332.7" y="375.2" font-size="8.6" fill="#1a1a1a" text-anchor="middle" textLength="14.4" lengthAdjust="spacingAndGlyphs">CTL</text>
<text x="375.15" y="375.4" font-size="8.6" fill="#2f5f9e" text-anchor="middle" textLength="31.9" lengthAdjust="spacingAndGlyphs">R411H/Y</text>
<text x="394.6" y="375.4" font-size="8.6" fill="#4fae4f" textLength="49.6" lengthAdjust="spacingAndGlyphs">Slc25a38<tspan font-size="6.2" dy="-3">BMKO</tspan></text>
<text x="280.3" y="424.9" font-size="8.8" fill="#2b2b2b" text-anchor="middle" textLength="94.4" lengthAdjust="spacingAndGlyphs" transform="rotate(-90 280.3 424.9)">Percentage of Ter119+ cells</text>
<line x1="308.7" y1="413.1" x2="442.2" y2="413.1" stroke="#2b2b2b" stroke-width="0.8" stroke-dasharray="1.9,1.6"/>
<line x1="406.2" y1="386" x2="433.1" y2="386" stroke="#5cb85c" stroke-width="0.9" />
<text x="419.65" y="385.8" font-size="8.6" fill="#5cb85c" text-anchor="middle" textLength="13.99" lengthAdjust="spacingAndGlyphs">****</text>
<line x1="315.7" y1="412" x2="325.7" y2="412" stroke="#222" stroke-width="0.9" />
<line x1="320.7" y1="403" x2="320.7" y2="421" stroke="#222" stroke-width="0.9" />
<line x1="317.95" y1="403" x2="323.45" y2="403" stroke="#222" stroke-width="0.9" />
<line x1="317.95" y1="421" x2="323.45" y2="421" stroke="#222" stroke-width="0.9" />
<circle cx="320.7" cy="397.6" r="1.75" fill="none" stroke="#1e1e1e" stroke-width="0.8"/>
<circle cx="320.7" cy="404.2" r="1.75" fill="none" stroke="#1e1e1e" stroke-width="0.8"/>
<circle cx="314.5" cy="410.4" r="1.75" fill="none" stroke="#1e1e1e" stroke-width="0.8"/>
<circle cx="318.4" cy="410.4" r="1.75" fill="none" stroke="#1e1e1e" stroke-width="0.8"/>
<circle cx="323" cy="410.4" r="1.75" fill="none" stroke="#1e1e1e" stroke-width="0.8"/>
<circle cx="326.8" cy="408.4" r="1.75" fill="none" stroke="#1e1e1e" stroke-width="0.8"/>
<circle cx="320.7" cy="412.7" r="1.75" fill="none" stroke="#1e1e1e" stroke-width="0.8"/>
<circle cx="323.7" cy="413.5" r="1.75" fill="none" stroke="#1e1e1e" stroke-width="0.8"/>
<circle cx="318.4" cy="415.8" r="1.75" fill="none" stroke="#1e1e1e" stroke-width="0.8"/>
<circle cx="318.4" cy="425.8" r="1.75" fill="none" stroke="#1e1e1e" stroke-width="0.8"/>
<circle cx="323" cy="425" r="1.75" fill="none" stroke="#1e1e1e" stroke-width="0.8"/>
<line x1="337.2" y1="415.3" x2="347.2" y2="415.3" stroke="#222" stroke-width="0.9" />
<line x1="342.2" y1="405" x2="342.2" y2="424.5" stroke="#222" stroke-width="0.9" />
<line x1="339.45" y1="405" x2="344.95" y2="405" stroke="#222" stroke-width="0.9" />
<line x1="339.45" y1="424.5" x2="344.95" y2="424.5" stroke="#222" stroke-width="0.9" />
<circle cx="342.2" cy="396.5" r="1.75" fill="none" stroke="#1e1e1e" stroke-width="0.8"/>
<circle cx="340.2" cy="402.7" r="1.75" fill="none" stroke="#1e1e1e" stroke-width="0.8"/>
<circle cx="344.2" cy="401.6" r="1.75" fill="none" stroke="#1e1e1e" stroke-width="0.8"/>
<circle cx="342.2" cy="412.7" r="1.75" fill="none" stroke="#1e1e1e" stroke-width="0.8"/>
<circle cx="336.8" cy="423.5" r="1.75" fill="none" stroke="#1e1e1e" stroke-width="0.8"/>
<circle cx="340.2" cy="422.7" r="1.75" fill="none" stroke="#1e1e1e" stroke-width="0.8"/>
<circle cx="344.2" cy="420.7" r="1.75" fill="none" stroke="#1e1e1e" stroke-width="0.8"/>
<circle cx="347.9" cy="422.7" r="1.75" fill="none" stroke="#1e1e1e" stroke-width="0.8"/>
<circle cx="340.2" cy="426.8" r="1.75" fill="none" stroke="#1e1e1e" stroke-width="0.8"/>
<circle cx="344.2" cy="424.7" r="1.75" fill="none" stroke="#1e1e1e" stroke-width="0.8"/>
<line x1="358.7" y1="402" x2="368.7" y2="402" stroke="#2f5f9e" stroke-width="0.9" />
<line x1="363.7" y1="400.5" x2="363.7" y2="404" stroke="#2f5f9e" stroke-width="0.9" />
<line x1="360.95" y1="400.5" x2="366.45" y2="400.5" stroke="#2f5f9e" stroke-width="0.9" />
<line x1="360.95" y1="404" x2="366.45" y2="404" stroke="#2f5f9e" stroke-width="0.9" />
<circle cx="358.1" cy="400.4" r="1.75" fill="none" stroke="#1e1e1e" stroke-width="0.8"/>
<circle cx="363.7" cy="400.1" r="1.75" fill="none" stroke="#1e1e1e" stroke-width="0.8"/>
<circle cx="369.9" cy="400.4" r="1.75" fill="none" stroke="#1e1e1e" stroke-width="0.8"/>
<circle cx="358.1" cy="405.8" r="1.75" fill="none" stroke="#1e1e1e" stroke-width="0.8"/>
<circle cx="363.7" cy="403.5" r="1.75" fill="none" stroke="#1e1e1e" stroke-width="0.8"/>
<circle cx="369.9" cy="404.2" r="1.75" fill="none" stroke="#1e1e1e" stroke-width="0.8"/>
<line x1="380.3" y1="405.2" x2="390.3" y2="405.2" stroke="#2f5f9e" stroke-width="0.9" />
<line x1="385.3" y1="393.5" x2="385.3" y2="414" stroke="#2f5f9e" stroke-width="0.9" />
<line x1="382.55" y1="393.5" x2="388.05" y2="393.5" stroke="#2f5f9e" stroke-width="0.9" />
<line x1="382.55" y1="414" x2="388.05" y2="414" stroke="#2f5f9e" stroke-width="0.9" />
<circle cx="382.4" cy="396.2" r="1.75" fill="none" stroke="#1e1e1e" stroke-width="0.8"/>
<circle cx="388.2" cy="398.1" r="1.75" fill="none" stroke="#1e1e1e" stroke-width="0.8"/>
<circle cx="382.4" cy="405.2" r="1.75" fill="none" stroke="#1e1e1e" stroke-width="0.8"/>
<circle cx="388.2" cy="405.2" r="1.75" fill="none" stroke="#1e1e1e" stroke-width="0.8"/>
<circle cx="388.2" cy="407.2" r="1.75" fill="none" stroke="#1e1e1e" stroke-width="0.8"/>
<circle cx="385.3" cy="421.2" r="1.75" fill="none" stroke="#1e1e1e" stroke-width="0.8"/>
<line x1="402" y1="439.1" x2="412" y2="439.1" stroke="#5cc07a" stroke-width="0.9" />
<line x1="407" y1="432.1" x2="407" y2="445.8" stroke="#5cc07a" stroke-width="0.9" />
<line x1="404.25" y1="432.1" x2="409.75" y2="432.1" stroke="#5cc07a" stroke-width="0.9" />
<line x1="404.25" y1="445.8" x2="409.75" y2="445.8" stroke="#5cc07a" stroke-width="0.9" />
<circle cx="406.8" cy="426.9" r="1.75" fill="none" stroke="#1e1e1e" stroke-width="0.8"/>
<circle cx="406.8" cy="429.2" r="1.75" fill="none" stroke="#1e1e1e" stroke-width="0.8"/>
<circle cx="404.1" cy="440.4" r="1.75" fill="none" stroke="#1e1e1e" stroke-width="0.8"/>
<circle cx="409.3" cy="440.4" r="1.75" fill="none" stroke="#1e1e1e" stroke-width="0.8"/>
<circle cx="404.1" cy="448.1" r="1.75" fill="none" stroke="#1e1e1e" stroke-width="0.8"/>
<circle cx="409.3" cy="448.1" r="1.75" fill="none" stroke="#1e1e1e" stroke-width="0.8"/>
<line x1="423.6" y1="405.8" x2="433.6" y2="405.8" stroke="#4fae4f" stroke-width="0.9" />
<line x1="428.6" y1="400.5" x2="428.6" y2="411.5" stroke="#4fae4f" stroke-width="0.9" />
<line x1="425.85" y1="400.5" x2="431.35" y2="400.5" stroke="#4fae4f" stroke-width="0.9" />
<line x1="425.85" y1="411.5" x2="431.35" y2="411.5" stroke="#4fae4f" stroke-width="0.9" />
<circle cx="422.8" cy="400" r="1.75" fill="none" stroke="#1e1e1e" stroke-width="0.8"/>
<circle cx="428.6" cy="401.3" r="1.75" fill="none" stroke="#1e1e1e" stroke-width="0.8"/>
<circle cx="434.3" cy="401.3" r="1.75" fill="none" stroke="#1e1e1e" stroke-width="0.8"/>
<circle cx="428.6" cy="406.2" r="1.75" fill="none" stroke="#1e1e1e" stroke-width="0.8"/>
<circle cx="428.6" cy="411" r="1.75" fill="none" stroke="#1e1e1e" stroke-width="0.8"/>
<circle cx="428.6" cy="414.8" r="1.75" fill="none" stroke="#1e1e1e" stroke-width="0.8"/>
<line x1="120.9" y1="491.3" x2="120.9" y2="572.3" stroke="#1c1c1c" stroke-width="1.15" />
<line x1="118.4" y1="571.9" x2="257.2" y2="571.9" stroke="#1c1c1c" stroke-width="1.15" />
<line x1="118.5" y1="498.5" x2="120.9" y2="498.5" stroke="#2b2b2b" stroke-width="0.8" />
<text x="116.1" y="501.6" font-size="8.6" fill="#2b2b2b" text-anchor="end">100</text>
<line x1="118.5" y1="535.1" x2="120.9" y2="535.1" stroke="#2b2b2b" stroke-width="0.8" />
<text x="116.1" y="538.2" font-size="8.6" fill="#2b2b2b" text-anchor="end">50</text>
<line x1="118.5" y1="571.7" x2="120.9" y2="571.7" stroke="#2b2b2b" stroke-width="0.8" />
<text x="116.1" y="574.8" font-size="8.6" fill="#2b2b2b" text-anchor="end">0</text>
<line x1="119.3" y1="516.8" x2="120.9" y2="516.8" stroke="#2b2b2b" stroke-width="0.8" />
<line x1="119.3" y1="553.4" x2="120.9" y2="553.4" stroke="#2b2b2b" stroke-width="0.8" />
<text x="95.8" y="531.3" font-size="8.8" fill="#2b2b2b" text-anchor="middle" textLength="46" lengthAdjust="spacingAndGlyphs" transform="rotate(-90 95.8 531.3)">Percentage of</text>
<rect x="128.5" y="500.8" width="13.4" height="70.9" fill="#cbcbcb" />
<rect x="128.5" y="517.1" width="13.4" height="54.6" fill="#7b7b7b" />
<rect x="128.5" y="535" width="13.4" height="36.7" fill="#151515" />
<line x1="135.2" y1="494.6" x2="135.2" y2="500.8" stroke="#111" stroke-width="0.9" />
<line x1="132.6" y1="494.6" x2="137.8" y2="494.6" stroke="#111" stroke-width="1" />
<line x1="135.2" y1="513.3" x2="135.2" y2="517.1" stroke="#111" stroke-width="0.9" />
<line x1="132.6" y1="513.3" x2="137.8" y2="513.3" stroke="#111" stroke-width="1" />
<line x1="135.2" y1="528.7" x2="135.2" y2="535" stroke="#111" stroke-width="0.9" />
<line x1="132.6" y1="528.7" x2="137.8" y2="528.7" stroke="#111" stroke-width="1" />
<line x1="135.2" y1="571.7" x2="135.2" y2="574" stroke="#2b2b2b" stroke-width="0.8" />
<text x="135.2" y="585" font-size="8.6" fill="#2b2b2b" text-anchor="middle">0</text>
<rect x="150.2" y="500.8" width="12.9" height="70.9" fill="#cbcbcb" />
<rect x="150.2" y="519.6" width="12.9" height="52.1" fill="#7b7b7b" />
<rect x="150.2" y="534" width="12.9" height="37.7" fill="#151515" />
<line x1="156.65" y1="494.6" x2="156.65" y2="500.8" stroke="#111" stroke-width="0.9" />
<line x1="154.05" y1="494.6" x2="159.25" y2="494.6" stroke="#111" stroke-width="1" />
<line x1="156.65" y1="515.8" x2="156.65" y2="519.6" stroke="#111" stroke-width="0.9" />
<line x1="154.05" y1="515.8" x2="159.25" y2="515.8" stroke="#111" stroke-width="1" />
<line x1="156.65" y1="527.3" x2="156.65" y2="534" stroke="#111" stroke-width="0.9" />
<line x1="154.05" y1="527.3" x2="159.25" y2="527.3" stroke="#111" stroke-width="1" />
<line x1="156.65" y1="571.7" x2="156.65" y2="574" stroke="#2b2b2b" stroke-width="0.8" />
<text x="156.65" y="585" font-size="8.6" fill="#2b2b2b" text-anchor="middle">10</text>
<rect x="171.9" y="500.8" width="13.1" height="70.9" fill="#c3c8e2" />
<rect x="171.9" y="540.6" width="13.1" height="31.1" fill="#6b83b8" />
<rect x="171.9" y="567.5" width="13.1" height="4.2" fill="#1a4f8e" />
<line x1="178.45" y1="497.7" x2="178.45" y2="500.8" stroke="#111" stroke-width="0.9" />
<line x1="175.85" y1="497.7" x2="181.05" y2="497.7" stroke="#111" stroke-width="1" />
<line x1="178.45" y1="538.1" x2="178.45" y2="540.6" stroke="#111" stroke-width="0.9" />
<line x1="175.85" y1="538.1" x2="181.05" y2="538.1" stroke="#111" stroke-width="1" />
<line x1="178.45" y1="566.2" x2="178.45" y2="567.5" stroke="#111" stroke-width="0.9" />
<line x1="175.85" y1="566.2" x2="181.05" y2="566.2" stroke="#111" stroke-width="1" />
<line x1="178.45" y1="571.7" x2="178.45" y2="574" stroke="#2b2b2b" stroke-width="0.8" />
<text x="178.45" y="585" font-size="8.6" fill="#2b2b2b" text-anchor="middle">0</text>
<rect x="193.3" y="500.8" width="13.4" height="70.9" fill="#c3c8e2" />
<rect x="193.3" y="520" width="13.4" height="51.7" fill="#6b83b8" />
<rect x="193.3" y="537.1" width="13.4" height="34.6" fill="#1a4f8e" />
<line x1="200" y1="495" x2="200" y2="500.8" stroke="#111" stroke-width="0.9" />
<line x1="197.4" y1="495" x2="202.6" y2="495" stroke="#111" stroke-width="1" />
<line x1="200" y1="517.5" x2="200" y2="520" stroke="#111" stroke-width="0.9" />
<line x1="197.4" y1="517.5" x2="202.6" y2="517.5" stroke="#111" stroke-width="1" />
<line x1="200" y1="531.5" x2="200" y2="537.1" stroke="#111" stroke-width="0.9" />
<line x1="197.4" y1="531.5" x2="202.6" y2="531.5" stroke="#111" stroke-width="1" />
<line x1="200" y1="571.7" x2="200" y2="574" stroke="#2b2b2b" stroke-width="0.8" />
<text x="200" y="585" font-size="8.6" fill="#2b2b2b" text-anchor="middle">10</text>
<rect x="215.2" y="501.5" width="12.7" height="70.2" fill="#d6ecd0" />
<rect x="215.2" y="517.9" width="12.7" height="53.8" fill="#8ecf7e" />
<rect x="215.2" y="534.4" width="12.7" height="37.3" fill="#37ab37" />
<line x1="221.55" y1="499.2" x2="221.55" y2="501.5" stroke="#111" stroke-width="0.9" />
<line x1="218.95" y1="499.2" x2="224.15" y2="499.2" stroke="#111" stroke-width="1" />
<line x1="221.55" y1="512.3" x2="221.55" y2="517.9" stroke="#111" stroke-width="0.9" />
<line x1="218.95" y1="512.3" x2="224.15" y2="512.3" stroke="#111" stroke-width="1" />
<line x1="221.55" y1="529" x2="221.55" y2="534.4" stroke="#111" stroke-width="0.9" />
<line x1="218.95" y1="529" x2="224.15" y2="529" stroke="#111" stroke-width="1" />
<line x1="221.55" y1="571.7" x2="221.55" y2="574" stroke="#2b2b2b" stroke-width="0.8" />
<text x="221.55" y="585" font-size="8.6" fill="#2b2b2b" text-anchor="middle">0</text>
<rect x="236.5" y="500.2" width="13.3" height="71.5" fill="#d6ecd0" />
<rect x="236.5" y="528.5" width="13.3" height="43.2" fill="#8ecf7e" />
<rect x="236.5" y="552.1" width="13.3" height="19.6" fill="#37ab37" />
<line x1="243.15" y1="495" x2="243.15" y2="500.2" stroke="#111" stroke-width="0.9" />
<line x1="240.55" y1="495" x2="245.75" y2="495" stroke="#111" stroke-width="1" />
<line x1="243.15" y1="526.7" x2="243.15" y2="528.5" stroke="#111" stroke-width="0.9" />
<line x1="240.55" y1="526.7" x2="245.75" y2="526.7" stroke="#111" stroke-width="1" />
<line x1="243.15" y1="548.3" x2="243.15" y2="552.1" stroke="#111" stroke-width="0.9" />
<line x1="240.55" y1="548.3" x2="245.75" y2="548.3" stroke="#111" stroke-width="1" />
<line x1="243.15" y1="571.7" x2="243.15" y2="574" stroke="#2b2b2b" stroke-width="0.8" />
<text x="243.15" y="585" font-size="8.6" fill="#2b2b2b" text-anchor="middle">10</text>
<text x="188.8" y="598.2" font-size="8.8" fill="#2b2b2b" text-anchor="middle" textLength="26.8" lengthAdjust="spacingAndGlyphs">ppm B6</text>
<line x1="306.6" y1="491.3" x2="306.6" y2="572.3" stroke="#1c1c1c" stroke-width="1.15" />
<line x1="304.1" y1="571.9" x2="442.9" y2="571.9" stroke="#1c1c1c" stroke-width="1.15" />
<line x1="304.2" y1="498.5" x2="306.6" y2="498.5" stroke="#2b2b2b" stroke-width="0.8" />
<text x="301.8" y="501.6" font-size="8.6" fill="#2b2b2b" text-anchor="end">100</text>
<line x1="304.2" y1="535.1" x2="306.6" y2="535.1" stroke="#2b2b2b" stroke-width="0.8" />
<text x="301.8" y="538.2" font-size="8.6" fill="#2b2b2b" text-anchor="end">50</text>
<line x1="304.2" y1="571.7" x2="306.6" y2="571.7" stroke="#2b2b2b" stroke-width="0.8" />
<text x="301.8" y="574.8" font-size="8.6" fill="#2b2b2b" text-anchor="end">0</text>
<line x1="305" y1="516.8" x2="306.6" y2="516.8" stroke="#2b2b2b" stroke-width="0.8" />
<line x1="305" y1="553.4" x2="306.6" y2="553.4" stroke="#2b2b2b" stroke-width="0.8" />
<text x="281.5" y="531.3" font-size="8.8" fill="#2b2b2b" text-anchor="middle" textLength="46" lengthAdjust="spacingAndGlyphs" transform="rotate(-90 281.5 531.3)">Percentage of</text>
<rect x="314.2" y="499.2" width="13.1" height="72.5" fill="#cbcbcb" />
<rect x="314.2" y="500.8" width="13.1" height="70.9" fill="#7b7b7b" />
<rect x="314.2" y="503.1" width="13.1" height="68.6" fill="#151515" />
<line x1="320.75" y1="495" x2="320.75" y2="503.1" stroke="#111" stroke-width="0.9" />
<line x1="318.15" y1="495" x2="323.35" y2="495" stroke="#111" stroke-width="1" />
<line x1="320.75" y1="497.5" x2="320.75" y2="503.1" stroke="#111" stroke-width="0.9" />
<line x1="318.15" y1="497.5" x2="323.35" y2="497.5" stroke="#111" stroke-width="1" />
<line x1="320.75" y1="571.7" x2="320.75" y2="574" stroke="#2b2b2b" stroke-width="0.8" />
<text x="320.75" y="585" font-size="8.6" fill="#2b2b2b" text-anchor="middle">0</text>
<rect x="336" y="499.6" width="12.8" height="72.1" fill="#cbcbcb" />
<rect x="336" y="500.6" width="12.8" height="71.1" fill="#7b7b7b" />
<rect x="336" y="503" width="12.8" height="68.7" fill="#151515" />
<line x1="342.4" y1="499.2" x2="342.4" y2="503" stroke="#111" stroke-width="0.9" />
<line x1="339.8" y1="499.2" x2="345" y2="499.2" stroke="#111" stroke-width="1" />
<line x1="342.4" y1="571.7" x2="342.4" y2="574" stroke="#2b2b2b" stroke-width="0.8" />
<text x="342.4" y="585" font-size="8.6" fill="#2b2b2b" text-anchor="middle">10</text>
<rect x="357.3" y="499.8" width="13.5" height="71.9" fill="#c3c8e2" />
<rect x="357.3" y="540" width="13.5" height="31.7" fill="#6b83b8" />
<rect x="357.3" y="566.9" width="13.5" height="4.8" fill="#1a4f8e" />
<line x1="364.05" y1="498.7" x2="364.05" y2="499.8" stroke="#111" stroke-width="0.9" />
<line x1="361.45" y1="498.7" x2="366.65" y2="498.7" stroke="#111" stroke-width="1" />
<line x1="364.05" y1="537.3" x2="364.05" y2="540" stroke="#111" stroke-width="0.9" />
<line x1="361.45" y1="537.3" x2="366.65" y2="537.3" stroke="#111" stroke-width="1" />
<line x1="364.05" y1="565.2" x2="364.05" y2="566.9" stroke="#111" stroke-width="0.9" />
<line x1="361.45" y1="565.2" x2="366.65" y2="565.2" stroke="#111" stroke-width="1" />
<line x1="364.05" y1="571.7" x2="364.05" y2="574" stroke="#2b2b2b" stroke-width="0.8" />
<text x="364.05" y="585" font-size="8.6" fill="#2b2b2b" text-anchor="middle">0</text>
<rect x="379.2" y="499.8" width="12.7" height="71.9" fill="#c3c8e2" />
<rect x="379.2" y="505" width="12.7" height="66.7" fill="#6b83b8" />
<rect x="379.2" y="511.7" width="12.7" height="60" fill="#1a4f8e" />
<line x1="385.55" y1="498.3" x2="385.55" y2="499.8" stroke="#111" stroke-width="0.9" />
<line x1="382.95" y1="498.3" x2="388.15" y2="498.3" stroke="#111" stroke-width="1" />
<line x1="385.55" y1="503.7" x2="385.55" y2="505" stroke="#111" stroke-width="0.9" />
<line x1="382.95" y1="503.7" x2="388.15" y2="503.7" stroke="#111" stroke-width="1" />
<line x1="385.55" y1="507.5" x2="385.55" y2="511.7" stroke="#111" stroke-width="0.9" />
<line x1="382.95" y1="507.5" x2="388.15" y2="507.5" stroke="#111" stroke-width="1" />
<line x1="385.55" y1="571.7" x2="385.55" y2="574" stroke="#2b2b2b" stroke-width="0.8" />
<text x="385.55" y="585" font-size="8.6" fill="#2b2b2b" text-anchor="middle">10</text>
<rect x="401" y="502.7" width="12.8" height="69" fill="#d6ecd0" />
<rect x="401" y="504" width="12.8" height="67.7" fill="#8ecf7e" />
<rect x="401" y="506.9" width="12.8" height="64.8" fill="#37ab37" />
<line x1="407.4" y1="498.3" x2="407.4" y2="502.7" stroke="#111" stroke-width="0.9" />
<line x1="404.8" y1="498.3" x2="410" y2="498.3" stroke="#111" stroke-width="1" />
<line x1="407.4" y1="502.5" x2="407.4" y2="506.9" stroke="#111" stroke-width="0.9" />
<line x1="404.8" y1="502.5" x2="410" y2="502.5" stroke="#111" stroke-width="1" />
<line x1="407.4" y1="571.7" x2="407.4" y2="574" stroke="#2b2b2b" stroke-width="0.8" />
<text x="407.4" y="585" font-size="8.6" fill="#2b2b2b" text-anchor="middle">0</text>
<rect x="422.7" y="500.2" width="12.5" height="71.5" fill="#d6ecd0" />
<rect x="422.7" y="518.5" width="12.5" height="53.2" fill="#8ecf7e" />
<rect x="422.7" y="540" width="12.5" height="31.7" fill="#37ab37" />
<line x1="428.95" y1="497.3" x2="428.95" y2="500.2" stroke="#111" stroke-width="0.9" />
<line x1="426.35" y1="497.3" x2="431.55" y2="497.3" stroke="#111" stroke-width="1" />
<line x1="428.95" y1="515.6" x2="428.95" y2="518.5" stroke="#111" stroke-width="0.9" />
<line x1="426.35" y1="515.6" x2="431.55" y2="515.6" stroke="#111" stroke-width="1" />
<line x1="428.95" y1="536.7" x2="428.95" y2="540" stroke="#111" stroke-width="0.9" />
<line x1="426.35" y1="536.7" x2="431.55" y2="536.7" stroke="#111" stroke-width="1" />
<line x1="428.95" y1="571.7" x2="428.95" y2="574" stroke="#2b2b2b" stroke-width="0.8" />
<text x="428.95" y="585" font-size="8.6" fill="#2b2b2b" text-anchor="middle">10</text>
<text x="374.5" y="598.2" font-size="8.8" fill="#2b2b2b" text-anchor="middle" textLength="26.8" lengthAdjust="spacingAndGlyphs">ppm B6</text>
<text x="178.4" y="563" font-size="4.2" fill="#e6ecf7" text-anchor="middle">†</text>
<text x="364.1" y="562" font-size="4.2" fill="#e6ecf7" text-anchor="middle">†</text>
<rect x="212.5" y="608.8" width="5" height="4.6" fill="#cbcbcb" />
<text x="221.3" y="613.4" font-size="7.6" fill="#222">Eblasts</text>
<rect x="212.5" y="620.05" width="5" height="4.6" fill="#7b7b7b" />
<text x="221.3" y="624.65" font-size="7.6" fill="#222">Transition</text>
<rect x="212.5" y="631.3" width="5" height="4.6" fill="#151515" />
<text x="221.3" y="635.9" font-size="7.6" fill="#222">cRBC</text>
<rect x="260" y="608.8" width="5" height="4.6" fill="#c3c8e2" />
<text x="268.8" y="613.4" font-size="7.6" fill="#222">Eblasts</text>
<rect x="260" y="620.05" width="5" height="4.6" fill="#6b83b8" />
<text x="268.8" y="624.65" font-size="7.6" fill="#222">Transition<tspan font-size="4.5" dy="-3">†</tspan></text>
<rect x="260" y="631.3" width="5" height="4.6" fill="#1a4f8e" />
<text x="268.8" y="635.9" font-size="7.6" fill="#222">cRBC</text>
<rect x="311.3" y="608.8" width="5" height="4.6" fill="#d6ecd0" />
<text x="320" y="613.4" font-size="7.6" fill="#222">Eblasts</text>
<rect x="311.3" y="620.05" width="5" height="4.6" fill="#8ecf7e" />
<text x="320" y="624.65" font-size="7.6" fill="#222">Transition</text>
<rect x="311.3" y="631.3" width="5" height="4.6" fill="#37ab37" />
<text x="320" y="635.9" font-size="7.6" fill="#222">cRBC</text>
<rect x="0" y="0" width="520" height="1" fill="#5e5e5e" />
<rect x="0" y="0" width="1" height="644" fill="#4a4a4a" />
<rect x="519" y="0" width="1" height="644" fill="#3c3c3c" />
<rect x="0" y="643" width="520" height="1" fill="#363636" />
</svg></body></html>
